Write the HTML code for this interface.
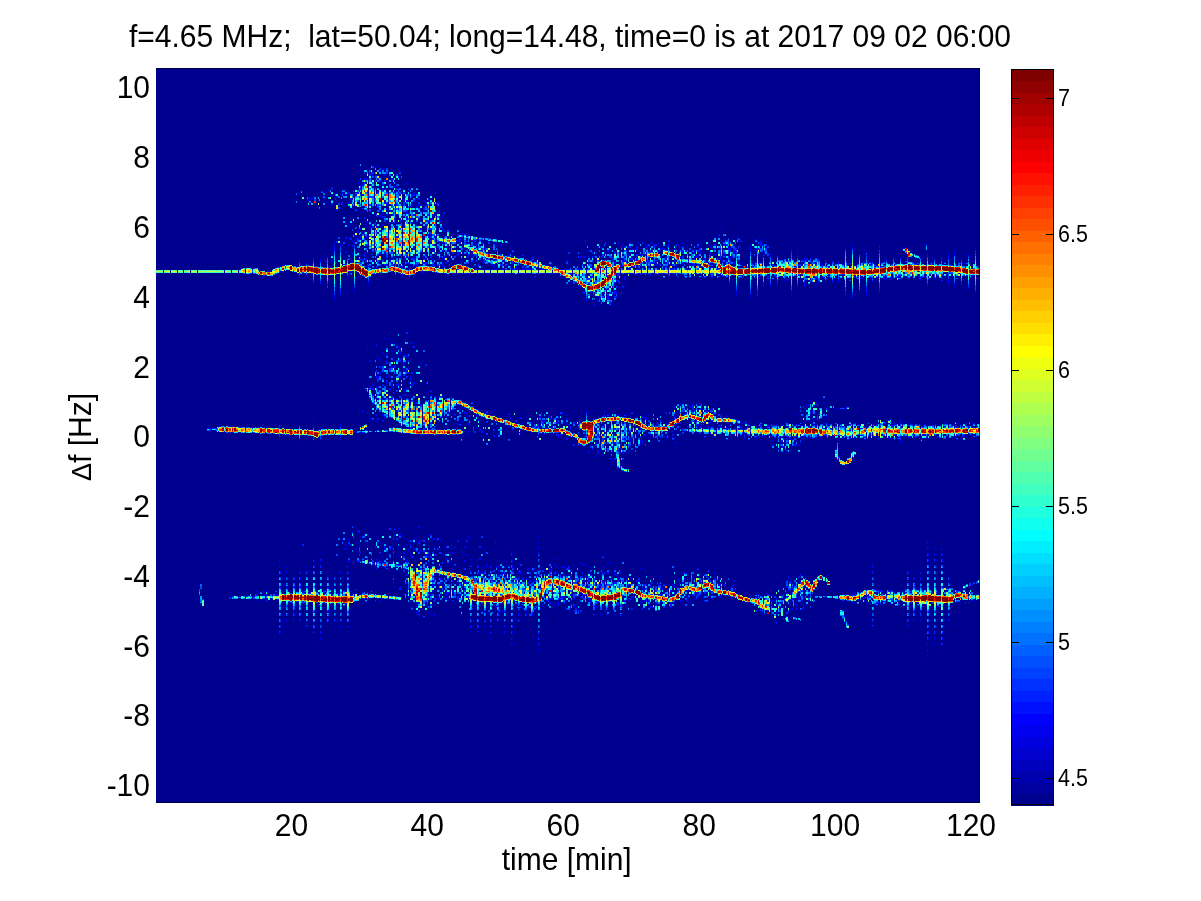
<!DOCTYPE html>
<html><head><meta charset="utf-8"><title>Doppler spectrogram</title>
<style>
html,body{margin:0;padding:0;background:#fff;}
body{width:1201px;height:901px;overflow:hidden;}
svg{display:block;position:absolute;left:0;top:0;}
text{font-family:"Liberation Sans",sans-serif;fill:#000;white-space:pre;}
</style></head><body>
<svg width="1201" height="901" viewBox="0 0 1201 901">
<rect x="0" y="0" width="1201" height="901" fill="#fff"/>
<rect x="156" y="68" width="824" height="735" fill="#00008f"/>
<g fill="none" shape-rendering="crispEdges">
<path stroke="#0000bf" stroke-width="1" transform="translate(.5)" d="M183 271v1m41 160v1m14-162v1m21 2v1m0 322v1m3-5v1m0 5v1m3-168v1m1-158v1m0 323v1m1-5v1m12 42v2m1-374v1m0 294v1m0 3v1m0 20v1m1-321v1m3-2v1m1 335v1m1-36v1m0 58v1m1-5v1m7-3v1m1-18v1m1-331v1m3-16v1m0 308v2m0 63v1m7-73v1m1 67v1m1-36v1m5-169v1m0 16v1m0 197v1m1-444v1m0 434v1m1-436v1m0 405v1m3-64v1m0 52v1m0 11v1m2-321v1m0 156v1m1 119v1m0 71v1m1-31v1m5-348v1m1-68v1m0 17v1m0 10v1m0 354v1m1-385v1m0 17v1m0 10v1m4-26v1m0 6v1m1 42v1m0 1v1m0 53v1m0 272v1m1-36v1m0 10v1m5-304v1m1-45v1m0 370v2m1-33v1m5-284v1m0 308v1m1-343v1m0 19v1m0 293v3m0 29v1m1-347v1m0 19v1m0 293v3m3-307v1m0 24v1m1-68v1m0 239v1m0 127v1m1-318v1m0 47v1m5-51v1m0 166v1m0 189v1m1-432v1m0 19v1m1 86v1m3-41v1m3 23v1m0 2v1m0 129v1m1-109v1m3-81v1m0 63v1m0 91v2m0 8v2m3 27v1m1-229v1m0 15v1m0 65v1m0 285v1m0 42v2m1-418v1m0 13v2m0 22v1m0 2v1m0 135v1m0 14v1m0 177v2m0 8v1m12-298v1m5-80v1m0 158v1m0 89v1m0 116v1m0 7v1m1-204v1m1-80v2m0 300v1m3-373v1m0 43v2m0 126v2m0 23v1m0 144v1m0 13v1m3-329v1m0 47v1m0 328v1m1-322v1m0 1v1m0 127v1m3-147v1m0 95v1m0 35v2m0 205v1m3-243v1m0 36v2m0 37v1m0 106v1m1-116v1m1-159v1m0 109v1m0 2v2m0 20v1m0 151v2m5-137v1m7-9v1m5-178v1m0 28v1m0 160v1m1 176v1m0 11v1m6-412v1m0 12v1m0 28v1m0 5v1m0 145v1m0 22v1m0 126v1m1-334v3m4 0v2m0 8v2m0 45v1m0 152v1m0 157v2m3-369v1m0 177v1m0 204v1m1-196v1m1 156v1m5-290v1m0 146v1m0 124v1m0 32v1m0 16v1m2-358v1m0 361v1m0 3v1m5-342v1m0 7v1m5 134v1m1-175v1m0 173v1m0 145v2m1-290v1m5 339v1m1-15v2m1 18v1m0 22v1m1-393v1m0 9v1m0 307v1m0 15v1m1-335v1m0 9v1m0 323v1m0 26v1m1-363v1m0 1v1m0 188v1m3-185v1m0 315v1m1-294v1m0 339v1m0 22v1m1-76v1m0 21v1m0 45v1m6-1v1m1-53v1m0 50v1m5-368v1m1 306v1m4-302v1m0 306v1m1-327v1m1 18v1m0 1v1m0 319v1m1-345v1m0 30v1m0 141v1m0 150v1m0 7v1m0 46v1m1-380v1m0 30v1m0 141v1m0 150v1m0 7v1m4-148v1m1-167v1m0 299v1m1-143v1m0 141v1m0 65v1m0 3v2m1-214v1m0 141v1m0 40v1m1-347v1m0 5v2m0 5v1m4 277v1m1-293v1m0 301v1m0 23v1m0 57v1m0 3v1m1-389v1m0 301v1m0 23v1m4 23v1m1-350v2m0 7v1m0 6v1m1 299v1m0 40v1m0 1v1m0 3v1m6-34v1m0 25v1m1-2v1m0 1v1m5-36v1m1-323v1m0 164v1m1-166v1m0 164v1m0 183v1m3-345v1m0 7v1m0 304v1m0 1v1m1-319v1m0 163v2m0 141v1m0 42v1m1-186v1m0 112v1m0 4v2m0 107v2m1-226v2m0 119v1m0 89v1m1-212v2m0 156v1m0 16v1m1 8v1m3-342v1m0 3v1m0 154v1m0 9v1m0 180v1m1-188v1m6-13v1m0 3v2m1-1v1m0 2v1m0 6v2m1-18v1m0 173v1m0 4v1m6-330v1m1 327v1m10-162v1m0 139v1m1-308v1m0 13v1m0 287v1m1-300v1m5 301v1m0 36v1m2-196v1m0 13v1m0 3v1m3-142v1m0 287v1m0 13v1m3-351v1m2 320v1m0 13v1m0 3v2m5-322v1m1 10v1m1-20v2m0 170v1m0 15v1m0 12v1m5-199v1m0 188v1m0 129v1m0 7v1m1-316v1m0 306v1m0 36v1m1-370v1m0 53v1m0 140v1m0 142v1m3-330v1m0 157v1m0 168v1m1-294v1m0 123v1m0 1v1m0 25v1m0 10v1m0 125v1m0 27v1m1-317v1m0 280v1m0 5v1m0 32v1m1-354v1m1-1v1m4 44v1m0 158v1m1 121v1m0 27v1m1-178v2m0 138v1m0 39v1m1-181v2m0 138v1m1-150v1m3-11v1m0 35v1m0 129v1m1-119v3m0 105v1m1-331v1m0 22v1m0 181v1m0 167v1m5-200v1m0 37v1m0 122v1m2-323v1m0 162v1m0 10v1m0 21v1m5-203v1m0 4v1m0 13v1m0 314v1m1 6v1m1-321v1m0 178v1m0 137v1m0 8v1m7 5v1m3-356v1m0 187v1m1-190v1m1-1v1m0 1v1m0 22v1m3-24v1m0 18v1m0 8v1m0 166v1m0 159v1m7-361v1m0 17v2m3 350v1m2-181v1m5-1v1m1-193v1m0 2v1m0 23v1m0 4v1m0 150v1m1-159v1m0 166v1m0 175v1m5-351v2m0 7v1m0 138v1m0 32v1m1-192v1m0 166v1m0 7v1m1-13v1m0 6v1m0 13v1m3-185v1m0 165v2m0 16v1m1-186v1m4 349v1m3-324v1m0 148v1m0 166v1m0 6v1m1-168v1m0 171v2m1-341v1m0 142v1m0 11v1m0 4v1m1-161v1m0 142v1m0 11v1m0 4v1m1-160v1m0 328v1m3-351v1m0 327v1m7-170v1m0 191v1m1-326v1m1-22v1m0 340v1m5-162v1m2-175v2m0 8v1m0 10v1m0 144v1m10-147v1m0 1v1m0 302v1m0 3v1m0 13v1m1-368v1m4 350v1m3-335v1m0 15v1m0 12v1m1 6v1m0 1v1m1-27v1m0 173v1m6-139v1m6-61v1m0 27v1m2 174v1m6-195v1m0 5v1m0 43v3m0 135v1m1-167v1m6-26v1m0 1v1m0 53v2m1-50v1m0 360v1m1-374v1m0 16v1m0 1v1m0 5v1m0 333v1m3-169v1m1-176v1m0 30v1m1 310v1m7-334v1m0 163v1m0 8v2m0 162v1m0 1v1m5-178v1m0 185v1m7-187v1m0 26v2m0 156v1m1-352v1m0 20v1m1-3v1m0 161v1m3 164v2m4-167v1m0 148v1m1-154v1m0 6v2m0 8v1m0 131v1m3-171v2m0 25v1m0 159v1m1-352v1m0 36v1m3-27v1m0 5v1m3 330v1m1-342v1m6 137v1m1 40v1m1-25v1m0 9v2m6 10v1m4-36v1m3-115v1m0 293v1m1-154v1m1-149v1m6 135v1m6-152v1m0 13v1m6-33v1m6 180v1m1-184v1m0 358v1m1-337v1m6-15v1m1 22v1m3 322v1m5-177v1m3-159v1m1-4v1m0 297v1m0 1v1m0 65v1m1-61v1m0 4v1m0 47v1m6-329v2m8 128v1m0 179v1m3 0v1m3-346v1m0 165v1m14 140v1m0 1v1m0 63v1m6-352v1m0 331v1m0 12v1m1-15v1m5-337v1m1 4v1m0 340v1m1-45v1m0 8v1m0 23v1m6-358v1m0 281v1m0 13v1m1-3v1m0 95v1m0 5v1m3-46v1m3-348v1m0 21v1m0 146v2m0 216v1m1-7v1m6-96v1m0 3v1m0 102v1m0 6v1m1-218v1m0 204v1m1-370v1m0 160v1m0 1v1m5-188v1m0 30v2m0 286v1m0 16v1m0 21v1m0 10v1m5-197v1m0 164v1m0 12v1m1-355v1m0 36v2m0 1v1m6 312v1m5-14v1m3-337v1m0 34v2m1-12v1m0 155v1m0 159v1m7-332v1m0 161v1"/>
<path stroke="#0000bf" stroke-width="2" d="M201 589v1m2 16v1m37-180v1m0 4v1m2-160v1m22 320v1m7-324v1m3 321v1m2-4v1m22-325v1m5 336v1m2-14v1m5 1v1m7-2v1m15-387v1m0 61v1m5-72v2m0 2v1m2 392v1m5-57v1m0 11v1m0 40v1m0 12v1m2-383v1m0 330v1m5-353v1m0 50v1m5 179v1m0 129v1m2-333v1m0 312v2m0 2v2m5-364v1m0 24v1m0 11v2m0 32v1m3-6v1m0 7v1m4-87v1m0 42v1m0 131v1m0 68v1m0 2v1m0 182v1m3-417v1m0 27v1m0 39v1m0 132v1m0 43v1m0 97v1m5-365v1m0 89v1m0 143v1m0 159v1m2-371v1m0 168v4m0 32v2m3-227v1m0 18v1m0 40v1m2-61v1m0 168v1m0 59v1m2-184v1m0 42v1m0 270v1m0 39v1m3-312v1m0 307v1m2-386v1m0 9v1m0 58v1m0 311v1m0 5v1m5-389v1m0 402v1m3-226v1m0 57v1m0 169v2m4-404v1m0 169v2m0 215v1m3-28v1m0 24v1m5-374v2m0 178v1m0 163v1m2-294v1m0 1v1m0 93v1m0 58v1m0 135v1m0 3v1m0 59v1m3-65v1m0 65v1m2-195v1m0 138v1m2-346v1m0 3v1m0 1v2m3-6v1m0 3v2m0 214v1m0 125v2m2-349v1m0 29v1m7-22v1m0 43v1m0 2v1m0 322v1m0 19v1m5-392v1m3 34v2m0 23v1m0 320v1m7-345v1m0 301v2m0 40v1m0 2v1m0 10v1m5-352v1m0 290v2m0 32v1m0 8v1m0 1v1m2 10v1m3-344v1m2-28v1m0 5v1m0 12v1m0 181v1m7-196v1m0 12v1m0 160v1m0 158v1m8-305v1m0 336v1m7-365v1m0 26v1m5 3v1m0 140v1m7-172v1m0 21v1m7-24v1m0 368v1m8-37v1m7-308v1m0 159v1m5-160v1m0 164v1m2-181v1m0 13v1m0 153v2m0 185v1m5-29v1m2 5v1m5-169v1m0 148v1m0 9v1m8 26v1m0 1v1m7-40v1m5-11v1m2 7v1m0 5v1m7-139v1m3-21v1m0 165v1m0 20v1m2-324v1m5 320v1m2-177v1m0 180v1m5-352v1m3 182v2m0 16v1m0 141v1m5-347v1m0 22v1m0 10v1m0 288v1m0 9v1m2-304v1m0 320v1m5-350v1m0 171v1m0 22v1m2-151v1m5 6v1m0 120v1m0 29v1m7-203v1m0 32v1m0 16v1m8-62v1m0 193v2m5 15v1m2-171v1m5-16v1m0 308v2m0 21v1m2-354v2m0 7v2m7 330v1m5-323v1m0 149v1m5-150v1m0 170v1m3-197v1m0 2v1m0 11v3m0 6v1m0 146v1m0 176v1m4 13v1m3-32v1m5-312v1m2-5v2m0 163v1m5-148v1m0 144v1m0 6v1m2-18v1m0 19v1m0 152v1m5-341v1m0 336v1m8 14v1m7-187v1m0 187v1m5-198v1m2-160v1m0 161v1m5-157v1m0 174v1m2 155v1m0 13v1m5-346v2m0 27v1m0 134v1m0 181v1m3-23v1m9-334v1m0 22v1m0 318v1m3-168v3m5 19v1m2-184v1m0 180v1m0 149v1m7-321v1m0 161v1m5-160v1m0 160v1m3-2v1m4-185v1m3 12v1m5 167v1m12 15v1m0 165v1m2-331v1m0 324v1m5-326v1m2 160v1m5-178v1m0 176v1m3 142v1m5-8v1m0 8v1m0 20v1m7-166v1m0 161v1m0 1v1m5-182v1m0 183v1m2-206v1m0 189v1m5-305v1m0 133v1m0 3v1m2-162v1m0 135v1m0 1v1m0 24v1m0 11v1m0 148v1m5-325v1m0 173v1m3-36v1m0 173v1m12-155v1m0 23v1m5-38v1m2-1v1m5 15v1m2-165v1m0 168v1m0 5v1m5 155v1m3-316v1m0 149v1m12 6v1m7-11v1m5-163v1m0 172v1m0 154v1m7-1v1m3-313v1m0 145v1m4 11v1m0 156v1m3-169v1m0 179v1m5-13v1m7-4v1m0 12v1m7-346v1m0 166v1m5-165v1m0 173v1m0 154v1m15-327v1m0 341v1m7-331v1m0 318v1m7-320v1m0 148v1m5-161v1m0 336v1m2-341v1m8-1v1m0 160v1m5 1v1m0 1v1m0 8v1m0 164v1m2-175v1m0 171v1"/>
<path stroke="#0000df" stroke-width="1" transform="translate(.5)" d="M163 271v1m53 156v1m8-158v1m8 154v1m0 5v1m6-1v1m7-163v1m0 1v1m6 0v1m4 325v1m4-4v1m7-3v1m0 6v1m1-331v1m0 328v1m12-179v1m0 1v1m0 16v1m0 117v2m0 76v1m1-11v1m0 4v1m5-205v1m0 164v1m1-160v1m0 132v1m0 4v2m0 13v1m0 31v2m1-50v1m0 5v1m0 10v1m0 17v1m1-16v1m4 1v1m1-328v1m0 304v3m0 46v1m0 5v1m1-49v1m0 7v1m0 27v1m1-23v1m4-333v2m0 163v1m0 139v1m0 54v2m1-50v2m0 12v1m1 16v1m5-341v1m0 302v2m0 58v1m1-56v2m0 13v1m0 34v1m6-365v1m0 26v1m0 136v3m0 2v1m0 126v1m0 5v1m0 73v1m0 3v1m1-78v2m0 3v2m0 45v1m0 19v1m4-203v1m1 158v1m0 13v1m0 1v1m1-347v2m0 166v1m0 11v1m0 113v1m0 33v1m0 49v1m0 1v1m1-81v2m0 4v1m0 1v1m0 20v1m0 42v2m4-43v1m0 12v1m2-349v1m0 1v1m0 171v1m0 142v1m0 13v1m0 25v1m0 12v3m1-50v1m0 8v1m0 23v1m1-20v1m4-399v1m0 2v2m1 43v1m0 1v1m0 51v1m0 132v1m0 191v1m0 3v1m1-49v1m0 41v1m5-379v1m0 182v3m0 12v1m0 131v1m0 53v2m1-428v1m0 377v1m0 1v1m0 41v1m1-377v1m0 292v1m0 52v1m5-158v1m0 130v1m0 59v1m0 5v1m1-440v1m0 10v1m0 22v1m0 17v1m0 316v1m0 4v1m0 59v2m1-436v1m0 10v1m0 22v1m0 17v1m0 316v1m3-357v1m0 40v1m0 7v1m0 6v2m0 330v1m1-364v1m0 26v1m0 302v1m1-273v1m5-99v1m0 10v2m0 33v1m0 18v2m0 156v1m0 18v1m0 99v1m1-364v1m0 15v1m0 3v1m0 20v1m0 17v1m0 9v2m0 313v1m1-127v1m3 131v1m3-376v1m0 24v1m0 2v1m0 8v2m0 13v2m0 8v1m0 6v1m0 11v1m0 147v1m0 186v1m1-411v1m0 3v4m0 84v1m0 3v1m3-123v1m0 56v1m0 368v1m0 9v1m3-200v1m1-235v1m0 6v2m0 49v1m0 10v2m0 14v1m0 345v1m0 2v1m1-435v1m0 56v1m0 5v1m0 3v2m0 123v1m0 14v2m0 44v1m0 140v2m0 1v1m5-296v1m0 326v1m7-1v1m5-426v1m0 82v1m0 2v1m0 7v1m0 5v1m0 108v2m0 15v1m0 132v1m0 6v1m0 36v1m1-388v1m0 35v1m0 1v1m0 177v1m0 23v1m0 158v2m1-313v1m0 143v1m3-232v1m0 4v1m0 7v1m0 6v1m0 137v2m0 8v2m0 30v1m0 35v1m0 103v1m0 6v1m0 4v2m0 7v1m0 4v2m0 14v1m3-367v1m0 53v1m0 103v2m0 205v1m1-307v2m0 1v1m0 140v1m0 24v1m3-241v1m0 68v1m0 7v1m0 68v2m0 17v1m0 196v2m0 30v2m0 10v1m3-399v1m0 74v1m0 106v2m0 14v1m0 17v2m0 9v1m0 113v1m0 6v4m1-285v1m0 9v1m0 291v1m1-377v1m0 70v1m0 111v1m0 167v2m0 6v2m0 39v1m0 8v1m0 4v1m5-190v1m7-146v1m5-82v1m0 42v1m0 26v1m1-65v1m0 23v2m0 201v2m0 2v1m0 124v4m0 42v1m6-377v2m0 39v1m0 6v1m0 145v1m0 128v1m0 26v1m0 24v1m0 4v1m1-365v2m0 18v2m0 4v1m0 146v1m0 164v1m0 3v2m0 10v2m1-192v2m3-194v2m0 220v1m3-193v2m0 7v1m0 7v1m0 13v1m0 142v1m0 167v2m2-362v2m0 18v2m0 11v1m0 9v1m0 5v1m0 336v1m5-361v2m0 15v1m0 145v1m0 165v1m0 13v2m1-353v1m0 158v1m1-168v1m0 199v1m0 113v2m0 32v1m10-333v2m0 155v1m0 140v1m0 1v2m0 20v1m1-336v1m0 22v2m0 159v2m0 7v1m0 168v1m1-328v1m0 302v1m5-334v1m0 30v1m0 162v1m0 99v1m0 39v1m1-304v1m0 145v2m0 155v1m0 23v1m1-365v1m0 323v1m0 70v1m1-378v3m0 308v1m0 5v1m0 53v2m1-373v3m1-16v1m0 1v1m0 11v1m3-17v1m0 19v1m0 154v1m0 13v1m1-157v1m0 282v1m0 3v3m0 3v1m0 66v1m1-360v1m0 293v1m0 4v1m0 8v1m5-313v1m0 3v1m0 302v1m0 26v1m1-357v2m0 22v1m0 295v1m0 44v1m0 14v1m0 4v1m1-387v1m0 1v2m0 19v1m0 3v1m0 337v1m0 7v2m5-350v1m0 289v1m0 65v1m0 3v1m0 1v1m0 3v1m0 1v1m1-375v1m0 3v1m0 3v1m0 137v1m0 154v2m0 5v1m0 51v1m1-361v1m0 3v1m0 3v1m0 137v1m0 196v1m3-357v1m0 6v1m0 9v1m0 308v1m1-310v1m0 3v1m0 304v1m0 27v2m1-36v2m0 51v3m1-212v1m0 17v1m0 132v1m0 2v1m0 49v1m1-205v1m0 17v1m0 132v1m0 2v1m3-311v2m0 7v1m0 3v1m0 337v1m1-352v2m0 306v1m1-309v1m0 304v2m0 45v1m0 13v1m0 6v1m1-67v1m0 4v2m0 37v1m0 9v1m0 3v1m2-362v2m0 312v1m0 36v1m3-44v2m1-317v1m0 3v1m0 9v1m0 277v1m0 5v1m0 3v1m0 22v1m0 27v1m1-342v1m0 283v2m0 5v1m0 70v2m0 11v1m1-376v1m0 309v1m0 12v1m0 8v1m0 7v1m1-337v1m3-9v1m0 312v1m0 25v1m1-32v1m0 14v1m0 17v1m1-334v1m0 145v1m0 2v2m0 138v1m0 15v1m0 26v1m0 8v1m5-347v2m1-12v1m0 7v1m0 1v1m0 314v2m1-168v1m0 8v1m0 185v1m0 1v1m5-358v2m0 12v1m0 347v1m1-194v2m0 142v2m0 43v1m1-190v2m0 142v2m0 23v1m0 7v2m3-332v1m0 152v2m0 149v1m1-305v1m0 298v2m0 29v1m1-180v1m0 10v1m0 101v1m0 5v1m0 5v1m0 95v1m1-230v1m0 137v1m0 83v2m0 3v1m1-228v1m0 168v1m0 23v1m1-341v1m0 3v1m0 154v1m0 137v1m0 5v1m3-153v2m0 146v1m0 49v1m4-346v1m0 319v1m3-321v1m0 147v3m0 3v1m0 140v1m1-302v1m0 158v1m0 5v2m0 144v1m1-2v1m0 11v1m0 2v1m0 9v1m5-181v2m0 13v1m0 172v1m1-184v1m0 5v1m1 1v1m0 138v1m0 17v1m0 3v1m5-326v1m5-5v1m0 5v1m0 303v1m0 17v1m1-177v1m1-149v1m0 164v1m5 173v1m1-343v1m0 17v2m0 289v1m0 2v1m1-310v1m0 12v1m0 133v1m3-127v1m0 283v1m0 16v2m3-321v4m0 22v1m0 133v2m0 174v1m1-340v1m0 3v2m0 23v2m0 136v2m1 127v1m0 6v1m0 6v1m0 18v1m0 5v1m5-342v1m0 338v1m1-336v1m0 3v1m0 3v1m0 20v2m0 118v1m0 19v1m0 140v1m0 6v1m0 26v1m0 1v1m1-348v2m0 35v1m0 121v1m0 1v1m0 150v1m0 33v1m5-313v1m0 121v2m0 27v1m0 125v1m0 4v1m0 2v5m1-322v1m0 29v1m0 282v1m0 3v1m0 26v1m1-368v2m0 5v2m0 11v1m0 168v2m0 2v1m0 144v1m0 27v1m3-322v2m0 2v2m0 112v1m0 3v1m0 1v1m0 149v1m0 16v1m0 4v2m1-334v2m0 30v1m0 151v1m0 4v1m1-176v1m0 18v1m1-40v1m0 37v2m0 124v1m0 147v1m0 16v1m0 34v1m1-365v1m0 37v2m0 124v1m0 147v1m0 16v1m3-313v1m0 147v1m0 40v1m0 112v1m1-314v2m0 28v2m0 6v2m0 150v2m0 2v1m0 1v1m0 149v1m1-347v2m0 33v1m0 2v1m0 284v1m0 33v1m1-324v1m0 152v2m0 127v1m0 2v1m1-286v1m0 152v2m0 127v1m0 2v1m1-2v2m0 28v1m3-341v1m0 4v1m0 4v2m0 2v2m0 142v1m0 27v1m0 133v2m0 15v1m1-337v1m0 4v2m0 194v2m0 104v2m0 45v1m1-353v1m0 148v1m0 28v1m0 7v1m0 123v1m0 37v1m5-343v1m0 303v2m1-310v1m0 199v1m1-224v1m0 8v1m0 153v1m0 19v1m0 22v1m0 147v1m5-356v1m0 3v1m0 9v1m0 6v1m0 159v2m0 144v2m0 9v1m0 20v1m1-339v1m0 4v1m1 315v1m0 6v1m5-341v2m0 185v1m0 2v2m0 122v1m0 34v1m1-192v1m0 2v2m0 1v1m0 9v1m0 1v2m1-181v1m0 15v1m0 332v1m3-356v1m0 1v1m0 2v1m0 17v1m0 171v2m0 9v1m0 118v1m0 18v1m0 17v1m1-352v2m0 157v1m0 1v1m0 181v1m0 6v1m1-361v1m0 179v1m3-170v1m0 11v1m0 165v1m0 148v1m3-333v1m0 8v1m0 7v1m1-26v1m0 19v2m3-1v1m0 338v1m0 2v1m0 1v1m3-362v1m0 327v2m2-331v3m0 338v1m5-175v2m0 19v1m0 150v1m1-345v1m0 1v1m0 19v1m1-25v1m0 23v1m0 315v1m5-333v1m0 167v2m0 14v1m0 151v4m1-341v1m0 177v1m1-162v2m0 1v1m0 175v1m0 149v1m3-347v1m0 1v1m0 17v1m0 138v1m0 21v1m1-173v2m0 145v1m0 19v1m1-153v1m3 306v1m0 17v1m3-357v1m0 5v1m0 159v1m0 19v1m0 169v1m0 4v1m1-333v1m0 331v1m1-338v2m0 139v1m0 16v1m0 174v1m0 4v1m1-339v2m0 139v1m0 16v1m0 179v1m1-338v1m0 142v1m0 183v1m0 2v1m0 4v2m3-346v3m0 8v1m0 146v1m0 7v1m0 163v1m1-167v1m0 10v1m1-26v1m0 14v1m0 6v1m0 164v1m5-320v1m0 141v1m0 162v1m0 11v1m0 1v1m2-345v1m0 23v1m0 130v1m0 20v1m0 168v1m5-5v2m1-324v3m0 147v1m0 11v1m1-185v2m0 4v2m0 13v1m0 155v1m0 3v1m0 5v1m0 162v1m3-20v1m3-305v1m0 157v1m1-166v1m0 313v1m3-354v1m0 20v2m0 2v2m0 5v1m1-1v1m0 173v1m0 141v1m1-316v1m0 157v1m3-165v2m0 339v1m3-334v1m0 160v1m0 1v1m0 2v1m1-173v1m0 25v1m0 1v1m1-27v1m5 6v1m0 159v1m1-177v1m0 41v4m0 126v1m1-155v1m0 169v1m5-10v1m1-164v1m0 12v1m1 156v1m0 1v1m3-162v1m0 148v2m0 8v1m3-191v1m4 19v1m3-21v1m0 46v1m0 135v1m1-181v1m0 28v1m0 327v1m1-364v1m0 1v1m0 7v1m0 184v1m3-194v1m0 367v1m0 1v1m2-363v1m0 2v1m0 171v1m0 171v1m5-322v1m0 155v1m0 159v1m1-341v1m0 1v1m0 27v1m0 1v1m0 146v1m0 173v1m1-13v1m0 8v2m0 9v1m5-339v1m0 335v1m1-359v1m0 27v2m1-22v1m0 184v1m0 137v1m5-5v1m0 21v2m0 2v1m0 4v1m0 5v1m2-362v1m0 166v1m0 10v1m0 15v1m3-190v1m0 326v2m0 4v1m3-350v1m0 1v1m1 9v1m0 13v1m0 305v1m0 9v1m0 18v2m1-32v1m0 6v2m0 12v1m0 13v1m3-14v1m0 5v1m1-354v3m0 30v1m0 1v1m0 299v1m3-167v1m0 14v1m0 4v2m0 145v1m0 6v2m3 10v1m1-354v1m0 3v1m0 1v1m0 24v1m0 138v1m0 10v1m1 10v1m5-170v1m1-19v1m0 19v2m0 143v1m1-16v2m0 26v1m5-181v1m0 18v1m0 1v1m0 128v2m0 5v1m1-158v1m0 22v1m0 1v1m1 127v1m0 1v1m0 5v1m0 5v1m3-162v1m0 1v1m0 10v1m3 4v1m0 295v1m1-317v1m0 173v1m1-162v1m5 6v1m1-5v1m1-1v1m0 129v2m4-149v1m0 19v2m0 173v1m0 139v1m1-323v1m0 165v2m5-177v1m0 8v1m0 341v1m0 6v1m1-377v1m0 46v2m0 1v1m0 322v1m1-157v1m5-202v1m0 1v1m0 11v2m0 173v1m1-209v1m0 50v1m0 2v1m0 290v1m1-326v1m0 3v1m6-19v1m0 2v1m0 40v1m0 302v1m1-334v1m0 160v1m0 166v1m3-156v1m0 152v1m3-344v1m0 1v1m0 1v1m0 40v3m1-33v1m0 12v1m0 151v1m0 11v1m1-4v1m4-178v1m0 167v1m0 138v1m0 59v1m1-62v1m0 5v1m0 1v1m5-135v1m0 163v1m1-355v1m1 16v1m0 323v1m5-315v1m1-17v1m0 15v2m0 1v1m0 153v1m1-172v1m0 175v1m0 165v1m3-327v1m0 159v1m3-182v1m0 21v1m0 143v1m0 1v1m0 169v1m1-172v1m3-162v1m0 172v1m0 163v1m3-344v1m0 162v1m0 1v1m0 17v3m1-168v1m0 147v1m0 3v1m0 162v1m1-164v1m5-150v2m0 148v1m0 137v1m0 20v1m0 44v2m1-197v1m0 133v2m0 15v1m0 31v1m0 4v1m0 1v1m1-191v1m3-14v1m0 181v1m1-34v1m0 3v1m0 41v1m0 1v1m1-359v1m0 314v2m0 40v1m5-358v1m0 171v1m1-180v1m0 170v1m0 144v1m0 5v1m0 32v1m0 7v2m1-357v1m0 308v1m0 5v1m0 35v1m5-27v1m0 15v1m1-321v1m0 148v1m0 106v2m0 95v1m0 5v1m0 5v2m0 4v2m1-382v1m0 2v1m0 143v1m0 119v1m0 9v2m3-293v1m0 329v1m3-316v2m0 269v1m0 4v1m0 1v1m0 83v1m0 3v1m0 1v1m1-383v1m0 283v1m0 6v1m0 5v2m0 50v1m0 18v2m0 4v1m1-204v1m0 154v1m0 14v1m5-346v1m0 19v1m0 148v1m0 112v1m1-278v1m0 284v1m0 3v3m0 4v1m0 25v1m0 23v1m0 33v1m6-391v1m0 3v1m0 20v1m0 2v1m0 290v1m1-310v1m0 312v1m0 41v2m1-357v1m4-15v1m0 2v2m1 23v1m0 145v1m0 177v1m5-179v1m0 13v1m0 152v1m1-334v1m0 27v1m0 141v1m1 160v1m0 10v1m3 2v1m3-350v1m0 171v2m1 175v1m1-169v1m0 164v1m5-353v2m0 2v1m0 39v1"/>
<path stroke="#0000df" stroke-width="2" d="M215 430v1m5-5v1m34 169v1m3-170v1m7-1v1m0 163v1m7 6v1m5-5v1m2-2v1m20-321v1m5 317v1m0 9v1m2-167v1m0 156v1m5-396v1m0 404v1m2-406v1m0 406v1m12-12v2m8-6v1m0 4v1m5-385v1m0 382v1m7-46v1m2-355v1m0 27v1m0 29v1m0 291v2m0 3v1m5-327v2m0 366v1m5-357v2m0 2v2m0 307v2m0 10v1m2-379v2m0 47v2m0 22v1m0 339v1m5-413v1m0 10v2m0 45v1m0 12v1m0 3v1m0 159v1m0 173v1m3-372v2m0 1v1m0 2v1m0 8v1m0 16v1m0 5v1m0 6v1m0 122v1m4-217v1m0 37v1m0 4v1m0 143v2m0 25v1m0 32v1m3-247v2m0 30v1m0 16v1m0 12v1m0 11v1m0 11v2m0 122v1m0 9v2m0 166v1m5-207v2m0 28v1m0 11v1m0 20v1m0 174v1m2-419v2m0 32v2m0 4v1m0 13v1m0 311v2m0 16v1m3-349v2m0 10v1m0 19v1m0 11v1m0 95v2m0 45v1m0 15v1m0 5v1m0 134v2m0 8v1m2-367v1m0 2v1m0 49v1m0 85v1m0 28v2m0 47v1m0 130v2m2-342v1m0 5v1m0 44v1m0 5v1m0 88v1m0 5v1m0 15v2m0 4v2m0 1v1m3-176v2m0 11v1m0 4v1m0 30v1m0 78v2m0 26v2m0 202v1m2-391v1m0 1v2m0 30v2m0 46v2m0 78v1m0 7v2m0 14v2m0 19v1m0 8v1m0 149v2m5-381v1m0 20v1m0 2v1m0 13v1m0 22v1m0 169v1m0 15v1m0 1v1m0 147v1m3-299v1m0 92v1m0 204v1m4-364v1m0 22v2m0 30v1m0 2v1m0 8v1m0 99v4m0 18v2m0 3v1m0 32v1m0 133v1m0 6v1m3-388v2m0 17v1m0 10v1m0 6v1m0 33v1m0 2v1m0 97v4m0 12v2m0 173v1m0 28v2m0 6v2m0 6v2m0 2v2m5-405v1m0 2v2m0 8v2m0 19v1m0 23v1m0 92v2m0 197v1m2-350v1m0 55v1m0 8v1m0 145v1m0 23v1m0 111v1m0 3v1m0 4v1m0 21v1m0 28v1m3-375v1m0 208v1m0 104v1m0 24v1m0 42v1m0 5v1m2-410v1m0 13v2m0 191v1m0 13v1m0 2v2m0 96v1m0 76v1m0 11v1m2-411v1m0 3v1m0 18v1m0 133v2m3-164v2m0 5v1m0 49v1m0 5v1m0 273v1m0 33v1m2-370v1m0 48v1m0 2v1m0 9v1m0 118v1m0 182v1m5-374v1m0 1v1m0 8v1m0 13v2m0 28v1m0 22v1m0 123v1m0 169v1m0 48v1m2-400v1m0 2v2m0 31v1m0 14v1m0 272v1m0 45v3m0 3v1m5-390v1m0 196v1m0 1v1m0 182v2m0 8v2m0 3v1m3-380v1m0 43v1m0 3v1m0 132v1m0 138v2m5-126v1m0 141v2m0 32v4m2-183v1m0 182v1m5-341v1m0 312v1m0 10v1m0 2v1m0 6v1m0 1v1m2-187v1m0 139v2m3-314v1m0 5v1m0 358v1m2-359v1m0 6v2m0 2v1m0 155v2m0 185v1m5-22v1m0 13v2m2-355v2m0 4v1m0 10v1m0 4v1m0 15v1m0 139v1m0 140v2m0 26v1m0 13v1m8-357v1m0 19v1m5 8v1m0 3v1m0 298v1m2-330v1m0 13v1m0 309v1m0 4v1m5-128v1m0 118v1m2-312v1m0 15v1m0 3v1m0 328v1m5-339v1m0 2v1m0 1v1m0 311v1m7-338v1m0 24v1m0 340v1m8-358v1m0 1v1m0 17v1m0 305v1m0 24v1m7-182v1m0 149v1m5-301v1m0 159v1m0 136v1m0 11v1m2-310v1m0 303v1m0 30v1m5-340v1m0 3v1m0 152v1m0 180v1m2-28v1m5-304v1m0 291v1m0 9v2m0 26v1m8-188v1m0 11v1m0 171v1m0 1v1m4-342v1m0 7v1m0 150v2m0 147v1m0 1v1m0 25v1m3-33v2m5-298v1m0 285v1m0 4v1m0 39v2m2-333v1m0 144v2m0 15v1m0 131v1m0 34v1m5-328v1m0 290v1m0 9v1m2-3v1m0 22v1m3-183v1m0 2v1m0 3v2m0 157v1m0 18v1m2-332v1m0 154v2m0 186v1m5-344v1m0 3v1m0 291v1m0 41v1m7-186v1m0 139v1m3-297v1m0 15v1m0 281v1m0 15v1m5-334v1m0 3v1m0 4v2m0 41v1m0 151v2m0 125v1m0 20v1m2-33v1m0 6v1m0 28v1m5-351v1m0 171v1m0 6v2m0 12v1m0 154v1m0 5v1m2-362v1m0 49v1m0 4v1m0 116v1m0 15v2m0 17v1m0 148v1m5-347v2m0 157v2m0 189v1m7-359v1m0 210v1m0 119v1m8-166v1m0 35v1m0 126v1m0 1v1m0 23v1m5-360v1m0 13v2m0 192v1m0 153v1m2-334v1m0 8v1m0 303v1m5-345v1m0 26v1m0 145v1m0 22v4m2-193v1m0 23v1m0 319v1m0 15v1m5-364v1m0 9v2m0 7v1m0 314v1m2-339v1m0 8v1m0 182v2m0 144v1m0 8v1m5-322v1m0 151v1m0 167v1m0 11v2m5-363v1m0 17v1m0 8v1m0 148v1m0 20v1m0 167v1m3-332v1m0 317v1m0 2v1m0 12v1m4-344v2m0 158v2m3-183v1m0 6v1m0 13v1m0 9v1m0 309v1m5-337v1m0 18v1m0 168v1m2-181v2m0 166v2m0 11v1m5-11v1m0 175v1m0 3v1m2-178v1m0 154v1m5-172v2m0 162v1m5-337v1m0 339v1m0 17v1m0 3v1m3-360v1m0 345v1m7-328v2m0 145v1m0 165v1m5-332v1m0 11v2m0 154v2m0 9v1m0 8v1m0 133v1m0 24v1m0 3v1m2-348v1m0 1v2m0 170v1m0 1v1m0 1v1m0 151v1m0 14v1m5-347v1m0 12v1m0 159v1m0 14v1m2-32v1m0 21v1m0 163v1m5-329v1m0 2v1m0 140v1m0 4v1m0 12v1m0 155v2m3-330v2m0 173v1m4-2v1m0 148v1m0 6v2m5-342v1m0 9v2m3 5v1m0 165v2m0 161v1m0 4v1m5-339v1m2-23v1m0 16v1m0 13v1m0 8v1m0 304v1m0 4v1m0 11v1m5-358v2m0 186v1m2-154v1m0 145v1m8 175v1m4-335v1m3-13v1m0 2v1m0 7v1m0 164v1m0 9v1m0 158v1m0 14v1m5-190v1m0 188v1m12-348v1m0 14v1m0 156v1m0 4v1m0 2v2m0 143v1m0 10v1m0 15v1m2-352v1m5 0v1m0 169v1m0 171v2m2-187v1m0 1v1m0 169v1m0 6v2m5-182v1m0 15v1m0 12v1m0 140v2m3-156v1m0 142v1m0 26v2m5-27v2m0 17v1m4-27v1m3-303v1m0 319v2m0 8v1m0 4v1m5-352v1m0 146v1m0 14v1m0 17v1m0 165v1m2-329v1m0 124v1m0 2v1m0 186v1m7-314v1m0 146v1m0 11v1m5 0v1m3-161v1m0 124v1m0 19v1m0 1v1m0 9v1m5-170v1m2-2v1m12 335v1m0 8v1m5 13v1m2-358v1m0 326v1m5-320v2m0 149v1m0 10v1m3-163v1m0 3v1m7 316v2m0 3v1m5-338v1m0 12v1m0 147v1m0 7v1m5-170v1m2 338v1m5-338v1m2 326v2m8-321v1m4 0v1m0 1v1m0 156v1m3-159v1m0 2v1m0 159v1m5-168v1m2 163v1m0 166v1m5-168v1m5 0v1m0 164v1m2-167v1m0 165v1m5-326v1m2 146v1m5-151v1m3-12v1m7 330v1m5-323v1m2 1v1m0 316v1m10-169v1m0 2v1m0 12v1m7-175v1m0 169v1m0 156v1m10-156v1m5 156v1"/>
<path stroke="#0000ff" stroke-width="1" transform="translate(.5)" d="M177 271v1m22 323v1m10-168v1m1-1v1m0 1v1m8 0v1m10-6v1m4 169v1m19-329v1m0 329v1m1-330v1m0 2v1m6 327v1m1-330v1m3 155v1m3 0v1m1 162v1m0 6v1m13-162v3m0 121v1m0 3v3m0 18v1m0 45v1m1-62v1m0 15v1m0 37v1m0 5v1m0 1v1m6-63v1m0 49v1m1-43v1m0 35v1m2-15v1m3 1v1m1 15v1m0 1v1m1-45v1m0 9v1m0 25v1m0 1v1m1-15v1m4-340v1m0 14v1m0 162v1m0 130v1m0 1v1m0 12v1m1-10v3m0 7v1m0 27v1m0 3v1m1-419v2m5 59v1m0 11v1m0 311v1m0 34v1m0 5v1m1-55v1m0 13v1m1-389v2m0 228v1m5-170v1m0 21v1m0 144v1m0 12v1m0 190v1m0 12v1m2-55v1m4 3v1m1-338v1m0 3v1m0 19v1m0 1v1m0 145v1m0 130v2m0 71v1m0 4v1m1-73v1m0 58v1m0 1v1m4-401v2m0 307v2m1-337v2m1 81v1m0 288v1m0 13v1m0 23v1m1-422v1m0 76v1m0 320v1m0 21v1m0 8v1m0 1v1m1-432v1m0 76v1m1-72v1m0 52v2m0 342v1m3-385v1m0 55v1m1-19v1m0 1v1m0 45v1m0 2v1m0 289v1m0 21v1m1-409v1m0 376v1m0 40v1m5-377v1m0 48v1m0 142v1m0 135v2m0 47v1m0 5v1m1-369v2m1-69v1m0 10v1m0 40v1m0 294v1m5-265v1m0 295v1m0 54v2m1-426v1m0 34v2m0 32v1m0 157v1m0 130v1m0 1v1m0 9v2m0 3v1m0 8v1m0 25v1m1-411v1m0 34v2m0 32v1m0 157v1m0 130v1m0 1v1m0 28v1m3-384v1m0 31v2m0 3v1m0 7v1m1-23v1m0 30v1m0 300v1m1-322v2m0 43v1m0 1v2m5-100v1m0 8v1m0 4v1m0 31v1m0 11v2m0 23v1m0 137v1m0 117v1m0 2v1m0 13v1m1-336v1m0 16v1m0 202v1m0 119v1m1-124v1m0 167v1m3-420v2m0 2v1m0 351v2m0 28v1m0 29v1m0 4v1m3-362v2m0 12v1m0 95v2m0 37v1m0 24v1m0 143v1m0 1v1m1-368v1m0 72v1m0 16v1m0 1v1m0 104v1m3-224v1m0 98v1m0 99v2m0 26v1m3-195v2m0 73v1m1-96v2m0 48v1m0 33v2m1-58v1m0 18v2m0 4v1m0 35v1m0 5v1m0 70v1m0 31v2m0 37v1m0 15v1m0 134v1m12-366v1m0 46v1m5-37v1m0 40v1m0 4v1m0 5v1m0 266v1m0 24v2m0 2v1m0 14v1m0 6v2m1-398v1m0 17v1m0 61v1m0 132v1m0 128v1m0 5v1m1-259v1m0 139v1m3-219v3m0 8v1m0 43v1m0 6v2m0 267v1m0 35v1m3-376v1m0 14v1m0 10v2m0 4v1m0 34v1m0 1v1m0 98v2m0 10v2m1-105v1m0 6v2m3-83v1m0 18v4m3-28v1m0 183v2m0 48v1m0 174v1m1-356v2m0 24v1m1-3v1m0 136v1m0 24v1m0 151v1m0 11v1m0 4v1m0 8v1m17-414v1m0 26v2m0 326v2m0 20v1m0 34v1m1-371v3m0 164v1m0 31v1m0 157v2m0 18v1m1-41v1m5-370v1m0 32v2m0 11v1m0 14v1m0 273v1m0 15v2m0 19v1m0 2v1m0 5v2m0 12v1m0 16v1m1-424v1m0 16v1m0 45v1m0 156v1m0 166v1m1-169v1m3-202v1m0 47v1m0 137v1m0 4v1m0 27v1m0 138v2m3-320v1m0 11v2m0 1v1m0 325v1m2-336v1m0 1v1m0 136v1m5-143v1m0 141v1m0 16v1m0 164v1m0 14v1m2-358v1m0 176v2m0 130v1m0 38v1m10-35v1m0 23v2m0 29v2m1-373v1m0 364v1m1-167v1m5-190v1m0 11v1m0 167v2m0 10v1m0 101v1m1-284v2m0 321v1m1-341v1m0 321v1m0 5v1m0 59v1m1-353v1m0 292v1m0 5v1m0 46v2m0 6v1m1-355v1m0 330v2m0 3v1m1-356v1m3-11v1m0 13v1m0 10v1m0 3v1m0 141v2m0 10v1m1-157v1m0 299v1m0 54v1m1-388v1m0 26v1m0 2v1m0 139v1m0 9v2m0 145v1m0 6v1m0 53v1m0 3v1m5-373v1m0 1v1m0 169v2m0 172v1m1-357v1m0 11v1m0 151v1m0 158v1m0 38v1m0 7v2m0 4v1m1-379v1m0 12v1m0 152v1m0 161v1m0 34v1m5-196v1m0 149v2m0 6v1m0 51v1m1-362v1m0 147v1m0 207v1m0 5v1m0 5v1m1-369v1m0 147v1m3-163v1m0 2v1m0 19v1m0 268v2m1-285v1m0 306v1m0 12v1m1-309v1m0 306v1m0 42v1m1-189v1m0 137v1m0 3v1m0 30v1m1-174v1m0 137v1m0 3v1m3-4v2m0 36v1m1-42v1m1-315v1m0 371v1m0 3v2m1-360v1m0 302v1m1-304v1m0 302v1m1 2v1m0 33v2m3-342v1m0 143v1m1 142v1m0 70v1m0 5v3m0 3v2m1-382v1m0 4v1m0 160v1m0 136v2m0 65v1m1-371v1m0 4v1m0 160v1m0 178v1m4-345v1m0 8v1m0 305v1m0 21v1m1-331v1m0 300v1m0 40v3m0 3v1m1-351v1m0 293v1m0 12v1m0 2v1m0 28v1m0 11v2m5-349v1m1-17v1m0 13v1m0 315v1m0 23v1m0 1v1m1-345v1m0 3v1m0 304v1m0 31v1m0 4v1m5-357v1m0 6v2m0 1v1m1-12v1m0 326v1m0 27v2m1-357v1m0 335v1m3-20v1m1-317v1m0 7v1m0 1v1m0 156v2m0 174v1m1-178v1m0 8v1m0 112v2m0 5v1m0 82v1m0 6v1m0 4v1m1-381v1m0 283v1m0 6v2m0 70v2m1-365v1m0 338v1m1-197v1m0 154v1m0 5v1m3-5v1m0 27v1m4-182v1m0 175v1m0 4v1m3-172v1m0 142v2m1-300v1m0 155v1m1-155v1m0 314v1m5-316v1m0 142v1m0 18v2m0 166v1m0 1v1m1-333v1m0 158v1m1-164v1m0 164v1m0 164v1m5-167v1m0 153v1m5-314v1m0 152v1m0 1v1m0 164v1m0 12v1m1-335v1m0 8v1m0 291v1m0 25v2m1-326v1m0 156v1m5-165v1m0 305v1m1-307v1m0 154v1m0 156v1m0 2v2m0 25v1m1-192v1m0 1v1m0 8v1m3-159v1m0 303v1m3-338v1m0 28v1m0 304v1m0 11v2m1-177v3m0 30v1m1-176v1m0 3v1m0 17v1m0 152v1m0 130v1m5-308v1m0 7v2m0 171v1m1-172v1m0 16v3m0 119v1m0 169v1m1-306v2m0 172v1m0 124v1m0 24v1m5-171v2m0 14v1m0 132v1m1-289v1m0 286v1m0 28v1m1-365v1m0 166v1m0 9v2m3-176v2m0 15v1m0 168v2m0 127v1m0 4v1m0 13v1m1-143v1m0 134v2m0 30v1m1-341v1m0 2v3m0 306v1m1-333v1m0 43v3m0 1v1m0 263v1m0 8v2m0 34v1m1-358v1m0 43v3m0 1v1m0 263v1m0 8v2m0 14v1m3-326v1m0 312v1m0 1v1m1-301v2m0 180v1m1-206v1m0 33v2m0 1v2m0 290v1m0 25v1m0 3v1m1-353v2m0 18v2m0 7v3m0 3v1m0 130v1m0 13v1m0 16v1m0 113v1m0 8v1m1-321v2m0 18v2m0 7v3m0 3v1m0 130v1m0 13v1m0 16v1m0 113v1m0 8v1m0 3v2m1-315v1m0 6v2m0 10v2m0 3v1m0 123v1m0 160v1m3-167v1m0 6v1m0 16v2m0 11v1m0 124v1m0 20v2m1-335v1m0 347v1m1-369v1m0 19v1m0 6v1m0 170v1m5 7v1m0 126v1m2-333v1m0 21v1m0 3v1m5-16v1m0 178v1m1-173v1m1 189v1m0 145v1m5-174v2m0 10v1m0 128v1m0 27v1m0 4v1m1-332v1m0 157v1m0 2v1m1-191v1m0 23v1m0 149v1m0 23v2m0 1v1m0 165v1m3-359v1m0 21v1m0 1v1m0 142v1m0 11v2m0 18v1m0 120v1m0 8v2m0 24v1m0 1v1m1-363v1m0 5v2m0 6v2m0 11v1m0 144v1m1-171v1m0 13v1m0 8v1m3-20v1m0 181v1m0 151v1m0 20v1m3-364v1m0 15v1m0 12v1m0 148v1m0 180v1m1-341v1m0 7v1m3-29v1m0 20v1m0 317v1m0 20v1m3-355v1m0 170v1m0 163v1m1-312v1m0 149v1m1 165v1m5-344v1m0 184v1m0 2v1m0 152v1m0 15v1m1-334v2m1-22v1m0 15v1m0 314v1m5-333v1m0 10v2m0 145v1m0 11v1m0 18v1m1-178v1m0 7v1m0 3v1m0 143v1m4-149v1m0 4v1m0 132v1m0 4v2m0 15v1m0 150v1m0 1v2m1-162v1m0 177v2m4-188v1m0 16v1m0 140v1m0 6v1m3-339v1m0 5v1m0 21v1m0 152v1m0 4v1m0 3v1m0 146v1m0 21v1m1-341v1m0 12v1m0 323v1m1-191v1m0 187v1m1-189v1m1-158v2m0 157v1m0 23v1m0 160v1m3-345v4m0 10v1m0 313v1m1-308v1m0 142v1m1-159v2m0 149v1m0 12v1m0 4v1m0 166v1m0 6v1m5-333v1m0 135v1m0 21v1m0 166v1m2-325v2m0 135v1m5 20v1m0 9v1m1-184v1m0 12v2m0 4v1m0 158v1m1-169v1m0 4v1m0 153v1m0 9v1m0 165v1m3-189v2m0 23v1m0 161v1m3-339v1m0 9v1m0 160v1m1 150v2m0 5v1m3-331v1m0 167v1m0 157v2m0 10v1m1-366v1m0 12v2m0 12v1m1 3v1m0 13v1m3-33v2m0 30v1m0 145v1m5-175v2m0 11v1m0 156v1m0 13v1m0 155v2m5-162v1m1-176v1m0 36v1m0 140v1m0 161v1m1-358v3m0 37v1m0 307v2m5-311v1m0 147v1m0 5v1m0 3v1m1-167v1m0 9v1m7-30v1m0 2v1m0 46v1m1-32v1m3 157v1m0 11v1m5-195v1m0 1v1m0 32v1m0 318v1m3-353v1m0 350v1m0 12v1m1-354v1m0 172v1m1-191v1m5 188v1m1-144v1m1-25v1m0 1v1m0 160v1m0 2v1m0 6v1m0 176v1m0 1v2m5-340v1m0 159v1m0 162v1m0 7v2m0 4v1m0 10v1m1-370v1m0 26v1m1 153v1m0 151v1m5-160v1m0 9v1m0 3v1m0 7v1m0 132v1m0 11v1m0 10v2m0 4v1m1-333v1m1 140v1m3 14v1m0 139v1m3-325v1m0 39v1m0 303v1m1 1v2m1-175v2m0 7v1m0 2v1m0 141v1m0 7v1m0 10v1m0 8v1m0 4v1m3-178v2m0 168v1m1-355v1m0 4v1m3 168v1m0 8v1m0 139v1m3-165v2m0 2v2m0 191v1m1-350v1m0 1v1m0 22v3m1 122v2m0 36v1m5-35v2m1-153v1m0 165v1m0 7v1m1-17v1m5-142v1m0 135v1m0 21v1m1-178v1m0 22v1m1-2v1m0 130v1m0 2v1m0 5v1m3 5v1m3-166v1m0 17v1m0 299v1m1-165v2m0 9v1m0 169v1m1-321v1m5 319v1m1-334v1m0 11v1m4 146v1m0 18v1m1-181v2m0 16v1m1 176v1m5-195v1m0 351v1m0 6v1m1-377v1m0 1v2m0 42v1m0 138v1m0 187v1m1-358v1m0 144v2m0 27v1m0 157v1m5-168v1m1-181v2m0 341v1m0 12v1m1-337v1m3-3v1m0 328v1m3-341v1m0 35v3m0 137v1m1-155v1m0 1v1m3-14v1m3-11v1m0 32v1m0 2v1m0 3v1m0 298v1m6-333v1m0 18v1m0 150v1m0 134v1m0 4v1m0 47v1m1-358v1m0 162v1m0 150v1m0 43v1m0 3v1m5-203v1m0 166v1m1-344v1m0 42v1m6-16v1m0 149v1m5 176v1m3-325v1m0 147v2m0 9v2m1-174v1m0 157v1m0 11v1m0 166v1m6-328v1m0 1v1m0 165v1m0 151v1m7-162v2m0 135v1m0 55v1m1-205v1m0 149v1m0 4v1m0 42v1m1-199v1m4 148v1m0 38v1m1-178v1m0 151v1m0 23v1m5-7v1m1-328v1m0 1v1m0 297v1m0 8v1m0 23v1m1-338v1m0 151v1m0 10v1m0 1v1m0 2v1m0 141v1m0 3v1m0 25v2m5-178v1m0 153v1m1-338v3m0 286v1m0 3v2m0 5v1m0 88v1m0 1v1m0 3v1m0 5v1m1-222v1m0 120v1m0 3v1m0 1v1m0 50v1m0 18v1m0 7v1m3-50v1m0 3v1m3-337v1m0 288v1m0 13v1m0 75v2m1-215v1m0 134v1m0 73v1m6-377v1m0 2v1m0 17v1m0 332v1m0 33v1m0 3v1m1-375v1m0 283v1m0 77v1m0 1v1m0 3v1m1-380v1m0 159v1m5-170v2m0 23v2m0 338v1m0 4v1m1-48v2m0 3v1m0 31v1m5-364v1m0 2v1m0 27v2m1 319v1m6-346v2m0 22v1m7-29v1m0 2v1m0 28v1m0 145v1m1-168v1m0 1v1m1 323v1m5-347v1m0 44v1m0 2v1m0 303v1m1-18v1"/>
<path stroke="#0000ff" stroke-width="2" d="M201 603v1m7-176v1m5-1v1m41-161v1m3 322v1m0 2v1m7 0v1m5-325v1m7 323v1m7-331v1m0 168v1m8 167v1m12-11v1m2-328v1m5-68v1m2-1v1m20-12v1m0 16v1m0 55v2m0 333v1m5-322v1m2 319v1m5-331v1m2-70v1m0 42v1m0 12v1m0 296v1m5-351v2m0 62v1m0 8v1m0 323v1m5-404v1m0 1v2m0 75v1m0 160v1m0 160v1m2-402v1m0 337v1m5-346v1m0 73v1m0 150v2m3-234v2m0 30v1m0 14v1m0 11v1m0 14v1m4-26v2m0 169v1m0 19v1m3-232v1m0 38v1m0 10v1m0 147v1m0 2v1m5-198v2m0 22v2m0 37v1m0 13v1m0 107v2m0 9v1m0 14v1m2-233v2m0 42v2m0 15v1m0 6v1m0 14v1m0 112v1m0 5v2m0 179v1m0 8v1m0 37v1m3-416v1m0 3v2m0 26v1m0 166v1m0 29v1m0 183v1m2-425v2m0 5v1m0 7v1m0 12v1m0 14v1m0 34v1m0 12v1m0 133v1m0 16v1m0 129v2m0 14v1m0 4v1m2-365v1m0 1v1m0 3v1m0 54v1m0 90v1m0 5v1m0 19v1m0 184v1m0 28v1m3-374v1m0 6v1m0 30v2m0 114v2m0 10v2m0 8v1m0 3v1m0 145v2m2-372v2m0 85v1m0 77v1m0 42v1m0 11v1m0 164v1m5-335v1m0 6v1m0 147v2m0 24v2m3-191v1m0 22v2m0 102v2m0 2v2m0 22v2m0 32v2m0 122v2m0 60v1m4-397v1m0 161v2m0 30v1m0 9v1m0 147v2m0 3v1m3-358v1m0 12v1m0 3v2m0 33v1m0 10v1m0 124v2m0 43v1m0 126v2m5-344v2m0 3v1m0 24v1m0 135v2m0 41v1m2-235v2m0 6v1m0 12v2m0 30v1m0 9v1m0 1v1m0 123v2m0 165v1m0 44v2m0 2v1m3-393v2m0 57v2m0 135v1m0 162v1m0 36v1m0 3v1m0 5v1m2-414v1m0 5v1m0 321v1m0 14v1m2-314v1m0 174v1m0 135v2m0 8v2m3-344v1m0 37v2m0 8v1m0 1v1m0 3v1m0 166v1m0 187v1m2-415v1m0 20v2m0 24v1m0 131v1m0 45v1m0 5v1m0 119v2m0 11v1m5-363v1m0 50v1m0 133v1m0 143v1m0 60v1m2-346v1m0 8v1m0 5v1m0 149v1m0 18v1m0 145v2m0 8v1m5-162v1m0 143v1m0 24v1m3-378v1m0 35v1m0 138v1m0 181v2m0 2v2m5-341v1m0 2v2m0 14v2m0 9v1m0 124v1m0 147v2m0 51v1m2-345v1m0 156v1m0 150v1m0 28v2m5-341v1m0 11v1m0 286v2m0 27v1m0 19v1m2-329v1m0 135v1m0 5v1m3-181v1m0 5v1m0 10v2m0 1v1m0 17v1m0 131v1m0 17v2m0 115v1m0 56v1m2-360v1m0 3v1m0 182v1m0 156v1m0 11v1m5-183v2m0 132v2m0 12v2m0 13v1m0 6v2m2-328v1m0 155v1m0 127v1m0 42v1m8-343v1m0 6v1m5 181v1m0 128v1m0 13v1m2-324v1m0 181v1m0 140v1m0 6v1m0 13v1m5-355v1m0 28v1m0 141v1m0 153v1m0 29v1m7-337v1m0 6v1m0 169v1m7-192v1m0 19v1m0 7v1m0 329v1m8-191v1m0 11v2m0 149v1m7-311v2m0 1v1m0 310v1m5-164v1m0 153v3m0 9v1m0 23v1m2-339v1m0 308v1m5-311v1m0 299v1m0 13v1m0 23v1m2-338v1m0 3v1m0 157v1m0 140v1m0 8v1m0 10v2m5-327v1m0 313v1m0 24v1m8-338v1m0 3v1m0 147v1m4 178v1m3-328v1m0 144v1m0 152v1m0 2v1m0 24v1m0 2v2m5-176v1m0 136v1m0 6v1m2-151v2m0 149v1m5-305v1m0 142v1m0 154v1m0 9v1m0 19v1m0 1v1m2-331v1m0 296v2m0 7v1m0 20v1m0 6v1m3-344v2m0 7v1m0 149v1m0 19v1m2-167v1m0 292v1m0 1v1m5 29v1m0 7v1m0 4v1m2-338v2m0 333v1m5-354v2m0 11v1m0 174v2m0 117v1m0 33v1m3-342v2m0 9v1m0 25v1m0 271v1m0 15v1m0 13v1m5-146v1m0 128v2m0 5v2m0 10v1m2-333v1m0 6v1m0 2v2m0 322v1m0 1v1m5-167v2m0 150v2m0 16v1m2-360v1m0 175v1m0 27v2m5 1v1m0 101v1m0 15v2m7-325v1m0 52v1m0 2v1m8-63v1m0 29v1m0 141v1m0 164v1m0 24v1m5-361v1m0 14v2m0 25v1m0 171v1m2-214v1m0 13v2m0 14v4m0 134v1m0 23v2m0 161v1m5-356v1m0 20v1m0 5v1m0 305v1m0 6v1m0 12v1m2-334v1m0 145v1m0 184v1m5-351v2m0 10v2m0 13v1m0 306v1m2-339v1m0 25v1m0 3v1m0 307v1m5-313v1m0 147v1m0 3v1m0 13v1m0 148v1m0 4v1m5-330v2m0 328v2m0 9v1m3-359v1m0 18v2m0 318v1m0 23v1m4-363v1m0 16v1m0 341v1m3-353v1m0 21v1m5-25v1m0 11v1m0 7v1m0 3v1m0 310v1m0 7v2m2-332v2m0 148v1m0 23v1m0 157v3m5-324v1m0 316v2m0 10v1m0 2v1m2-338v1m0 166v1m5-191v1m0 177v1m0 155v1m5-337v1m0 2v1m0 5v1m0 10v1m0 319v1m0 3v1m3-338v2m0 23v1m0 136v2m0 159v1m0 10v1m0 5v1m7-187v1m0 1v1m0 1v1m0 186v1m5-349v1m0 2v1m0 3v2m0 8v1m0 159v1m0 167v1m0 3v1m2-354v1m0 7v1m0 25v1m0 127v1m0 2v1m0 172v1m5-323v1m0 17v1m0 315v1m0 7v1m2-326v1m0 133v1m0 165v1m5-304v1m0 135v1m0 11v1m3-178v1m0 3v2m0 183v1m0 2v1m0 136v1m0 4v1m4-345v1m0 33v1m5-24v1m0 338v2m3-326v1m0 16v1m0 151v1m5-174v1m0 329v2m2-338v2m0 10v2m0 317v1m5-319v1m0 3v1m0 157v1m0 3v1m2-190v1m0 181v1m0 4v1m0 7v1m8-12v1m0 177v1m4-337v1m3-28v1m0 8v3m0 187v1m0 155v1m5-354v2m0 1v1m0 17v1m0 173v1m0 172v1m5-17v1m2-169v2m0 167v1m5 6v1m9-156v2m5-12v1m0 2v1m0 140v1m0 5v2m3-328v1m0 178v1m0 154v1m5-151v2m0 139v1m4-322v1m0 10v1m0 148v1m0 173v2m3-340v1m7 144v1m0 10v1m0 9v1m0 173v1m7-317v1m0 117v1m0 24v1m8-151v1m5-4v1m7 160v1m0 13v1m7-186v1m0 161v1m0 11v1m7-15v1m0 13v1m5 154v1m0 1v1m3-172v1m0 174v1m4-338v1m0 15v1m0 149v1m0 6v1m3-174v1m0 164v1m0 9v1m0 1v1m0 160v1m5-339v1m5 3v1m0 169v1m0 152v1m2-313v1m0 158v1m0 153v1m0 14v1m5-331v1m0 158v1m0 169v1m2-182v1m0 177v1m5-166v1m0 1v1m0 155v1m3-169v1m0 163v1m0 10v1m4-178v1m3 12v1m0 164v1m5-355v1m0 187v1m0 154v1m2-345v1m0 173v1m5 170v1m7-317v1m5 149v1m0 7v1m0 171v1m7-344v2m15-3v1m0 160v1m0 2v1m2 161v1m10-154v1m0 154v1m2-1v1m5-328v1m0 163v1m0 8v1m8-172v1m0 10v1m0 307v1m0 15v1m2-340v1m0 13v1m0 147v1"/>
<path stroke="#0020ff" stroke-width="1" transform="translate(.5)" d="M209 430v1m15 0v1m21-2v1m5-158v1m5 320v1m3-168v1m8 167v1m0 4v1m1-3v1m12-174v3m0 8v1m0 188v1m0 1v1m0 3v1m0 1v1m1-62v2m0 14v1m0 17v1m0 8v1m0 3v2m6-44v1m0 10v1m0 17v1m1-173v1m0 143v1m0 5v1m0 20v1m0 8v1m1-181v1m5 143v1m0 7v1m0 27v1m1-36v1m1 13v1m4-319v2m0 149v1m0 12v1m0 132v1m1 10v1m1-319v1m5 305v2m1-308v1m0 169v1m0 189v1m1-33v1m5-333v1m0 19v1m0 143v1m0 11v2m0 121v2m0 3v2m0 45v1m0 19v1m1-367v1m0 300v1m0 3v1m0 39v1m0 13v2m1-361v1m3 7v1m0 318v1m2-332v1m0 19v1m0 276v1m0 5v3m0 20v1m0 42v2m1-442v1m0 427v2m0 5v1m1-436v1m3 68v2m1 329v1m1-307v1m0 292v1m1-2v1m0 36v1m5-351v1m1-17v1m0 1v2m0 39v1m0 5v1m0 279v1m0 41v1m1-421v1m0 378v1m0 4v1m0 31v1m5-370v1m0 3v1m0 38v1m0 1v2m0 1v1m0 140v1m0 141v1m0 1v1m1-378v2m0 374v1m0 6v1m0 29v1m0 3v2m1-428v1m0 8v1m0 391v1m5-29v1m0 5v1m1-380v1m0 64v1m0 283v2m0 77v1m1-429v1m0 64v1m0 283v2m3-340v1m0 321v1m1-337v1m0 12v1m0 227v1m0 112v2m1-299v1m0 37v1m5-79v1m0 323v1m0 14v1m0 4v1m0 3v1m0 4v2m1-326v2m0 22v1m0 2v1m0 297v1m1-300v1m3-91v1m0 44v2m0 19v3m0 15v1m0 175v1m0 130v1m0 34v1m3-414v2m0 5v2m0 50v2m0 18v1m0 327v1m0 6v1m1-334v1m3-95v1m0 7v2m0 2v1m0 12v1m0 5v1m0 40v2m0 7v2m0 8v1m0 284v2m0 8v1m3-157v1m1-219v2m0 43v1m0 168v1m0 147v2m1-321v1m0 117v1m0 24v2m0 24v2m0 16v1m0 144v1m0 8v1m12-369v1m0 66v1m5-75v1m0 19v3m0 14v1m0 21v1m0 3v1m0 131v2m0 2v2m0 155v1m0 49v1m1-408v1m0 26v1m0 2v1m0 143v2m0 161v1m0 5v1m1-272v1m0 9v1m3-99v2m0 11v1m0 24v2m0 36v1m0 9v2m0 96v1m0 23v2m0 22v2m3-207v1m0 19v1m0 2v1m0 145v2m4 20v2m0 23v1m0 146v1m3-304v1m0 96v2m0 37v1m0 196v1m2-377v1m0 157v2m0 24v1m0 191v1m5-19v2m7-317v1m0 1v1m0 5v2m0 311v2m5-382v1m0 4v1m0 14v2m0 345v1m0 27v1m0 3v2m1-406v1m0 14v2m0 4v2m0 12v1m0 189v1m0 127v2m1-288v1m5-19v1m0 148v1m0 141v1m0 39v3m0 19v1m0 12v1m1-422v1m0 5v1m0 8v1m0 45v1m0 141v1m0 157v2m0 43v1m1-190v1m3-200v1m0 6v3m0 21v2m0 15v1m0 8v1m0 152v1m0 130v2m0 37v1m3-364v2m0 27v1m0 6v1m0 169v1m0 128v1m0 26v1m2-379v1m0 17v2m0 4v1m0 5v1m0 16v1m0 6v1m0 319v2m5-352v1m0 12v1m0 2v1m0 12v1m2-24v2m0 18v2m0 281v1m10-284v2m0 166v1m0 147v1m1-344v1m0 37v1m0 159v1m1-164v1m5-17v1m0 6v1m0 1v1m0 167v2m0 164v1m1-352v1m0 168v1m0 152v2m1-298v1m0 298v1m0 54v2m1-367v1m0 140v1m0 173v1m0 44v1m1-361v1m0 140v1m0 173v1m0 23v1m0 7v1m1-373v1m0 20v1m0 148v1m0 23v1m0 149v1m3-336v1m0 15v1m1-25v1m0 175v1m0 153v1m0 4v1m0 58v1m1-394v1m0 26v1m0 144v1m0 208v1m0 5v1m5-374v1m0 7v1m0 316v1m0 24v1m0 1v1m1-345v1m0 310v1m1-2v2m0 6v2m0 41v1m5-359v1m0 303v1m0 64v1m1-394v1m0 331v1m0 4v1m0 3v1m0 38v1m0 1v1m1-383v1m0 336v1m0 1v1m0 1v1m0 14v1m3-345v1m0 327v1m0 15v1m1-29v1m1-319v1m0 15v1m0 151v1m0 188v1m0 13v1m1-16v1m0 5v1m0 1v3m0 3v1m1-9v1m3-347v1m0 308v1m1-156v1m0 183v1m1-345v1m0 162v1m0 144v1m0 4v2m0 3v1m0 33v1m0 9v1m0 3v1m1-361v1m0 3v1m0 307v1m0 1v1m0 30v1m0 8v1m1-355v1m0 3v1m0 307v1m0 10v2m1-349v1m0 370v1m3-346v1m0 150v1m0 173v1m1-40v2m0 77v1m1-383v1m0 10v2m0 298v1m0 3v1m0 2v1m0 2v1m0 6v1m0 3v1m0 42v3m1-378v1m0 10v2m0 305v1m0 13v1m0 17v1m0 4v1m1-28v1m0 22v1m3-333v1m1 307v2m0 26v1m0 15v1m1-354v1m0 301v1m0 6v1m0 26v1m0 4v1m5-26v2m1 28v1m1-350v1m0 313v1m5-320v2m0 321v1m0 31v1m1-359v1m0 15v1m0 308v1m0 1v1m1-328v1m0 15v1m0 308v1m3-155v1m0 178v1m1-38v2m0 8v1m1-310v1m0 154v1m0 126v1m0 79v1m0 4v2m0 3v1m1-371v1m0 143v1m0 141v1m0 7v1m0 2v1m0 3v1m0 56v1m1-359v1m0 143v1m0 152v2m0 2v1m1-155v1m3 12v1m0 162v1m1-7v1m3-174v1m0 178v1m0 3v2m3-340v1m0 308v1m7-155v1m0 2v1m0 11v1m0 1v1m0 153v2m0 9v1m0 2v1m0 1v1m1-177v1m1-17v1m0 162v2m0 21v1m10-173v1m0 1v1m0 141v1m0 7v1m0 27v1m7-29v1m0 1v1m1-325v2m0 168v1m0 18v1m0 149v1m0 14v1m1-192v1m0 9v1m0 7v1m3-169v1m0 302v2m0 12v1m3-150v1m0 137v2m1-300v2m0 17v1m0 1v1m0 136v1m0 1v1m1-160v2m0 12v2m0 136v2m0 165v1m5-346v2m0 2v2m0 11v1m0 178v1m0 137v2m1-309v1m0 14v1m0 289v1m0 29v1m1-311v1m0 125v2m0 146v1m0 29v1m5-331v2m0 19v1m0 293v1m1-328v1m0 6v1m0 24v1m0 286v1m0 2v1m0 19v1m1-353v2m0 159v1m0 14v2m0 15v1m3-206v1m0 15v1m0 150v1m0 3v1m0 157v1m0 13v1m1-346v1m0 41v2m0 295v1m0 2v2m0 24v1m1-27v2m0 28v1m1-321v1m0 3v1m0 116v1m0 14v2m0 17v1m0 159v1m1-316v1m0 3v1m0 116v1m0 14v2m0 17v1m0 139v1m3-334v2m0 319v1m0 1v1m0 4v1m1-327v2m0 6v1m0 315v1m1-325v3m0 27v1m1-37v1m0 12v1m0 30v1m0 132v1m0 28v1m0 124v1m0 25v1m1-358v1m0 12v1m0 30v1m0 132v1m0 28v1m0 124v1m1-297v1m0 8v1m0 161v1m0 124v1m0 19v1m3-354v1m0 32v1m0 168v1m0 126v1m0 6v2m0 10v1m1-22v1m0 28v1m0 8v1m1-369v1m0 44v2m0 148v2m0 5v1m0 2v1m0 152v1m0 2v1m5-359v1m0 10v2m0 6v1m0 166v2m2-6v1m0 151v1m5-312v1m0 162v1m2-177v1m0 167v2m0 24v1m0 143v3m5-164v1m1-176v1m0 154v1m1-164v1m0 18v1m0 143v1m0 24v1m0 143v1m3-333v2m0 13v1m0 149v1m0 179v1m1-353v1m0 171v1m0 180v2m1-342v1m3-11v1m0 12v1m0 9v2m0 310v1m0 1v1m0 18v1m3-362v1m0 177v1m0 164v1m0 13v1m1-358v2m0 15v1m0 167v1m3-181v1m0 18v1m0 152v1m0 3v1m0 8v1m0 1v1m0 1v1m0 154v1m0 7v1m0 3v1m0 1v1m3-353v2m0 7v1m0 7v1m0 147v1m0 15v1m0 147v1m0 2v2m0 4v2m0 5v1m1-333v1m0 163v3m1-163v1m0 163v1m5-191v1m0 342v2m0 10v1m1-362v1m0 4v1m0 14v3m1-23v1m0 180v1m5-150v1m0 144v1m0 5v1m0 167v1m0 8v1m1-353v1m0 1v1m0 7v1m0 339v1m1-356v1m0 24v1m0 3v1m0 168v1m3-180v1m0 9v1m0 307v1m8-309v1m0 133v1m0 171v1m1-319v1m1 7v1m0 7v1m1-9v1m0 7v1m1-5v1m0 147v1m0 10v1m3-174v1m0 5v1m0 7v1m0 305v1m0 13v1m0 1v1m1-177v1m1 162v1m0 14v2m5-323v1m0 127v1m0 177v1m0 7v1m2-179v2m0 10v1m5 145v1m1-317v1m0 8v1m1-2v1m0 10v2m0 135v1m0 1v1m0 167v2m0 9v1m3-164v1m3-11v1m0 2v1m1-153v1m0 3v1m0 309v1m3-330v2m0 1v1m0 15v1m0 143v1m0 171v1m1-326v1m0 149v2m0 8v1m1-164v1m0 13v1m6-28v2m0 3v1m0 3v1m2-8v2m0 8v1m0 2v1m0 160v1m5-6v1m0 9v1m0 159v1m1-342v1m0 2v1m0 345v1m1-359v1m0 19v1m6 6v1m1 167v1m3-8v1m0 6v1m3-188v1m0 1v1m0 3v1m0 35v1m0 2v1m1-30v1m3-9v1m3-10v4m0 1v1m0 38v2m0 1v3m1-54v1m0 351v1m0 1v1m4-346v1m0 359v1m1-357v1m0 1v1m0 24v2m1-30v1m0 180v1m5-171v1m0 160v1m1-174v1m1 356v1m0 1v1m5-188v1m0 173v1m1-344v1m1 20v1m5 165v1m0 150v1m0 23v1m1-360v1m0 18v1m0 154v1m0 165v1m1-2v1m3-175v1m0 1v1m0 13v1m0 136v1m0 10v2m0 29v1m3-370v2m0 38v1m0 3v1m0 134v1m1-154v1m0 309v1m0 14v1m1-340v1m0 327v2m0 14v1m0 12v1m3-196v1m0 19v2m0 158v1m0 3v2m1-353v2m0 26v1m0 147v1m3-170v1m0 310v1m0 6v1m3-317v1m0 139v2m0 30v1m0 147v2m0 18v1m1-345v1m0 18v2m0 143v1m0 8v1m0 149v1m1-309v1m0 157v1m5-178v1m0 1v1m0 20v1m0 155v1m0 169v1m1-346v1m0 142v1m0 28v1m0 165v1m1-322v1m0 138v1m5-159v1m0 15v1m0 139v2m0 6v1m0 163v2m1-330v1m1-1v1m0 159v1m3-154v1m3-8v2m1 4v1m0 141v2m0 25v1m0 160v1m1-333v1m5-4v1m0 1v1m0 16v2m1-20v1m0 172v1m5-157v1m0 151v1m1 11v1m0 151v1m5-330v1m0 141v1m1-121v2m0 1v1m0 1v1m0 138v1m1 188v1m6-330v1m0 3v1m1-22v1m0 319v1m0 5v1m6-171v1m0 1v1m0 162v1m1-162v1m3-159v1m3-22v1m0 33v1m0 141v1m2 161v1m0 1v2m3-321v1m1 2v1m0 284v1m0 5v1m0 1v1m1-150v1m0 11v1m0 142v1m0 34v1m0 4v1m5-354v1m0 8v1m0 326v1m1-357v1m0 4v2m0 35v2m0 1v1m1-25v1m0 156v1m0 166v1m0 11v1m5-181v1m0 2v1m1-168v1m0 18v1m0 318v1m1-177v1m3-145v1m0 141v1m0 172v1m3-158v2m1-175v1m0 329v1m3-317v1m3-19v1m0 162v1m0 1v1m0 12v2m0 1v1m1-169v1m0 319v1m6-338v1m0 3v1m0 1v1m0 15v2m0 294v1m0 5v1m0 9v1m0 31v1m0 4v1m1-201v1m0 153v1m0 3v1m0 30v1m0 4v1m1-195v1m0 164v1m0 12v1m3-342v1m1 15v1m0 299v2m0 40v1m1-37v1m0 29v1m5-344v1m0 2v1m0 149v1m0 9v1m1-177v1m0 314v1m0 5v1m0 35v1m1-344v1m0 153v1m5-183v2m0 28v1m0 2v1m1 5v2m0 268v1m0 58v1m0 18v1m0 7v1m1-202v1m0 121v1m0 50v1m0 13v1m0 1v1m0 4v1m0 4v1m3-45v1m3-319v1m0 278v1m0 5v1m0 51v1m0 18v2m1-198v1m0 129v2m0 44v1m0 13v1m0 1v1m1-36v1m5-317v2m0 2v1m0 268v1m0 3v3m0 4v1m0 25v1m0 23v1m0 33v1m1-367v1m0 1v1m0 280v1m0 25v1m0 45v1m0 4v1m1-203v1m5-180v1m0 16v1m0 2v1m0 299v1m0 41v1m1-347v1m0 310v1m0 28v1m1-341v1m3 162v1m0 154v1m0 10v1m2-177v1m5-164v1m1 17v2m0 1v1m1 150v2m3-14v1m0 1v1m3-170v1m0 28v1m1 147v1m0 150v1m1-308v1m0 156v1m0 150v1m5-296v1m1 136v1m0 8v1m1-11v1m0 172v1"/>
<path stroke="#0020ff" stroke-width="2" d="M230 432v1m0 164v1m12-330v1m5 158v1m0 168v1m10-2v1m7-321v1m0 322v1m14 0v1m5-329v1m15 329v1m5-58v2m2 47v1m0 8v1m5-10v1m14-3v1m0 10v1m8-400v1m5 5v1m0 31v2m2-40v1m0 4v1m0 386v1m0 7v1m7-367v1m0 26v1m0 338v1m5-366v2m0 304v2m5-337v1m0 379v1m2-397v1m0 44v2m0 291v1m0 28v2m5-354v1m0 51v1m0 171v1m0 125v1m3-315v2m0 14v2m4-88v2m0 29v1m0 18v1m0 164v1m3-224v1m0 5v2m0 53v1m0 23v1m0 137v1m0 13v1m0 15v1m0 140v1m0 3v1m5-387v2m0 25v1m0 1v1m0 54v2m0 114v4m0 8v2m0 11v1m0 14v1m2-251v1m0 11v2m0 57v1m0 12v1m0 12v1m0 101v1m0 36v1m0 147v1m0 8v1m0 1v1m3-380v1m0 31v1m0 8v1m0 152v2m0 5v1m0 10v2m0 22v1m2-241v1m0 13v1m0 21v1m0 4v1m0 42v1m0 143v1m0 21v1m0 132v1m2-396v1m0 3v1m0 19v1m0 11v1m0 50v1m0 1v1m0 104v2m0 16v1m3-13v2m0 33v1m0 124v1m2-324v1m0 51v1m0 148v2m0 23v1m5-247v1m0 51v1m0 108v1m0 44v1m0 146v2m3-368v1m0 47v1m0 7v1m0 131v2m0 35v1m0 190v2m4-398v1m0 10v2m0 46v1m0 122v2m0 29v1m0 150v1m0 11v1m3-359v2m0 4v1m0 32v1m0 5v1m0 6v1m0 69v2m0 38v2m0 2v2m0 20v1m0 163v1m0 3v1m5-309v1m0 10v1m0 102v2m0 26v1m0 9v1m0 145v2m0 32v2m0 17v1m2-415v1m0 4v1m0 58v1m0 86v2m0 78v1m3-210v1m0 46v1m0 138v1m0 18v2m0 126v2m2-354v1m0 3v1m0 221v1m0 118v1m0 58v1m0 8v1m0 2v1m2-210v1m0 162v1m3-360v1m0 49v1m0 174v1m0 105v1m0 9v2m0 16v1m2-307v2m0 100v2m0 34v1m0 161v1m0 34v1m5-370v2m0 2v2m0 2v2m0 2v2m0 15v1m0 133v1m0 6v1m0 24v1m0 111v1m0 20v2m0 10v1m0 12v1m0 12v1m0 10v1m2-368v2m0 24v1m0 149v1m0 137v2m0 22v1m5-374v1m0 42v2m0 17v1m0 168v1m0 103v1m0 9v2m3-294v1m0 160v1m0 134v2m0 13v1m5 30v1m2-369v1m0 23v1m0 154v1m0 1v1m0 150v1m5-311v1m0 156v1m0 190v1m2-344v1m0 156v1m0 150v1m0 29v1m3-342v1m0 149v1m0 136v1m0 54v1m0 1v1m2-360v1m0 3v1m0 339v1m5-350v1m0 7v1m0 30v1m0 133v1m0 160v2m0 20v2m0 3v1m2-333v1m0 277v1m8-287v1m0 175v2m0 145v1m0 1v1m5-341v1m0 18v1m0 169v1m0 116v2m0 10v1m2-311v1m0 2v1m0 179v1m0 104v1m0 39v1m0 4v1m0 21v1m5-183v2m0 11v1m0 159v1m2-353v1m0 335v1m5-150v2m0 4v1m0 134v1m7-317v1m0 9v1m0 309v1m0 19v1m8-181v1m0 162v1m7-158v2m0 159v2m5-165v1m0 145v1m0 41v1m2-352v1m0 11v1m0 161v1m0 149v1m0 25v1m5-341v1m0 303v1m0 13v1m2-324v1m0 312v1m0 14v2m5-324v1m0 9v1m0 311v2m0 19v1m8-188v2m0 146v1m0 26v1m4-329v1m3 149v1m0 152v1m7-139v1m5-22v1m0 182v1m2 5v1m3-165v1m0 129v1m0 40v1m2-358v1m0 314v1m0 1v1m5-289v1m0 1v1m0 138v2m0 20v2m0 149v1m0 1v1m0 6v2m0 4v1m2-29v1m0 25v1m0 2v1m5-335v1m0 298v1m0 15v1m0 3v1m0 13v2m3-320v1m0 285v1m0 5v2m0 8v1m0 4v1m5-340v1m0 17v2m0 3v1m0 14v1m0 282v1m2-315v1m0 179v1m0 127v1m5-296v2m0 160v4m0 157v1m2-304v1m0 149v1m0 135v2m5-334v1m0 183v2m0 142v1m7-291v2m0 164v1m8-185v2m0 4v2m0 146v1m0 38v1m0 113v1m0 20v1m5-334v1m0 16v1m0 152v1m0 140v1m0 14v1m2-349v1m0 8v2m0 157v1m0 1v1m0 4v1m0 177v1m5-358v1m0 3v1m0 10v2m0 170v2m0 13v1m0 141v1m0 10v1m2-341v2m0 336v1m0 11v1m5-360v1m0 4v2m0 2v1m0 10v1m2 308v2m0 4v1m5-324v1m0 11v1m0 160v1m0 150v1m5-342v1m0 175v1m0 3v1m0 175v1m3-170v1m0 151v1m4-339v1m0 14v1m0 325v1m0 3v2m0 10v1m0 2v1m3-337v1m0 315v1m5-326v1m0 346v1m2-342v1m0 146v1m0 12v1m5-158v1m0 334v1m0 1v1m2-343v2m0 3v1m0 3v1m0 160v1m0 4v1m5-167v1m0 316v2m5-342v2m0 1v1m0 2v3m0 3v1m0 145v1m0 1v2m0 17v2m0 2v1m3-165v1m7-7v1m0 141v1m0 1v1m0 1v1m0 184v1m5-344v1m0 317v1m0 25v1m2-348v1m0 24v1m0 135v1m0 6v1m0 10v1m0 5v1m0 160v1m5-337v1m0 162v1m0 152v1m0 7v1m0 9v1m2-331v1m0 144v1m0 3v2m0 164v1m0 23v1m5-327v1m0 134v1m0 9v1m0 6v1m3-183v1m0 186v1m0 146v1m0 17v1m4-363v1m0 178v2m0 9v1m0 3v1m5-177v1m0 3v1m3-18v1m0 3v2m0 193v1m5-18v1m0 168v1m2-344v2m5-12v1m0 7v2m0 172v1m2-180v1m0 35v1m5 143v1m0 1v1m3 11v1m0 3v1m4-176v1m3 332v1m0 12v1m5-368v1m0 1v1m0 179v2m0 181v1m0 1v1m5-367v1m0 3v2m2-4v1m0 8v1m0 20v1m0 333v1m7-336v1m0 149v1m0 11v1m0 158v1m5-153v2m0 156v2m0 2v2m2-172v1m0 3v2m5-181v1m0 14v1m0 173v1m0 145v2m0 15v1m0 2v1m3-180v1m5-2v1m0 1v1m4-174v1m0 311v1m3 12v2m0 16v1m5-350v1m0 177v1m7-176v1m0 142v1m0 19v1m2-162v1m0 12v1m0 125v1m5 14v1m0 17v1m3-9v1m5-162v1m0 8v1m0 158v1m7 21v1m5-34v1m0 1v1m2-153v1m0 1v1m0 323v1m5-162v1m2-177v1m0 193v1m0 137v1m5-173v1m0 3v1m15 168v2m0 6v1m7-180v1m0 176v1m5-12v1m2-330v1m0 2v1m0 10v1m0 1v1m5 141v1m0 170v1m3-328v1m0 160v1m4 173v1m3-325v1m5 159v1m2 153v1m0 2v1m0 9v1m5-327v1m0 147v1m0 166v1m0 10v1m5-14v1m2-335v1m0 336v1m0 12v1m5-15v1m2-158v1m8-10v1m0 177v1m5-168v1m2 169v1m12-342v1m5 161v1m2 7v1m5-161v1m0 158v1m3-160v1m7 306v1"/>
<path stroke="#0040ff" stroke-width="1" transform="translate(.5)" d="M221 426v1m12 5v1m0 163v1m0 1v1m5-2v1m7-169v1m5 166v1m2-327v1m0 157v1m3-156v1m0 321v1m10-322v1m1 321v1m6 1v1m7-332v1m0 1v1m0 158v1m0 5v2m0 135v1m0 15v1m1-11v2m0 35v1m0 6v1m0 4v1m1-35v1m0 9v1m5-24v1m0 4v1m0 29v2m1-9v2m0 4v1m6-37v1m0 9v1m0 25v1m0 1v1m1-33v2m0 3v1m0 17v4m2-417v1m0 73v1m0 333v1m3-329v1m0 164v1m0 138v3m0 7v1m0 27v1m0 3v1m1-32v1m0 17v1m0 6v1m6-350v1m0 308v1m0 13v1m0 37v1m1-429v1m0 379v1m0 10v1m0 17v1m0 12v2m1-30v1m5-333v1m0 20v1m0 155v1m0 174v1m1-413v2m0 371v2m0 12v1m0 23v1m0 10v1m0 5v1m1-429v2m5 235v1m0 1v1m0 186v1m0 1v1m1-193v1m0 136v1m0 48v1m1-187v1m3-169v1m1 326v1m1-314v1m0 1v1m0 2v2m0 300v1m0 21v1m0 8v1m0 1v1m1-2v1m1-28v1m5-348v1m0 40v1m0 4v3m0 283v2m0 35v1m0 4v1m1-423v1m0 63v2m0 349v1m5-367v1m0 40v1m0 1v1m0 136v1m0 9v1m0 182v1m1-417v1m0 378v1m0 30v1m1-421v1m0 400v1m5-336v1m0 312v1m0 3v1m0 8v1m0 25v1m1-354v1m0 298v2m0 19v1m0 3v1m0 3v1m0 23v1m0 3v1m0 3v2m1-362v1m0 298v2m3-331v2m0 198v1m0 102v1m0 62v1m1-405v1m0 10v1m0 229v1m0 103v2m0 24v1m1-318v1m0 355v1m5-414v1m0 15v1m0 57v2m0 285v2m0 3v1m0 43v1m1-421v2m0 6v1m0 7v2m0 46v1m0 16v1m0 2v1m1 11v1m3-102v1m0 9v1m0 48v1m0 22v1m0 2v1m0 8v1m0 8v1m0 259v2m3-351v1m0 23v1m0 65v1m0 154v1m0 126v1m0 38v1m1-334v1m0 13v2m0 316v1m3-425v1m0 22v1m0 5v1m0 350v1m0 1v1m4-380v2m0 2v2m0 6v1m0 34v2m0 26v1m0 313v1m0 34v1m1-425v2m0 54v1m0 17v1m0 15v1m0 296v1m5-293v1m12-41v1m0 27v1m0 84v2m0 192v2m0 8v1m0 3v2m0 24v1m1-361v1m0 2v1m0 150v2m1-173v1m3-12v1m0 5v1m0 164v1m0 15v1m0 24v1m3-212v1m0 10v1m0 21v2m0 6v1m0 23v1m0 171v1m0 139v1m1-304v1m0 2v1m0 4v1m0 149v1m3-204v1m0 34v1m0 12v1m0 149v1m0 6v1m0 138v1m0 17v2m3-390v2m0 10v2m0 49v1m0 4v1m0 299v1m0 7v1m0 18v1m1-355v1m0 33v1m0 6v1m1-55v1m0 182v1m0 21v1m0 112v1m0 5v2m5 47v1m7-326v1m5-66v1m0 2v1m0 1v2m0 215v1m0 169v2m0 2v2m1-357v2m0 155v1m0 166v1m0 24v1m0 11v1m1-196v2m0 163v1m0 3v1m5-347v1m0 191v1m0 172v1m1-381v1m0 1v2m0 48v1m0 146v1m0 178v1m4-378v2m0 21v2m0 328v1m0 3v1m0 11v1m0 6v1m3-185v1m0 148v1m0 17v1m1-342v1m0 29v1m1-57v1m0 23v1m5-1v1m0 10v1m0 15v1m0 321v2m2-191v1m0 182v1m0 3v2m5-346v1m5 354v1m2-331v1m0 5v1m5 320v2m0 2v1m1-181v1m0 169v2m0 11v1m1-194v1m0 159v1m0 5v1m0 13v1m0 32v2m1-377v1m0 15v1m0 145v1m0 166v1m0 41v1m1-372v1m0 15v1m0 145v1m1-151v1m0 16v1m0 133v1m0 20v2m3-170v1m0 148v1m0 170v1m1-15v1m0 6v1m0 53v1m1-386v1m0 3v1m0 17v1m0 149v1m0 164v1m0 2v1m0 37v2m5-48v1m1-325v1m0 8v1m0 2v1m0 310v1m0 36v1m1-39v1m0 41v2m5 4v2m0 4v1m1-55v1m0 4v2m0 2v1m0 24v1m0 8v1m1-39v1m0 1v1m0 1v1m0 2v1m0 9v1m0 18v1m3-354v1m0 2v1m0 316v1m0 13v1m1-335v1m0 344v1m1-356v1m0 11v1m0 316v1m0 3v2m1-149v1m0 139v1m0 5v1m0 27v1m1-175v1m0 139v1m0 5v1m0 27v1m3-347v1m0 310v1m2-5v1m0 14v1m0 23v1m1-347v1m0 313v1m0 41v1m1-357v1m4-11v1m0 11v1m1-7v1m0 305v2m0 10v1m0 48v1m0 5v1m1-206v1m0 140v1m0 2v1m0 42v1m0 3v1m1-192v1m0 140v1m0 2v1m0 10v3m0 18v1m1-336v1m0 309v1m0 20v1m3 5v2m1-29v1m0 28v2m0 10v1m1-50v1m5 16v2m1-325v1m0 1v1m0 317v1m0 2v1m0 21v1m0 4v1m1-349v1m0 341v1m5-26v2m0 27v2m1-356v1m0 9v1m0 298v1m0 14v1m0 28v1m1-354v1m0 9v1m0 298v1m0 14v1m0 23v1m3-2v1m1-183v2m0 11v1m0 143v1m0 10v1m1-329v1m0 167v1m0 127v2m0 70v1m1-215v1m0 136v1m0 16v2m0 1v1m0 12v1m0 17v1m0 18v3m1-210v1m0 156v1m0 12v2m1-177v1m0 7v1m7 168v2m3-329v1m0 310v1m0 1v1m0 20v1m7-177v1m0 154v1m0 21v1m2-186v1m0 175v1m10-19v1m0 7v1m0 11v1m1-17v1m0 15v1m6-316v2m0 301v1m0 1v1m1-330v1m0 21v2m0 156v2m0 9v2m0 149v1m0 18v1m1-191v2m0 3v1m3-165v1m0 9v2m0 308v2m0 11v1m3-357v1m0 188v1m0 5v1m0 140v1m1-299v1m0 135v1m0 20v1m1-171v2m0 27v1m0 300v1m0 8v1m5-346v1m0 13v2m1 6v2m0 136v1m0 167v1m0 17v1m1-181v1m0 152v1m0 25v1m0 1v1m0 1v1m5-360v1m0 47v1m0 2v1m0 128v2m0 160v1m1-299v1m0 1v1m1 6v1m0 144v1m0 121v1m0 36v1m0 1v1m3-186v2m0 4v2m1-16v1m0 25v2m0 150v1m0 10v1m1-189v1m0 168v1m0 21v1m1-336v1m0 169v1m0 4v1m0 2v1m0 118v1m0 13v1m0 22v1m1-335v1m0 169v1m0 4v1m0 2v1m0 118v1m0 13v1m3-301v2m0 169v1m0 129v1m0 4v2m1-9v1m1-323v1m0 323v1m1-333v1m0 184v2m0 130v1m0 15v1m0 21v1m1-356v1m0 184v2m0 130v1m1-285v1m0 8v1m0 136v1m0 11v1m0 147v1m3-342v1m0 15v1m0 5v1m0 8v1m0 175v1m0 111v1m1 8v1m0 25v1m1-343v1m0 184v1m0 137v1m0 17v1m0 1v1m0 6v1m5-363v3m0 6v1m1 209v1m1-38v1m0 11v1m0 1v1m0 137v1m5-317v1m2 175v1m5-183v1m0 1v1m0 3v1m0 166v1m1-18v2m1-178v1m0 11v1m0 331v1m0 4v1m0 15v1m3-165v2m0 138v1m1 3v1m0 9v1m1-350v1m0 11v1m3-11v1m0 10v1m3-6v1m0 166v2m0 11v1m0 151v1m0 17v1m1-361v1m0 12v2m3-11v1m0 171v1m0 9v2m0 1v1m0 1v1m0 144v1m0 17v1m3-338v1m0 171v1m0 145v1m0 3v1m0 13v1m1-179v1m1-155v1m0 167v1m0 157v2m5-333v1m0 5v1m0 167v1m1-193v1m0 182v1m1-162v1m0 5v1m0 1v1m0 147v1m0 5v1m0 167v1m5-330v1m0 324v1m1-344v1m0 167v1m0 175v1m1-350v1m0 29v1m0 152v2m3-168v1m5 1v2m0 9v2m0 129v1m0 3v2m0 18v1m0 142v1m3-324v1m1 163v1m0 180v1m1-348v2m0 346v1m1-349v2m1 4v2m0 164v1m0 151v1m0 1v1m0 5v1m3-171v2m0 172v2m0 6v1m0 1v1m1-166v1m0 161v1m1-329v1m0 9v1m0 150v1m0 1v1m0 156v1m5-167v1m0 6v1m0 158v1m1-318v1m0 163v1m1-3v1m5-6v1m0 3v1m0 5v1m0 137v1m1-316v1m0 7v1m0 6v1m0 317v1m1-325v1m0 3v1m0 141v1m0 16v1m0 161v1m3-322v1m0 3v1m0 160v1m0 157v1m0 3v1m4-339v2m3-14v2m0 2v2m0 4v1m0 159v1m0 10v1m2-154v1m3-35v2m3-4v1m0 1v1m0 1v1m0 9v1m0 3v1m0 2v1m0 318v1m1-319v2m1 0v1m5-15v2m0 338v1m1-339v1m0 1v1m0 34v3m0 130v1m1-163v1m0 161v1m6-146v2m1 155v1m0 3v1m6-182v1m0 34v2m0 1v1m0 136v1m1-167v1m0 10v1m0 3v1m0 157v1m6-188v1m0 35v1m0 2v1m1-47v1m0 32v1m1-28v1m0 174v1m0 11v1m3-187v1m0 184v1m0 161v1m1-313v1m1-35v1m0 361v1m5-19v1m0 8v2m1-349v1m0 2v1m0 18v1m0 1v3m1 144v1m0 178v1m5-334v1m0 159v1m0 187v1m1-366v1m0 22v1m0 1v1m0 150v1m1-174v1m0 173v1m0 2v2m5-164v1m0 149v1m0 9v1m0 3v1m1-179v1m1 14v1m0 172v1m3-9v1m0 144v1m0 13v1m0 9v2m0 8v1m3-367v1m0 2v1m0 28v2m0 1v1m0 305v1m1-321v1m0 311v1m0 12v1m1-341v1m0 166v1m0 16v2m0 142v2m3-324v2m0 166v1m0 151v1m0 7v4m1-317v1m0 1v2m3-20v1m0 144v2m0 24v1m0 3v2m0 141v1m0 8v2m0 7v1m0 7v1m4-330v1m1-21v1m0 15v1m0 2v1m0 305v1m5 8v2m0 10v1m1-344v1m1-2v1m0 329v2m0 7v1m5-343v1m0 15v1m0 128v2m0 13v1m0 14v1m0 162v1m2-319v2m0 299v1m3-316v1m0 10v1m0 147v1m0 3v1m3-148v1m0 148v1m1-153v1m0 144v2m1 12v1m5-176v1m0 167v1m5 28v1m0 135v1m1-332v1m0 13v1m1-13v1m0 9v1m5 2v1m0 146v1m0 1v1m1-179v1m0 36v1m7-39v1m0 43v2m0 139v1m0 160v1m0 5v1m1-339v1m0 1v1m6-11v2m1 8v1m0 162v1m3-3v1m0 8v2m3-184v1m0 4v1m0 3v1m0 23v2m0 1v1m1 306v2m4-333v1m1 11v2m0 298v1m0 36v1m0 6v1m0 3v1m1-48v1m0 4v2m0 28v1m0 1v1m5-24v1m1-343v1m0 2v1m0 30v1m0 1v2m7-27v1m0 167v1m1-4v1m0 174v1m3-9v1m3-335v1m0 17v1m0 150v1m0 167v1m1-172v1m0 8v1m0 4v1m6-181v1m0 1v1m0 162v2m0 12v1m1-165v1m0 319v1m0 11v1m6-350v1m0 1v1m0 313v1m0 40v1m0 4v1m0 1v1m1-347v1m0 160v1m0 140v1m0 6v1m0 21v1m1-332v1m0 160v1m0 155v1m3-168v1m0 9v1m1-174v2m0 12v1m0 152v1m0 156v1m0 23v1m1-24v1m0 25v1m0 1v1m5-338v1m0 147v1m0 11v1m1-161v1m0 304v1m0 3v1m0 25v2m1-27v1m5-163v1m0 177v1m1-348v1m0 22v1m0 274v1m0 3v3m0 70v1m1-67v1m0 52v1m0 1v1m0 4v1m0 6v1m6-374v1m0 15v1m0 157v1m0 124v1m0 5v2m0 66v1m1-370v1m0 306v2m0 4v1m0 8v1m0 23v1m0 10v1m0 4v1m1-37v1m5-333v1m0 2v1m0 1v1m0 295v1m0 77v1m0 1v1m0 3v1m1-370v1m0 290v2m0 65v1m1-195v1m5-180v1m0 1v1m0 14v1m0 1v1m0 299v2m0 3v1m0 29v1m0 1v1m1-351v1m0 6v1m0 153v1m0 158v1m0 28v1m1-350v1m0 6v1m0 153v1m0 165v1m4-312v2m1 142v1m5-1v1m5 159v1m0 16v1m3-342v1m0 22v1m0 1v1m1-20v1m0 7v1m0 146v1m0 179v1m1-19v1m0 8v1m5-341v3m0 30v3m1 294v1m1-318v1m0 166v1"/>
<path stroke="#0040ff" stroke-width="2" d="M201 586v2m2 11v1m5-170v1m7-3v1m15 169v1m14-326v1m10 158v1m0 164v2m7-7v1m3-160v1m7 160v1m3-1v1m2-4v1m2-325v1m25 334v1m2-12v1m5-390v1m2 70v1m5-8v1m7-71v1m0 70v1m8-80v1m5 366v1m2-352v1m0 2v1m0 29v2m5-49v1m0 51v2m0 347v1m0 13v1m7-332v1m5-82v1m0 16v1m0 16v2m2 11v2m5 0v1m0 18v1m0 274v2m0 55v1m3-167v1m0 2v1m0 109v2m0 59v1m4-432v1m0 25v2m0 6v1m0 4v2m0 25v1m0 28v1m0 129v1m3-229v1m0 8v2m0 18v2m0 69v1m0 293v1m0 1v1m5-371v1m0 66v2m0 132v2m0 12v1m2-240v1m0 35v1m0 41v1m0 128v2m0 14v2m0 37v1m3-172v2m0 104v3m0 1v2m0 40v1m0 150v1m2-369v1m0 24v1m0 30v1m0 134v2m0 178v1m2-398v1m0 3v1m0 28v1m0 51v1m0 1v1m0 141v1m0 152v1m0 6v1m0 6v1m0 2v1m3-395v1m0 10v1m0 1v1m0 4v1m0 60v1m0 108v2m0 6v2m0 11v3m0 13v1m0 129v1m0 16v2m0 6v4m2-305v1m0 10v1m0 93v2m0 37v1m0 1v1m5-226v2m0 8v1m0 4v1m0 4v1m0 8v2m0 19v1m0 122v1m0 12v1m0 29v1m0 8v1m0 196v1m0 2v1m3-427v1m0 14v1m0 3v1m0 62v1m0 140v1m0 35v1m0 103v2m0 27v1m4-364v1m0 2v1m0 4v2m0 32v2m0 4v1m0 173v1m0 138v1m0 6v1m3-323v1m0 5v1m0 113v2m0 197v1m5-309v1m0 166v1m2-184v1m0 21v1m0 8v1m3-81v1m0 21v1m0 4v1m0 29v1m0 10v2m2-61v1m0 59v1m0 288v2m0 18v2m2-168v1m0 27v1m0 134v1m0 10v2m3-159v1m0 1v1m0 2v1m0 112v1m0 27v1m0 33v1m0 12v1m2-411v1m0 13v2m0 34v2m0 298v2m0 38v1m0 4v1m5-400v1m0 52v1m0 140v1m0 25v1m0 2v1m0 3v1m0 106v1m0 61v2m0 4v1m2-370v1m0 8v2m0 183v1m0 147v1m0 17v1m5-392v2m0 29v1m0 28v1m0 274v1m3-299v1m0 324v1m0 7v1m5 5v1m2-350v1m0 28v2m0 146v1m0 1v1m0 10v1m0 156v2m0 4v2m5-14v1m2-317v1m0 162v1m0 144v1m0 28v2m0 2v1m3-329v1m0 148v2m0 160v1m0 12v1m2-170v1m5-185v1m0 2v1m0 342v1m0 7v1m2-333v1m0 3v1m8-13v1m0 10v1m0 315v1m5-345v1m0 8v1m0 11v1m2-20v1m0 9v1m0 287v1m0 39v1m0 35v1m5-361v1m0 5v1m0 152v1m0 20v1m0 118v2m2-316v1m0 4v1m0 15v1m0 314v1m0 35v2m5-368v1m0 326v1m7-317v1m0 322v1m8-323v1m0 183v1m0 125v1m0 15v1m7 0v1m5-19v1m2-300v1m0 321v2m0 14v1m7-29v1m0 7v1m0 5v2m0 14v2m0 7v1m5-192v5m0 167v1m0 11v1m8-191v1m0 5v2m0 145v1m4-144v1m0 149v1m3-313v1m0 297v1m0 8v1m0 1v1m0 8v2m0 12v1m5-26v1m2 23v1m5 0v1m2-9v2m0 9v1m3-340v2m0 305v1m0 6v1m0 31v1m2-356v1m0 355v1m5-328v1m0 299v2m0 10v1m0 1v1m2-19v1m0 4v1m0 26v1m5-335v1m0 300v1m3-146v2m0 145v1m0 18v1m5-338v1m0 2v1m0 3v1m0 13v1m2-33v1m0 13v1m0 26v1m0 154v1m0 123v2m7-312v1m0 175v2m0 163v1m5-347v1m0 40v2m0 128v2m0 12v2m0 115v1m0 25v1m7-330v1m0 1v2m0 43v1m0 2v1m0 123v1m0 155v1m0 5v2m0 9v1m8-173v1m0 8v2m0 3v1m0 4v2m0 1v3m0 150v1m5-340v1m0 7v1m0 150v1m0 13v1m0 12v1m0 6v1m0 122v1m2-332v1m0 7v2m0 163v1m0 4v2m0 2v2m0 7v1m0 29v1m5-30v3m2-32v1m0 22v2m0 10v2m5-177v1m2-7v1m0 164v2m0 11v1m0 139v1m5-334v1m5-8v1m0 6v1m0 10v1m0 4v1m0 4v1m0 147v1m0 3v1m0 7v1m0 175v1m3-184v1m4-154v1m0 163v1m0 149v2m0 10v1m3-176v2m0 15v1m5-165v1m0 148v1m0 158v1m0 20v1m2-357v1m0 14v1m0 1v1m7 159v1m5-152v1m0 149v2m5-181v1m0 161v1m0 22v1m3-171v1m0 14v1m0 152v1m0 168v1m0 5v1m7-356v1m0 161v1m0 6v1m0 152v1m5-329v1m0 20v1m0 2v2m0 324v1m2-346v1m0 182v1m5 3v1m0 160v1m0 2v1m2-4v1m5-333v1m0 10v1m0 134v1m0 180v2m7-318v1m5-35v1m0 9v1m0 3v1m0 4v1m3-21v1m5 4v2m0 6v2m0 7v1m0 325v2m2-345v2m0 9v1m5-19v1m0 37v1m0 145v1m0 9v1m2-169v1m5 163v1m7-163v1m0 335v1m3-364v1m0 23v1m0 1v1m0 8v1m0 160v1m5-189v2m0 25v1m5-31v1m0 5v1m0 23v1m0 322v1m2-352v1m0 30v1m0 148v1m0 167v1m0 4v1m5-336v1m2 331v1m5 12v2m2-352v1m0 1v1m5 179v2m0 137v4m0 27v1m3-31v2m0 4v2m0 9v1m5-20v1m0 5v1m4 4v1m3-177v1m0 183v1m5-321v1m0 134v1m0 172v1m0 7v1m2-169v1m0 171v1m5-337v1m0 337v1m2-344v1m0 6v1m0 10v1m0 159v1m5-13v1m3-29v1m7-120v1m0 146v1m5-161v1m0 158v1m0 2v1m0 1v1m5-155v1m0 133v1m0 26v1m2-28v1m0 18v1m0 190v1m5-189v1m2-151v1m8-17v1m0 11v1m12-12v1m5-1v1m2 325v1m5-318v1m0 319v1m0 5v1m2-335v1m0 168v1m5 163v1m3-327v1m0 153v1m0 163v1m0 7v2m4-327v1m3 325v1m0 3v1m7-344v1m5 331v1m5-330v1m0 159v1m0 11v1m2-174v1m5 163v1m2-3v1m13-151v1m7 148v1m0 2v1m0 10v1m2-4v1m5-163v1m0 314v1m5-155v1m0 156v2m0 8v1m2-338v1m0 336v1m5-14v1m3-163v1m5 6v1m0 158v1m2-10v1"/>
<path stroke="#0060ff" stroke-width="1" transform="translate(.5)" d="M199 589v3m10-163v1m1-1v1m6-1v2m17 166v1m18-2v1m8-165v1m6-161v1m2 160v1m5 162v1m7-327v2m0 300v2m0 14v1m0 17v1m0 8v1m0 3v2m1-16v1m6-28v1m0 26v1m1-23v1m0 5v1m0 14v1m1-4v1m1-10v1m4-14v1m0 3v1m0 25v1m3-416v1m3 68v4m0 5v1m0 1v1m0 308v1m1 0v2m0 28v1m1-13v1m5-338v1m0 6v1m2-8v1m5-4v1m0 16v1m0 149v1m0 9v1m0 127v1m0 3v1m0 53v2m1-430v1m0 422v1m1-424v1m4 10v1m0 65v1m1 4v2m0 156v1m0 181v2m0 5v1m1-435v1m0 378v1m0 1v1m0 4v1m0 27v1m1-415v1m3 398v1m1 0v1m1-335v3m0 2v1m0 18v1m0 294v1m0 36v1m1-36v1m0 35v1m1-26v1m1-401v1m3 76v1m1-15v2m0 33v1m0 1v1m0 292v1m1-390v1m0 389v2m0 28v1m5-367v2m0 1v2m0 175v1m0 5v1m0 143v1m0 6v1m0 29v1m0 3v1m1-354v1m0 325v1m0 13v1m0 2v1m0 3v1m1-424v1m0 4v1m0 346v2m5 39v1m0 37v1m1-367v2m0 177v1m0 143v1m1-324v2m0 177v1m3-234v1m0 325v1m0 5v1m0 17v1m2-306v1m0 1v1m0 347v1m5-408v1m0 16v1m0 20v2m0 35v1m0 283v1m1-362v1m0 16v1m1 58v1m0 331v1m3-412v1m0 24v1m0 23v1m0 25v1m0 332v1m3-202v1m0 148v2m0 15v1m0 5v1m0 29v1m1-327v1m0 9v1m3-93v1m0 366v1m0 1v1m0 4v1m0 5v1m0 25v1m4-403v1m0 60v1m1-37v2m0 17v1m0 10v2m0 158v1m17 156v1m0 17v1m1-360v1m0 123v2m0 58v1m1-205v1m0 64v1m0 7v1m0 156v1m3-247v2m0 8v1m0 2v1m0 44v2m0 21v2m0 103v2m0 4v1m3-201v2m0 49v1m0 5v1m0 364v1m1-170v1m3-234v2m0 12v2m0 9v1m0 31v2m0 7v2m0 301v1m0 2v1m0 28v1m3-409v1m0 24v2m0 3v1m0 50v1m0 83v2m0 54v2m0 11v1m0 160v5m1-355v1m0 5v2m0 33v1m0 153v1m1-240v1m0 13v1m0 16v1m0 31v1m0 287v1m0 24v1m0 15v4m17-374v1m0 33v2m0 134v2m0 212v1m0 3v1m1-393v2m0 18v2m0 170v1m0 3v1m0 143v1m0 12v1m0 32v1m0 11v1m6-373v1m0 18v1m0 12v1m0 281v2m1-329v1m0 2v4m0 2v2m0 176v2m0 19v1m0 4v1m4-212v1m0 25v1m0 15v1m0 131v1m0 15v1m0 1v1m0 4v1m0 154v1m0 3v1m0 16v1m3-341v1m0 154v2m0 168v1m0 6v2m1-19v1m1-334v1m0 174v1m0 1v1m0 13v1m0 4v1m0 143v2m5-4v1m0 7v1m2-180v1m0 175v1m0 6v2m5-326v1m5-17v2m0 340v2m0 2v1m1-359v1m0 11v2m0 334v2m1-8v1m5-341v1m0 21v1m0 1v1m1 321v2m0 7v1m1-16v1m0 42v1m1-380v2m0 1v1m0 157v1m0 173v1m0 28v1m0 2v1m0 4v1m1-373v2m0 1v1m0 157v1m0 173v1m0 14v2m1-167v1m3-174v2m0 1v1m0 323v1m1-344v1m0 14v1m0 323v1m0 41v1m0 5v1m1-383v1m0 3v1m0 322v2m0 6v1m0 27v1m0 8v1m5-368v2m1 1v1m0 164v1m0 160v3m0 6v1m0 34v1m1-359v1m0 309v1m0 39v1m5-43v1m0 5v2m0 40v1m1-41v1m0 2v1m0 29v1m0 1v1m1-33v2m0 1v1m0 26v1m3-32v1m1-343v1m0 8v1m0 174v2m0 151v1m1-326v1m0 11v1m0 313v1m0 14v2m0 11v1m0 7v3m0 3v1m1-185v1m0 147v1m0 20v1m1-170v1m0 147v1m3-322v2m0 3v1m1-26v1m0 333v1m0 25v1m1-347v1m0 321v2m0 3v1m0 35v1m1-352v1m1-1v1m1 334v1m3-335v1m1 154v1m0 136v1m0 3v1m0 5v1m0 53v2m1-376v1m0 175v1m0 145v1m0 5v1m0 3v1m0 36v2m1-371v1m0 175v1m0 145v1m0 14v2m1-322v1m0 313v1m4-325v1m0 3v1m0 320v3m0 3v1m0 14v1m1-347v1m0 344v1m0 3v1m5-26v1m1-324v1m0 349v1m1-344v1m0 341v1m5-23v1m0 25v1m1-351v1m0 5v1m0 300v1m0 41v1m1-350v1m0 5v1m0 300v1m0 36v1m0 4v1m3-350v1m1 313v1m0 16v1m1-329v1m0 161v1m0 127v1m0 3v1m0 7v1m0 63v1m1-218v1m0 4v1m0 146v1m0 4v1m0 41v1m0 1v1m1-202v1m0 4v1m1 2v2m0 150v1m3-161v1m0 3v1m0 155v1m0 18v1m0 9v1m4-182v2m3-8v1m0 15v1m0 133v1m0 10v1m0 12v2m0 1v1m0 2v1m1-14v1m6 9v1m2-320v1m0 302v1m0 10v1m5-313v1m5-9v1m0 321v1m1-169v2m0 166v1m0 13v2m6-340v1m0 11v1m1-26v1m0 324v1m0 33v1m1-192v1m0 4v1m3-162v1m0 330v1m3-3v1m0 4v1m1-306v2m0 1v1m0 116v1m1-121v1m0 141v2m0 140v1m0 25v1m5-344v1m1 18v1m0 11v2m0 125v1m0 163v1m0 1v1m0 22v1m1-310v1m0 284v1m5-334v1m0 4v2m0 22v2m0 9v1m0 3v1m0 4v1m0 293v1m1-321v1m0 20v1m0 311v1m0 1v1m1-188v2m0 19v1m0 127v1m0 14v4m0 16v1m0 1v1m3-364v1m0 40v2m0 3v1m0 151v1m1-201v1m0 192v2m0 150v2m1 19v1m1-326v2m0 156v1m0 7v1m0 120v1m0 8v1m0 4v1m0 2v1m0 17v1m0 6v1m1-330v2m0 156v1m0 7v1m0 120v1m0 8v1m0 4v1m0 27v1m3-345v1m0 31v1m0 149v1m0 2v1m1-174v1m0 157v1m0 2v2m0 140v1m0 20v1m1-321v2m0 299v1m0 21v2m1-368v1m0 35v2m0 19v1m0 271v1m0 15v1m0 19v1m0 3v1m1-370v1m0 35v2m0 19v1m0 271v1m0 39v1m1-318v1m0 127v1m0 17v1m0 161v1m3-32v1m0 16v1m1-11v1m0 29v1m1-361v1m0 13v1m0 167v2m0 148v1m0 3v1m0 22v1m5-341v1m0 162v1m0 149v1m0 5v1m0 12v1m1-179v1m1 16v2m0 4v1m0 1v1m6-186v1m1 163v1m0 18v1m0 2v1m0 3v1m5-188v1m0 8v1m0 144v1m0 8v1m1-167v1m0 1v1m1-1v1m3 10v1m0 310v1m1 3v1m1-331v1m3 172v2m0 160v1m3-177v1m0 167v1m0 5v1m1-343v1m0 8v1m3 172v1m0 167v1m3-175v1m0 160v1m1-164v1m1-159v1m0 2v1m0 165v1m5-174v1m0 1v2m0 7v1m0 162v1m0 157v2m1-349v1m0 8v1m0 3v1m1 151v2m5-149v1m0 3v1m0 330v1m2-351v2m3 336v2m1-178v1m0 182v1m4-323v1m0 133v2m0 20v1m3-179v1m0 156v1m1 180v1m1-315v1m0 150v1m1-152v1m0 150v1m1-175v2m0 4v2m0 154v1m0 14v1m0 145v1m0 2v1m0 2v2m0 8v1m3-346v1m0 16v1m1 151v1m1-12v1m0 3v1m0 14v1m0 7v1m0 164v1m5-192v1m0 174v2m2-4v1m5-157v1m0 9v1m0 145v1m1-324v1m0 9v1m1 163v1m3-172v1m0 155v2m0 166v2m4-307v1m0 315v1m4-8v2m1-167v1m3-170v2m0 179v1m0 148v1m3-344v1m0 1v1m0 1v1m0 6v2m0 6v1m0 176v1m0 143v1m1-318v2m0 16v2m6-40v1m1 11v1m0 2v1m0 27v1m1 142v1m0 7v1m5-5v1m1-159v1m4 153v1m3 0v1m0 1v1m1-155v1m0 150v1m3-175v1m0 20v1m0 1v1m0 158v1m4 160v1m1-350v1m0 14v1m0 164v1m0 178v1m3 2v1m1-351v1m1-15v2m0 2v1m0 360v1m5-350v1m0 164v1m1-170v1m1 166v1m0 176v2m0 2v1m5-341v1m0 9v1m0 151v1m0 173v2m1-325v1m1 159v2m0 10v1m5-175v1m1-2v1m1-2v1m0 172v1m0 141v2m3-332v1m0 166v1m0 159v1m3-335v1m0 1v1m0 28v1m0 3v1m0 142v2m1-9v1m0 19v2m0 138v2m0 6v2m1-331v1m0 172v1m0 164v1m0 1v1m3-162v1m0 141v2m0 1v1m1-328v1m0 331v1m3-187v2m0 15v1m0 166v2m0 8v1m0 19v1m3-354v1m1-5v2m0 12v2m0 148v1m1-164v1m0 169v1m0 149v1m0 7v2m0 2v2m5-339v1m0 1v1m0 18v1m0 154v1m0 161v1m1-319v1m1-17v1m0 14v1m0 2v1m0 144v1m0 10v1m5-177v1m0 12v1m0 143v1m0 164v1m1-323v2m0 15v3m1-20v1m0 146v2m0 187v1m6-335v1m0 168v2m1-171v1m0 3v1m0 146v2m0 18v1m1-9v1m5-148v1m1-15v1m1 9v1m3 169v1m1-180v3m0 6v3m0 179v1m1-32v1m0 8v1m0 162v1m5-332v1m0 161v1m0 5v1m0 1v1m1-187v1m0 38v1m0 142v1m1-170v1m0 362v1m5-352v1m0 147v1m1-175v1m0 1v1m0 178v1m0 24v1m0 139v1m1-140v1m3-181v1m3 9v1m0 1v1m1 139v1m6-176v1m0 2v1m0 1v1m0 25v1m0 307v1m1-331v1m0 174v1m1-16v1m0 174v2m3-3v1m1-335v2m0 14v1m0 298v2m0 4v1m0 28v1m0 1v1m0 3v1m1-35v1m0 4v1m0 18v1m5-343v1m0 170v1m0 152v1m1-337v1m0 27v1m0 1v1m1 137v1m0 3v1m5-162v1m0 7v1m0 326v1m1-174v1m0 167v1m1-334v1m0 326v1m0 9v1m3-179v1m0 176v1m3-340v3m0 12v2m0 157v1m1 158v1m3-321v1m0 331v1m3-346v1m0 13v1m0 151v3m0 170v1m1-323v2m6-17v1m0 11v2m0 303v1m0 3v1m1-307v1m0 335v1m0 1v1m1-339v1m0 313v1m4-8v1m0 2v1m0 26v2m1-352v1m0 318v1m0 4v1m0 19v2m6-350v1m1 166v1m0 156v2m0 22v2m5-345v1m0 169v2m1-178v1m0 22v1m0 328v1m0 13v3m0 5v1m0 3v1m1-73v1m0 5v3m0 3v1m0 8v1m0 23v1m3-348v2m0 8v1m0 317v1m3-331v1m0 12v1m0 153v1m0 182v1m0 13v3m1-203v1m0 8v1m0 132v1m0 5v1m0 5v1m0 35v1m0 3v1m1-27v1m5-320v2m0 285v1m0 3v1m0 21v1m0 45v1m0 4v1m1-68v1m0 16v1m0 36v1m0 1v1m0 3v1m1-207v1m5-166v1m0 1v2m0 9v1m0 1v1m0 308v1m1-161v1m0 163v1m0 3v1m0 13v1m0 2v1m1-186v1m0 163v1m0 4v1m4-338v1m0 2v1m1 4v1m0 162v1m5-2v1m0 170v1m1-337v2m0 1v1m0 332v1m1-172v1m0 7v1m3 152v1m3-331v1m0 2v1m0 21v1m0 145v1m0 167v2m2-323v1m5-25v1m0 33v1m0 3v1m0 306v2m1-163v1m0 146v1m1-156v1m0 7v1m0 146v1"/>
<path stroke="#0060ff" stroke-width="2" d="M201 584v1m0 3v1m0 11v2m26-170v1m13 164v1m2-171v1m7-1v1m5-155v1m17 159v1m0 161v1m3-1v1m2-323v1m15 319v1m12-322v1m0 320v1m14-2v1m0 1v1m0 7v1m7-410v1m0 3v1m8 2v1m5 353v1m2-359v2m0 340v2m12-267v1m7-84v1m0 9v2m0 356v1m5-373v1m0 47v1m0 324v1m3-380v1m0 11v1m0 8v1m0 5v1m0 26v1m0 13v2m0 174v1m0 131v1m4-386v1m0 6v2m0 66v1m0 22v1m0 118v1m0 8v1m0 196v1m3-413v2m0 66v1m0 5v2m0 138v2m0 4v1m0 15v1m5-215v1m0 1v1m0 3v2m0 160v2m0 56v1m0 109v2m0 25v1m2-334v1m0 29v1m0 114v1m0 6v1m0 3v1m0 14v1m0 4v2m0 153v1m3-383v1m0 7v1m0 5v1m0 171v1m2-151v1m0 168v1m0 1v2m0 23v1m0 144v1m2-391v2m0 21v1m0 42v1m0 12v1m0 3v1m0 94v1m0 7v2m0 52v1m0 4v1m0 14v1m0 119v1m0 47v1m3-424v1m0 8v1m0 1v1m0 65v1m0 13v1m0 115v1m0 48v1m2-245v1m0 18v2m0 18v1m0 22v1m0 2v1m0 3v1m0 111v2m0 6v2m0 2v2m0 26v2m0 7v1m0 10v1m0 167v1m5-401v1m0 11v2m0 45v1m0 2v1m0 102v1m0 14v2m0 2v2m3-189v1m0 30v1m0 4v1m0 24v1m0 117v4m0 24v1m4-208v1m0 162v2m0 20v2m3-186v1m0 8v1m0 206v2m0 4v2m0 145v1m5-350v2m0 1v1m0 33v1m0 149v1m0 9v1m0 177v1m0 18v1m2-410v1m0 42v1m0 17v2m0 2v1m0 131v1m3-209v1m0 6v1m0 24v1m0 185v1m0 141v1m2-341v2m0 7v1m0 12v1m0 31v1m0 347v1m2-360v1m0 324v2m3-228v2m0 70v1m0 141v1m0 1v1m0 28v1m0 5v2m2-396v3m0 191v1m0 161v1m0 36v1m5-381v2m0 32v1m0 144v1m0 2v1m0 13v2m0 9v1m0 109v1m2-304v1m0 27v2m0 299v1m0 18v2m0 10v1m5-379v1m0 17v1m0 5v2m0 162v1m0 164v1m0 12v2m3-358v2m0 169v1m0 18v1m0 153v1m0 9v1m0 18v1m5-364v1m0 13v2m0 147v1m0 13v1m0 141v1m0 19v1m0 5v1m0 4v2m2-181v1m0 138v2m5-150v1m0 1v1m0 33v1m2-193v2m0 164v1m0 25v1m0 157v1m0 3v1m3-367v1m0 5v1m0 183v1m0 8v1m0 4v1m0 146v1m0 10v1m2-189v1m0 10v1m0 168v2m5-345v1m0 2v1m0 2v1m0 5v1m0 8v2m0 323v1m2-338v2m0 167v1m8-156v1m0 307v1m0 6v1m0 2v1m5-344v1m0 1v1m0 5v1m2-10v1m0 177v1m0 165v2m0 18v1m0 9v1m5-365v2m0 11v1m0 1v1m0 180v1m2-206v1m0 18v1m0 3v1m0 316v1m5-335v2m0 1v1m7 321v1m0 4v1m0 3v1m0 15v1m8-157v1m0 127v1m0 15v1m7-6v1m0 24v1m12-337v1m2 154v2m0 161v1m0 28v1m5-22v1m0 1v1m8-328v1m0 150v1m0 158v1m7-317v1m0 302v1m5-148v2m0 7v1m0 4v1m0 159v2m2-162v1m0 143v1m5-155v2m0 167v1m2 8v1m3-318v1m0 136v1m2 187v1m5-343v1m0 157v2m2-158v1m0 303v1m0 1v1m0 4v3m0 13v1m0 17v1m5-329v1m0 292v1m0 21v2m8-337v1m0 3v1m0 25v1m0 280v1m0 7v2m0 17v1m2-353v1m0 13v1m0 155v1m5-166v2m0 35v1m0 144v2m0 162v1m2-19v1m5-325v1m0 12v1m0 171v1m0 1v1m0 126v1m0 11v2m7-333v1m0 44v1m0 120v1m0 7v1m0 155v1m8-334v1m0 189v1m0 4v1m0 138v1m5-335v1m0 9v3m0 160v1m0 24v1m0 19v1m0 91v1m0 15v1m2-328v1m0 2v2m0 180v2m0 2v1m12 6v1m2-182v1m0 171v2m0 4v1m5-195v1m0 2v1m0 177v1m5-170v1m0 2v1m0 3v1m0 162v1m0 166v1m0 3v1m0 4v1m7-183v1m0 6v1m0 2v1m0 152v1m3-150v1m0 145v1m0 16v1m5-346v2m2 4v1m0 8v1m0 159v1m7 4v1m0 127v2m5-306v2m0 140v1m0 183v2m5-342v1m0 17v1m3 7v1m0 139v1m0 183v1m0 5v1m7-354v1m0 161v1m0 7v1m0 9v1m0 1v1m0 139v1m5-329v1m0 175v1m0 7v1m2 148v1m0 13v2m5-334v2m0 313v1m0 20v1m2-23v1m0 21v1m0 3v1m5-339v1m0 334v1m3-186v2m0 166v1m0 15v1m4-328v1m5-36v1m0 8v1m0 6v2m0 8v1m3 2v1m0 11v1m5-14v1m0 325v1m2-333v1m5 0v1m0 6v1m2 164v1m0 4v1m8-10v1m0 8v1m4-160v1m3-13v1m0 331v1m5-345v1m0 171v1m0 3v2m0 167v1m5-347v1m0 2v1m0 13v1m0 337v1m2-352v1m0 179v1m0 166v1m5-176v1m0 8v1m0 177v1m2-188v1m5-167v1m2 183v2m0 5v1m0 148v2m5-179v2m0 10v1m0 4v2m0 143v1m3-325v1m0 173v1m5-174v1m0 176v1m0 141v1m0 5v1m0 29v1m4-344v1m0 150v1m0 175v1m3-341v1m0 152v1m0 181v3m5-5v1m2-335v1m0 174v1m0 162v1m5-189v4m0 8v2m0 13v1m0 162v1m2-341v1m0 174v1m13-10v1m2 2v1m5-1v1m5-3v1m2-163v1m0 333v1m0 17v1m5-211v1m0 29v1m0 162v1m2-179v1m0 2v1m0 2v1m5 25v1m3-30v1m0 177v1m7-329v1m0 160v1m5-161v1m5-10v1m0 335v1m2-338v1m5-4v1m0 160v1m0 170v1m2-174v1m0 180v1m8-6v1m4-335v1m0 11v1m0 148v1m0 172v1m0 6v1m3-332v1m0 161v1m0 1v1m5-164v1m0 148v1m0 9v1m2-183v1m0 20v1m0 316v1m0 2v1m5-321v1m7 319v1m5-318v1m2-4v1m8 152v1m0 175v1m5 2v1m2-169v1m5-1v1m0 154v1m2-169v1m5-153v1m0 153v1m5-149v1m0 159v1m2-176v1m0 170v1m0 156v1m8-329v1m7 4v1m0 155v1m0 11v1"/>
<path stroke="#0080ff" stroke-width="1" transform="translate(.5)" d="M199 593v2m19-168v1m14 169v1m6-171v1m7 3v1m7-161v1m3 155v1m0 168v1m0 1v1m11-2v1m13-165v1m0 143v2m0 35v1m0 6v1m0 4v1m1-14v1m6-349v1m0 317v1m0 20v1m0 2v2m0 4v1m1-29v1m0 23v1m5-8v1m1-333v1m0 313v1m0 3v1m0 17v3m1-343v1m0 318v1m0 19v1m1-340v1m1-66v2m3 224v1m0 160v1m0 17v1m0 6v1m1-341v1m0 331v1m0 1v1m0 1v1m1-419v1m0 409v1m5-25v1m0 10v1m0 17v1m0 12v2m1-423v1m0 379v1m0 26v1m6-343v1m0 13v1m0 150v1m0 143v2m0 12v1m0 23v1m0 10v1m0 5v1m1-430v1m0 378v1m0 9v1m0 26v1m0 4v1m1-422v1m0 392v1m4-325v1m0 334v1m0 1v1m1-342v3m0 164v1m0 140v2m0 48v1m1-43v1m0 3v1m0 21v1m0 7v2m6-354v2m0 357v1m1-38v2m0 28v1m5-20v1m1-343v1m0 360v1m1-419v1m0 393v1m0 19v1m5-355v1m0 29v1m0 143v1m0 153v1m0 8v1m0 13v1m0 6v2m1-31v1m0 8v1m0 11v1m6-347v1m0 13v2m0 303v2m0 7v1m0 23v1m0 3v1m0 3v2m1-36v1m0 2v1m0 21v1m0 2v2m4-415v1m0 349v1m1-346v1m0 29v2m1 46v2m0 1v1m5-14v1m1-110v1m0 40v1m0 59v1m0 165v1m1 164v1m3-412v1m0 80v1m0 295v1m3-391v1m0 69v2m1 24v1m0 9v1m3-113v1m0 61v1m0 7v2m0 8v2m0 26v1m0 101v2m0 22v1m0 30v1m3-32v1m1-207v1m0 6v1m0 40v2m0 12v2m0 102v2m1-184v2m0 186v2m0 20v1m0 3v2m0 11v1m0 1v1m5-138v1m12-65v1m0 3v2m0 158v2m1-179v1m0 14v2m0 2v2m0 49v1m0 106v2m0 33v1m1 22v1m3-238v1m0 3v1m0 8v2m0 28v2m0 138v2m0 27v1m0 7v1m0 132v2m0 16v1m0 4v1m3-328v2m0 108v2m0 46v1m0 21v1m1 1v1m0 8v1m3-224v2m0 6v2m0 34v1m0 107v2m0 10v2m0 188v1m0 17v2m0 14v1m3-379v1m0 37v1m0 143v1m0 11v2m0 149v1m0 7v1m0 29v1m2-406v2m0 7v1m0 17v1m0 28v1m0 168v1m0 11v1m12 154v1m5-376v1m0 2v2m0 30v2m0 169v1m0 6v1m0 167v2m1-392v1m0 200v1m0 143v1m0 10v1m1-291v1m0 304v1m5-348v2m0 22v1m0 7v1m0 165v1m0 139v1m1-356v1m0 30v2m0 153v2m0 19v1m0 161v1m1-11v1m3-325v3m0 15v1m0 147v1m0 1v1m0 131v2m0 17v1m0 16v2m0 10v2m3-188v3m0 11v1m1-183v1m0 31v1m1-18v1m0 156v1m0 169v1m5 2v1m2-182v1m0 12v1m10 22v1m2-36v1m5-167v2m0 167v1m1-156v1m0 167v2m0 169v1m1-20v1m0 3v1m0 9v1m0 26v2m1-28v1m0 19v1m0 4v1m1-26v2m4-334v1m0 346v1m1-25v1m0 35v1m0 4v2m1-39v1m0 25v1m0 3v2m5-358v1m0 317v1m0 2v1m1-323v1m0 1v1m0 355v2m1-377v1m0 22v1m0 317v1m0 27v2m5-370v1m0 331v1m0 33v1m0 8v1m1-193v2m0 160v1m0 19v1m0 3v1m0 3v1m1-191v2m0 180v1m4-357v1m0 171v1m0 146v1m0 35v1m1-353v3m0 330v1m1-324v1m0 167v1m0 146v2m0 29v2m1-348v1m0 167v1m0 146v2m3-313v1m1 315v1m0 1v2m1 1v1m0 32v1m1-37v1m0 3v1m0 24v3m1-16v1m4-346v1m0 12v1m0 156v1m1-4v1m0 149v1m0 4v1m0 1v1m0 35v1m0 3v1m0 1v1m1-36v1m0 19v2m0 1v1m0 3v2m1-29v2m1-5v1m3 6v2m1-329v2m0 338v1m0 3v1m1-22v2m0 4v1m0 9v1m5-338v1m0 317v1m0 7v1m0 16v2m1-350v1m0 328v1m1-160v1m7 162v1m0 16v1m3-344v1m0 304v2m0 6v2m0 20v1m1-341v1m0 173v1m0 140v1m1-150v1m0 4v1m0 138v2m0 18v1m0 13v1m0 18v3m1-213v1m0 16v1m0 132v1m0 39v1m0 15v1m1-207v1m0 16v1m1 142v1m0 4v1m3-162v1m0 158v1m0 13v1m0 6v1m0 2v1m4-18v1m3-169v1m0 149v1m0 4v1m0 2v1m0 16v1m2-7v2m5-14v1m0 2v1m0 14v1m1-13v1m0 4v1m1-311v1m10-7v1m1 323v1m0 5v1m6-24v1m1-298v1m0 145v1m0 153v1m1-155v1m0 1v1m0 154v2m0 7v1m6-301v1m0 306v1m1-319v1m0 1v1m0 133v1m0 1v1m1 1v1m0 11v2m0 145v1m5-281v1m0 139v1m0 7v1m1-27v1m0 15v1m0 167v1m0 1v1m0 1v1m1-312v1m0 286v1m0 18v1m5-315v1m0 3v1m0 139v2m1-161v2m0 329v1m1-314v3m0 6v1m0 139v1m0 4v1m0 157v1m3-316v1m0 4v1m0 132v1m0 5v2m0 6v1m0 6v1m1-29v1m0 182v1m1-318v1m0 299v1m0 19v1m1-360v1m0 18v1m0 33v1m0 310v1m1-365v1m0 18v1m0 33v1m0 290v2m0 18v1m3-313v1m0 127v3m0 19v1m0 129v1m1-319v2m0 1v1m0 14v1m0 11v2m0 130v1m0 13v1m0 146v1m1-324v1m0 21v1m0 2v1m1-13v1m0 22v1m0 117v1m0 193v1m1-336v1m0 22v1m0 117v1m0 171v2m0 15v1m0 4v1m1-188v1m0 4v2m0 12v1m0 2v1m0 5v2m0 131v2m0 13v1m3-180v1m0 3v2m0 163v1m1-6v1m0 1v1m0 17v1m0 8v1m1-365v1m0 19v1m0 152v1m0 43v1m0 111v1m0 2v1m0 3v1m0 17v1m5-350v2m0 175v1m0 6v2m0 141v1m0 16v1m2-163v2m0 154v2m0 15v1m5-186v2m2-168v2m0 164v1m0 9v2m0 10v1m0 3v1m5-195v2m0 161v1m0 10v2m0 152v2m1 7v1m1-332v1m0 168v1m0 152v1m0 5v1m3-324v1m0 324v2m1-344v1m0 11v4m1-16v2m0 177v1m0 167v1m6-184v1m0 4v1m0 16v1m0 150v1m0 5v1m1 1v1m6-174v2m0 159v1m1-153v1m1-165v1m0 166v1m5-179v2m1-9v1m0 8v2m1 332v1m0 12v1m5-342v1m0 147v2m1-162v1m1 6v1m0 163v1m3-172v1m0 1v3m0 333v1m1-341v1m0 22v1m0 139v1m0 15v1m4-21v1m0 181v1m3-338v2m0 10v1m0 142v1m1 186v1m1-339v1m0 168v1m0 154v2m1-326v1m0 168v1m0 154v2m1-340v1m0 328v1m0 2v1m0 2v1m0 3v1m3-337v1m2 161v1m0 12v1m0 4v1m5 156v1m1 3v1m1-10v1m0 2v1m5-316v1m0 311v1m1-323v1m0 159v1m7-155v2m0 2v2m1 154v1m0 154v1m4-314v1m0 159v1m0 6v1m1-170v1m0 166v1m3-197v1m0 7v1m0 189v1m0 150v1m3 11v1m1-317v1m1 145v1m5-183v1m0 178v1m1-168v2m1-17v1m0 180v2m0 6v1m6-162v1m7-17v1m0 32v1m0 1v2m4-23v1m0 166v1m0 169v1m3-351v1m0 1v1m0 32v1m0 144v1m1-181v1m0 341v1m1-350v1m0 351v1m3-351v2m1 9v1m0 21v1m1-38v1m0 367v1m6-354v1m0 1v1m0 14v1m0 3v1m0 148v1m1-155v1m0 320v1m0 11v2m5-184v1m1 2v1m1 11v1m0 162v2m5-344v1m0 11v1m0 159v1m1-175v1m0 1v1m0 14v1m1-19v2m0 167v1m0 190v1m3-362v1m0 166v1m0 25v1m3-196v1m0 1v1m0 171v1m1-165v1m0 173v1m0 1v1m1 157v1m0 1v1m0 2v1m3-181v1m0 17v1m1-185v1m0 22v1m0 146v1m0 160v1m3 17v1m3-31v1m1-314v2m0 8v1m0 3v1m0 154v1m1-174v1m0 3v1m0 12v1m5-13v1m0 139v1m0 29v1m0 155v2m0 2v1m1-333v1m0 13v1m0 312v1m6-167v1m1-163v1m0 315v1m1-302v1m0 135v1m0 160v1m6-311v1m0 12v2m1 149v1m1-165v1m0 10v1m0 320v1m5-164v1m1-29v1m0 19v1m4 8v1m0 1v1m0 6v1m1-180v1m0 167v2m1-168v1m5 159v1m1-176v1m0 1v1m0 4v1m0 24v1m1 340v1m6-375v1m0 38v1m1-14v1m6-21v1m0 30v1m0 143v1m0 161v2m1 3v1m3-173v1m0 6v1m3-153v2m0 308v1m1 6v1m1-173v1m0 7v1m3-170v1m0 1v1m0 6v1m0 159v1m0 165v1m1-337v1m0 317v1m1-159v1m0 9v1m0 153v1m0 9v1m0 2v1m0 4v1m5-334v1m0 318v1m1-338v1m1 20v1m0 147v1m0 176v1m5-3v1m1-339v1m0 12v1m0 322v1m1-326v1m3 324v1m3-325v1m7 159v2m1-8v1m0 6v1m0 164v1m6-340v1m0 315v1m0 6v1m0 21v1m1-333v1m0 316v1m0 13v1m0 2v2m1-336v1m0 318v1m0 8v1m3-169v1m1-160v1m0 1v1m0 154v1m0 180v1m1-29v1m5-329v1m0 6v1m0 160v1m0 1v1m1-169v1m0 16v1m0 307v1m0 3v1m0 20v1m1-21v1m0 17v1m5-181v1m1-168v1m0 18v1m0 1v1m0 284v1m0 4v1m0 47v1m0 1v1m1-358v1m0 13v1m0 288v1m0 11v1m0 34v2m0 4v1m6-50v2m0 4v1m0 8v1m0 23v1m0 10v1m1-349v1m0 304v1m0 8v1m0 32v1m6-348v1m0 292v1m0 60v1m0 4v1m1-198v1m0 131v1m6-296v1m0 312v1m0 3v2m0 18v1m0 4v1m1-188v1m0 9v1m0 169v1m1-181v1m0 9v1m4-181v1m0 3v1m0 16v3m0 147v1m0 4v1m0 164v1m1-177v1m0 176v1m6-321v2m1-15v1m3 319v1m3-307v1m0 151v1m1-159v1m0 310v1m0 9v1m1-13v1m5-326v1m1 7v1m1 0v2m0 155v1m0 156v1"/>
<path stroke="#0080ff" stroke-width="2" d="M201 585v1m0 11v1m0 1v1m43-173v1m0 168v1m0 1v1m25-166v1m5-160v1m0 158v1m24 158v1m12-392v1m0 233v1m2-232v1m12-11v1m0 9v1m0 224v1m13 114v2m2-117v1m5-239v1m0 4v2m0 334v1m0 5v2m0 54v1m12-399v1m0 45v2m2-53v1m0 25v2m0 27v2m0 183v2m0 126v1m5-380v1m0 6v1m0 47v1m0 39v1m3-83v1m0 6v1m0 8v1m0 25v1m0 152v1m0 211v1m4-421v1m0 7v1m0 71v1m0 3v1m0 11v1m0 286v1m3-366v2m0 45v1m0 3v1m0 16v1m5-87v2m0 6v1m0 76v1m0 296v2m0 1v1m2-362v1m0 2v1m0 1v1m0 25v1m0 10v1m0 25v1m0 105v1m0 8v1m0 3v1m0 172v1m3-395v3m0 9v1m0 13v1m0 8v1m0 45v1m0 136v2m2-218v2m0 44v1m0 9v1m0 160v1m0 24v1m2-178v1m0 14v1m0 14v1m0 81v1m0 22v2m0 25v1m0 4v2m0 8v1m0 2v1m0 13v1m0 130v1m0 1v1m3-201v2m2-180v1m0 17v1m0 22v1m5-36v1m0 2v1m0 1v1m0 4v1m0 22v1m0 28v1m0 4v3m0 155v1m0 147v2m3-378v1m0 68v1m0 160v1m4-206v2m0 342v2m3-365v1m0 6v1m0 19v1m0 44v1m0 131v1m0 25v1m0 152v2m5-392v1m0 12v1m0 10v2m0 2v1m0 33v1m0 147v1m0 26v1m0 162v1m2-391v1m0 198v1m0 10v1m0 162v1m3-322v1m0 6v1m0 149v1m0 141v1m0 22v1m2-357v1m0 11v1m0 2v1m0 21v1m0 351v1m2-394v2m0 36v1m0 156v1m0 150v2m3-348v1m0 42v1m0 9v1m0 130v1m0 27v1m0 119v1m0 12v1m0 9v1m0 26v1m0 5v1m2-365v1m5-34v1m0 199v1m0 20v1m0 171v2m2-187v1m0 16v1m0 133v1m0 12v1m5-359v1m0 26v2m0 159v1m3-144v2m0 317v1m0 10v2m0 4v1m5-362v1m0 181v1m0 134v1m0 33v2m0 11v1m2-204v1m0 21v1m0 139v2m5-320v2m0 14v1m0 149v1m0 187v2m2-193v1m0 12v1m0 165v2m3-355v1m0 5v1m0 179v1m2-6v2m0 2v1m0 12v1m0 162v2m0 5v1m0 6v2m5-370v1m0 13v1m0 164v1m0 1v1m2-176v1m0 175v1m8-182v1m0 333v1m5-323v1m7-14v1m0 23v1m0 315v1m2-4v1m5-329v1m0 1v1m0 324v1m7-145v1m0 133v1m0 6v1m8 31v1m7-342v1m0 316v1m0 22v1m7-21v1m0 7v4m0 8v1m5-337v1m0 305v1m2 4v1m0 18v1m5-324v1m0 298v1m0 3v1m0 15v1m0 1v1m8-168v1m0 151v1m0 20v2m4-184v2m0 169v1m3-327v1m0 343v1m5-342v2m0 154v2m0 2v1m2-11v1m0 160v1m0 18v1m5-25v1m0 5v1m0 11v1m5-309v1m0 138v1m0 155v1m2-297v1m0 315v1m0 3v1m5-169v1m2-165v1m0 305v1m0 18v1m0 17v1m5-190v1m0 155v1m3-306v2m0 145v1m5-164v2m0 34v1m0 282v1m0 24v1m2-343v1m0 24v1m0 298v2m5-304v2m0 8v1m2-32v1m0 11v1m0 6v2m0 148v1m0 1v2m0 4v2m0 132v1m0 12v1m5-338v1m0 195v1m0 1v1m0 128v1m0 8v2m7-326v2m8-9v1m0 7v1m0 160v2m0 22v1m0 19v1m0 120v1m5-335v1m0 2v2m0 159v1m0 18v2m0 125v1m0 15v1m0 4v1m0 1v1m2-161v2m0 2v2m0 13v1m0 5v1m0 140v2m0 9v1m5-180v2m2-182v1m0 339v2m5-140v1m0 141v2m2-160v2m5-181v1m0 178v1m0 176v1m5-344v1m0 319v1m0 17v1m3-357v1m0 5v1m0 171v1m4-157v1m0 163v1m0 177v1m3-353v2m0 166v1m0 8v1m0 151v1m0 7v1m0 6v1m5-359v1m0 20v1m0 330v1m0 6v1m2-336v1m0 163v1m0 159v2m7-182v1m0 1v2m0 189v1m5-171v1m5-187v1m0 23v1m0 130v1m0 175v1m3-322v1m0 169v1m0 152v1m7-329v2m0 164v1m0 11v1m0 153v1m7-333v2m0 20v1m0 302v1m5-326v2m0 20v1m0 156v1m0 155v1m0 1v1m2-159v1m0 141v1m5-302v1m3-25v2m0 11v1m0 317v2m0 1v1m0 2v1m4-338v4m5-19v1m0 39v1m3-14v1m0 13v1m5-24v1m2 0v2m0 173v1m5-174v1m0 1v2m0 8v1m0 157v1m2-159v1m0 7v1m12-12v1m3-25v1m0 25v1m0 6v1m0 323v1m5-349v1m0 12v1m0 10v1m0 158v1m5 165v1m0 4v1m2-7v1m5-321v1m0 168v1m0 164v1m2-347v1m0 7v1m0 160v2m0 178v1m5-16v2m2-339v1m0 332v1m8-11v1m5-320v1m0 7v1m4 324v1m3-25v1m0 10v1m5-310v1m0 136v1m0 1v1m0 18v1m0 153v2m7-332v1m0 18v1m0 155v1m2-177v1m0 336v2m5-332v1m0 329v1m3-321v1m0 120v1m0 16v2m0 18v1m12-8v1m0 170v1m5-174v1m0 189v1m2-1v2m5-159v1m2-182v1m0 151v1m0 170v1m5-177v1m3-147v1m0 155v1m0 157v1m7-330v1m0 174v1m5 160v1m5-10v1m2-315v1m0 324v1m0 2v1m7-330v1m0 158v1m5-158v1m3-13v1m0 6v1m4 328v1m3-324v1m5-15v1m0 329v1m2-323v1m0 162v1m5-172v1m0 7v1m0 152v1m5-171v1m0 179v1m0 154v1m2 13v1m5-330v1m0 318v1m2-323v1m0 153v1m20-164v1m2 170v1m0 154v1m5 2v1m0 1v1m5-320v1m0 324v1m2-168v1m0 166v1m5-335v1m0 7v1m0 318v1m3-10v1m5 8v1m0 5v1"/>
<path stroke="#009fff" stroke-width="1" transform="translate(.5)" d="M250 594v1m15-166v2m14 174v1m1-27v1m0 3v3m0 3v1m0 14v1m0 3v2m1-17v1m5-9v1m0 3v1m1 0v2m0 11v1m2-170v1m5 154v2m0 13v1m2-13v1m3-165v1m0 8v1m0 146v2m0 19v1m0 8v1m1-11v1m1-413v1m5 80v1m0 304v1m0 26v1m1-27v1m0 24v1m0 3v1m0 5v2m6-338v1m0 298v1m0 42v1m1-6v1m4-419v1m1 1v2m0 6v1m1 70v1m0 156v1m0 137v1m0 4v2m0 26v1m0 6v1m1-37v1m0 6v2m0 29v1m6-37v1m0 35v1m1-31v1m0 4v1m2-400v1m0 237v1m0 4v1m0 155v1m0 12v1m4-349v1m0 28v1m0 4v1m0 294v2m0 28v1m1-25v1m0 1v1m0 13v3m5-322v1m0 321v1m1-413v2m0 390v1m1-399v1m5 70v1m0 9v1m0 156v1m0 183v1m1-30v1m1 7v1m3-399v4m1 396v1m1-346v2m0 30v1m5-42v2m0 5v1m1-51v1m0 8v1m0 25v1m0 31v1m0 297v1m1-298v1m3-96v1m0 32v1m0 357v1m0 31v1m3-421v1m0 25v1m0 10v1m1 59v1m3-104v1m0 24v2m0 35v1m0 334v1m3-162v1m1-236v1m0 3v2m0 21v1m0 4v1m0 4v1m0 43v1m0 122v2m0 36v2m1-161v1m0 3v1m0 133v2m0 15v1m0 1v2m0 187v1m5-358v2m7 29v1m5-65v1m0 176v2m0 41v1m1-246v2m0 30v2m0 1v1m0 31v1m0 12v1m0 336v1m1-183v1m0 180v1m3-389v1m0 13v1m0 1v1m0 37v1m0 69v2m0 14v2m0 58v1m0 10v1m3-180v2m0 2v2m0 160v2m0 9v1m0 1v1m0 143v1m4-340v1m0 173v1m0 193v2m3-14v2m0 8v2m0 6v1m1-331v1m1-80v1m0 18v2m0 18v2m0 23v1m0 164v1m0 169v2m5-10v1m7 3v1m0 11v1m5-377v2m0 34v1m0 159v1m1-214v1m0 6v2m0 39v1m0 6v1m0 5v1m0 134v1m0 184v2m1-321v1m0 305v1m0 6v1m5-343v4m0 19v1m0 167v1m1-214v1m0 29v2m0 333v1m1-10v1m3-316v1m0 148v2m0 156v1m0 21v2m3-350v1m0 5v2m1 24v2m1-20v3m0 159v1m0 168v1m5-346v1m0 16v1m0 142v1m0 35v1m0 155v2m0 5v1m2-352v2m0 3v1m0 164v1m5 13v1m5-196v2m0 9v2m0 153v1m0 197v1m1-198v1m0 7v2m1-8v1m5-169v1m0 4v1m0 339v1m1-344v1m0 13v1m1 330v1m0 4v1m0 17v1m0 2v1m1-351v1m0 345v1m0 1v1m1-349v1m1-22v1m3 363v1m1-25v1m0 27v1m1-363v1m0 3v2m0 355v1m0 2v1m5-371v1m0 340v1m1-328v1m0 4v1m0 326v1m0 23v2m0 3v1m1-356v1m0 322v1m5-321v2m0 316v1m0 34v1m1-375v1m0 21v2m0 319v2m1-345v1m0 21v2m3 320v1m1-16v1m0 4v1m0 2v1m0 6v2m1-325v1m0 332v1m0 9v1m0 4v1m1-343v1m0 161v1m0 177v1m1-341v1m0 161v1m3 136v1m0 3v1m0 5v1m1-11v2m0 9v1m0 5v1m0 9v1m1 21v1m1-374v1m0 18v1m0 161v2m0 155v1m0 4v1m0 22v2m1-368v1m0 18v1m0 161v2m0 155v1m1-339v1m0 177v1m0 181v1m3-33v1m0 5v1m0 3v1m1-8v1m0 9v1m0 36v1m1-37v1m5-17v1m1-142v1m1-4v1m0 9v1m0 149v2m0 2v2m5 0v1m1-1v1m0 17v1m1-2v1m5-21v1m0 23v1m1-24v1m0 21v1m1-23v2m0 1v2m3-330v1m1-1v1m0 337v1m1-172v2m0 133v2m0 4v1m0 11v1m0 9v1m0 11v1m0 7v1m0 1v1m1-39v1m0 6v2m0 18v1m0 3v2m0 4v1m0 4v2m2-40v3m3-169v1m0 159v1m0 3v1m1-312v1m3 336v1m3-33v1m0 14v2m1-322v1m1 328v1m5-20v1m0 7v2m2-2v2m11 4v1m0 13v2m1-329v1m5-13v1m0 300v1m0 8v1m0 13v1m1-314v1m0 328v1m4-342v1m3-5v1m0 17v2m0 8v1m1-10v1m0 1v1m0 133v1m0 1v1m0 11v2m0 1v1m1-189v1m0 335v1m0 5v1m5-143v1m1-166v1m0 8v1m0 299v1m0 13v1m1-353v1m0 319v1m0 9v1m0 20v1m5-358v1m0 191v2m0 2v2m1-166v1m0 310v2m1-299v1m0 4v1m0 148v1m0 135v1m3-289v1m0 4v1m0 117v1m0 11v1m0 18v1m1-189v1m0 12v1m0 175v1m0 151v1m1-314v1m0 299v1m0 17v1m1-358v1m0 4v2m0 5v1m0 38v1m0 280v1m0 7v1m0 15v1m1-357v1m0 4v2m0 5v1m0 38v1m0 280v1m3-151v1m0 150v1m1-333v1m0 13v1m0 160v1m0 10v2m0 2v2m0 162v1m1-342v3m0 16v2m0 303v1m0 19v1m1-365v1m0 170v1m0 173v1m0 17v1m1-364v1m0 170v1m1-167v1m0 9v2m0 173v1m0 7v1m0 1v1m0 6v1m0 2v1m3-26v2m0 2v4m1 147v1m0 23v1m1-348v2m0 6v1m0 154v1m0 17v1m0 137v1m0 29v1m5-364v1m0 9v2m0 326v1m0 12v1m1-7v1m1-123v1m0 138v1m5-170v3m1 151v1m1-329v1m0 152v1m5-175v1m0 7v2m0 336v1m1-170v1m0 1v1m1-1v1m0 6v1m0 154v1m0 5v1m3-326v1m1-16v1m0 334v1m1-335v1m0 3v1m0 1v1m6 156v1m0 18v2m0 142v2m1-332v2m0 7v2m3 331v1m0 1v2m3-334v2m0 154v1m0 173v1m1-159v1m1-175v2m0 171v1m0 169v1m6-352v2m0 5v1m0 166v1m0 173v1m1-325v1m0 318v1m0 10v1m5-177v2m0 152v1m1-330v1m1 20v1m3-22v1m1-3v1m0 154v1m0 177v2m0 10v2m1-338v1m0 159v1m3-153v1m0 5v1m3-16v1m0 169v1m0 152v2m2-310v1m0 1v1m0 133v1m1-137v1m0 1v1m0 133v1m1-166v1m0 331v1m3 2v2m1-152v1m1-181v2m0 16v1m0 136v1m0 6v2m5-166v1m0 19v2m2 313v1m5-320v1m1 148v1m4-168v2m0 160v1m0 175v2m4-164v1m0 5v1m0 150v1m3-336v1m1 349v1m1-331v2m0 165v1m3-197v1m0 7v1m0 185v1m3-186v2m0 183v1m0 4v1m1-17v1m0 12v1m1-190v2m0 184v1m5-163v1m1 19v1m1-46v1m0 188v1m6 166v1m0 2v1m4-327v1m0 322v1m3-344v1m0 1v1m0 2v1m0 22v1m0 3v1m1-22v1m0 8v1m0 161v1m0 165v1m3-357v2m0 357v1m3-319v1m0 311v1m1-336v1m0 170v1m1-189v1m0 177v1m0 173v1m3-334v1m0 8v1m1-18v1m0 19v2m1-35v1m0 364v1m5-174v1m1-176v1m0 1v1m0 13v1m6-17v1m0 337v1m1-343v3m0 16v2m1-18v1m0 14v1m0 151v1m0 7v1m0 13v1m0 158v3m0 3v1m5-16v1m1-327v2m0 156v1m1 2v1m0 170v2m3-175v1m0 168v2m3-345v1m1 14v1m0 166v1m0 1v1m1-183v1m3 320v1m0 10v1m1-333v1m0 16v1m0 1v1m6-4v1m1-11v1m0 165v1m6-167v1m0 136v2m0 28v1m1-170v1m1 14v1m0 146v1m7-166v1m0 155v1m3 6v1m0 151v1m3-314v1m0 1v1m0 9v1m0 154v1m1-7v1m1 1v1m0 7v2m0 142v1m5-316v2m0 165v1m1-169v1m0 143v1m4 35v1m0 3v1m1-174v1m0 157v1m1-6v1m0 4v1m5 184v1m1-365v1m0 1v1m1 7v1m0 358v1m5-195v1m1-176v2m0 33v2m0 1v1m1 132v1m0 3v1m0 22v1m3-184v1m3-11v1m0 25v2m1 312v1m3-333v1m0 9v1m3-17v2m0 22v1m0 144v1m0 161v1m1 6v1m1-324v1m0 1v1m3-2v1m0 147v1m1-150v2m0 308v1m0 3v2m0 18v1m1-183v1m0 173v1m0 6v1m6-355v1m0 2v2m0 1v1m0 18v1m0 2v1m0 145v1m7-166v1m0 10v1m1-3v1m0 2v1m0 1v1m0 149v1m0 163v2m3-320v1m0 2v1m3-14v1m0 165v1m0 3v1m1-157v1m0 319v1m3-326v1m0 319v1m3-320v1m1 150v1m1-148v1m5-15v1m0 7v1m0 161v1m0 179v1m0 1v1m1-31v1m0 3v1m0 17v1m4-345v2m0 172v1m1-164v1m0 308v1m0 4v1m0 19v2m1-339v1m0 5v1m5-20v1m1 2v1m0 171v1m0 151v1m0 3v1m0 18v1m1-338v1m0 163v1m0 154v1m0 15v1m5-360v1m0 1v1m0 26v1m0 157v1m0 166v1m1-344v1m0 2v1m0 303v1m0 6v2m0 3v1m0 8v1m0 23v1m0 4v1m1-38v1m0 4v1m0 3v1m0 21v1m0 3v1m3-342v1m3-11v1m0 10v1m0 293v1m0 5v1m0 4v2m0 35v1m0 3v1m1-349v2m0 4v1m0 305v2m0 28v1m1-23v1m0 10v1m5-341v1m0 2v1m0 305v1m0 16v1m0 36v1m0 5v1m1-359v1m0 298v2m0 3v2m0 40v1m0 1v1m0 4v1m1-39v1m5-325v1m0 327v1m0 13v2m1-173v1m0 157v1m0 11v1m0 2v1m1-174v1m4-178v1m0 1v1m0 16v1m1 312v1m5-318v1m0 153v1m1-165v1m0 330v1m1-168v1m0 171v1m6-338v1m0 18v1m0 1v1m1-20v1m1 11v1m5-21v2m0 1v1m0 21v4m0 143v1m1 4v2m1-1v1"/>
<path stroke="#009fff" stroke-width="2" d="M201 596v1m0 5v1m22-177v1m12 171v1m2-3v1m0 1v1m5-167v1m15-165v1m0 327v1m4-4v1m10-319v1m32 318v1m2 6v1m7-8v1m12-392v1m20 13v2m0 2v2m0 310v1m0 61v1m2-404v1m0 3v2m5-4v1m5 2v1m0 65v1m7-76v1m0 237v1m0 167v1m3-414v1m0 24v1m0 33v2m4-61v1m0 7v1m0 32v1m0 38v1m0 114v2m0 174v2m3-366v1m0 11v2m0 1v1m0 1v1m0 26v2m0 10v1m0 28v1m0 139v1m5-244v2m2 36v1m0 190v1m3-227v1m0 36v1m0 19v1m0 22v1m0 310v1m2-373v1m0 36v1m0 20v1m0 145v1m0 3v1m0 143v2m0 15v1m0 36v1m2-351v1m0 121v2m0 44v1m0 142v1m0 3v1m3-383v1m0 11v1m0 7v1m0 6v1m0 40v1m0 12v2m0 1v1m0 5v1m0 138v2m0 4v1m2-193v1m0 23v1m0 180v1m5-237v1m0 7v1m0 367v1m3-366v2m0 19v1m0 33v1m0 141v1m0 2v1m0 161v1m4-361v1m0 48v1m0 104v2m0 40v1m0 14v1m0 2v1m0 146v1m3-348v1m0 2v1m0 118v2m0 46v2m0 31v1m5-224v1m0 73v1m0 148v1m0 168v2m2-368v1m0 179v2m0 1v1m0 6v2m0 5v1m0 177v1m3-406v1m0 29v1m0 29v1m0 159v2m0 155v1m2-380v2m0 33v1m0 27v1m0 8v1m0 145v1m0 161v1m2-345v1m0 177v2m0 17v1m0 138v1m3-354v1m0 2v2m0 6v2m0 6v1m0 21v1m0 9v1m0 147v2m0 131v1m0 10v1m0 8v1m0 12v2m2-368v2m0 8v2m0 13v1m0 332v1m5-311v2m0 4v1m0 130v1m0 28v1m0 153v1m0 26v1m2-198v1m0 155v1m0 11v2m5-317v1m0 8v1m0 317v2m0 10v2m3-353v1m0 316v2m5-328v1m0 169v1m0 5v1m2-166v1m0 151v2m0 8v1m5-157v1m0 147v1m2-162v2m0 156v1m0 24v1m3-14v1m2-17v1m0 177v1m0 19v1m5-364v1m0 182v1m0 1v1m2-184v1m8-1v2m0 337v1m5-162v1m0 160v1m0 13v1m2-335v1m0 297v2m5-113v1m0 135v1m2 13v1m0 1v1m5-355v1m0 333v1m7-335v1m0 17v1m0 169v1m0 135v1m8-299v1m12-5v1m2 319v1m5-11v1m0 31v1m7-33v1m0 3v1m8-152v1m0 169v1m4-18v1m0 8v1m0 2v1m0 1v1m0 5v1m3-178v2m0 8v1m0 173v1m5-23v1m2-168v1m0 181v1m5-180v1m0 158v1m2-4v1m3-147v1m2-151v1m0 315v1m0 3v1m0 6v1m5-341v1m2 305v1m0 2v1m5-149v1m8 168v1m2-337v1m0 16v2m0 4v1m5 134v1m2-131v1m0 134v2m0 5v1m0 15v1m0 125v1m5-325v1m0 51v1m7 274v1m8-323v1m0 5v1m0 8v1m0 302v1m0 9v1m5-151v2m0 7v1m0 143v1m2-162v1m0 19v1m0 2v1m0 2v1m0 143v2m0 6v1m5-174v1m2-185v1m0 188v2m5-18v1m7-171v1m0 343v2m5-338v1m0 328v1m0 6v2m3-347v1m0 177v1m4-169v1m0 11v1m0 331v1m3-168v1m0 155v1m5-346v1m0 18v1m0 337v1m2-334v1m5 318v1m2-176v1m0 187v1m0 2v1m5-345v2m0 143v1m0 186v1m5-326v1m0 137v2m0 174v1m3-178v1m0 169v1m0 8v1m0 9v1m7 11v1m5-343v1m0 142v1m7-151v2m0 150v1m0 23v1m0 155v1m0 1v1m2-159v1m0 158v1m5-164v1m0 167v1m3-359v2m0 190v1m0 152v1m0 1v2m0 1v1m4-351v2m0 6v2m0 347v1m8-178v1m0 14v1m0 1v1m0 2v1m5-187v1m0 343v1m2-178v1m0 13v1m15 4v1m7-174v1m0 162v1m5 168v1m5-346v1m0 21v1m2 329v2m5-179v1m0 6v1m0 11v1m2-20v1m7 22v1m0 146v1m5-164v1m0 9v2m0 175v1m3-358v1m0 169v1m0 1v1m0 150v1m5-325v1m0 162v1m0 191v1m4-359v1m0 190v1m3 125v1m5-314v1m0 154v1m0 15v1m0 167v1m2-343v1m0 21v1m0 150v1m0 157v2m5-168v1m0 162v1m2-329v1m0 172v1m5-27v1m0 5v1m0 2v1m0 7v1m3 170v1m5-333v1m0 162v1m2-153v1m0 149v1m5-161v1m0 9v1m0 176v1m5-176v1m0 150v1m0 170v1m0 11v1m7-174v1m0 186v1m2-195v1m5 4v1m3-172v1m4-3v2m0 169v1m0 2v1m8-175v1m0 168v1m0 165v1m5 2v2m7-339v1m0 2v1m2-5v1m0 338v1m5-179v1m0 1v1m3 167v1m0 8v1m12-330v1m0 330v1m7-350v1m0 337v1m5-338v1m0 167v1m2 9v1m0 154v1m12-318v1m0 152v1m0 163v1m3-164v1m5-163v1m0 8v1m2-11v1m5 160v1m0 167v1m7-167v1m0 161v1m7-325v1m8 161v1m0 158v1m12-152v1"/>
<path stroke="#00bfff" stroke-width="1" transform="translate(.5)" d="M199 592v1m33 5v1m18-331v1m0 163v1m0 165v1m1-167v1m1-2v1m3-164v1m3 1v1m1 157v1m3 169v1m3-168v1m14-164v1m0 315v2m0 22v2m0 3v1m1-344v1m0 336v1m1-338v1m3 323v1m2-326v1m0 339v1m3-17v1m3-323v1m1-3v1m0 315v1m0 19v1m6-171v2m0 170v1m0 1v1m1-21v1m0 18v1m6-30v1m0 34v2m1-32v1m0 4v1m0 19v1m0 3v1m1-410v1m0 230v1m5-160v1m0 310v1m0 26v1m0 4v1m1-42v2m0 8v1m4-391v1m0 68v1m1 167v1m1-161v3m0 305v1m0 21v1m0 8v1m1-186v1m0 161v1m0 12v1m0 3v1m1-180v1m4 163v1m0 1v1m1-332v3m0 10v1m0 1v2m0 149v1m0 2v1m0 149v2m0 28v1m1-417v1m0 391v1m0 18v2m1-413v1m4 397v1m1-340v1m0 1v1m0 1v1m0 24v1m0 303v1m0 2v1m0 13v2m0 1v1m1-17v1m0 11v1m5-353v2m0 27v1m0 3v1m0 297v1m0 6v1m0 1v1m0 11v1m1-16v2m0 12v1m0 3v1m6-348v1m0 323v1m0 2v1m0 21v1m0 3v1m1-410v1m0 383v1m0 19v1m1-405v1m3-3v1m1 0v1m0 390v1m1-345v1m0 1v1m0 25v2m0 1v1m0 315v1m5-401v2m0 33v2m0 11v1m0 11v1m0 1v2m0 169v1m1-267v1m0 24v1m0 5v1m0 6v1m0 29v1m0 306v2m0 56v1m1-335v1m0 163v1m3-258v1m0 30v1m0 5v1m0 32v1m0 7v1m0 181v1m3-234v1m0 4v1m0 47v1m0 137v1m1-121v1m0 6v1m3-47v1m0 3v1m0 25v2m0 131v2m3-126v1m1-101v1m0 20v1m0 41v2m0 6v2m0 6v1m0 155v1m1-185v1m0 170v1m17-198v1m0 33v1m0 22v1m0 162v1m0 16v1m0 134v1m1-357v2m0 4v1m0 19v1m0 8v1m0 319v1m0 30v1m1-331v1m0 4v2m3-67v1m0 4v1m0 13v1m0 41v1m0 4v1m0 113v2m0 32v1m0 142v1m0 35v1m3-370v1m0 168v1m0 17v2m4-192v1m0 114v2m0 60v1m0 16v1m0 141v1m3-311v1m0 108v1m0 38v1m0 6v1m2-215v1m0 17v2m0 40v1m0 7v2m0 118v2m0 3v1m0 18v1m17-209v1m0 30v1m0 21v1m0 7v1m0 6v1m0 285v2m0 14v1m0 3v1m0 16v1m1-379v1m0 20v2m0 18v1m0 8v3m0 325v1m6-175v1m0 166v2m0 2v2m1-386v1m0 7v1m0 6v1m0 181v1m0 15v1m0 153v1m0 16v2m1-320v1m3-41v2m0 26v1m0 147v2m3 15v1m1 151v1m1-326v2m0 161v1m5-158v1m0 341v1m1-325v1m1-29v2m0 2v3m0 156v1m0 168v1m0 9v2m0 9v1m5-22v1m5-320v1m0 181v1m0 148v2m0 23v1m2-38v2m5-325v1m0 13v1m0 333v1m1-352v1m0 357v2m1-342v1m0 315v1m0 23v1m0 4v1m1-356v1m0 319v1m0 10v1m1-332v1m0 319v1m1-342v1m0 352v2m3-344v2m0 332v1m1-333v1m0 332v1m0 25v1m0 3v2m1-370v1m0 330v1m0 15v1m0 11v1m0 2v1m5-369v1m0 4v1m1 340v1m1-348v1m0 188v2m5 155v2m0 19v1m0 3v1m0 3v1m1-354v2m0 342v1m0 2v1m1-348v2m0 342v1m3-366v1m0 1v1m0 19v1m0 320v1m0 2v1m1-345v1m0 338v1m1-322v2m0 346v2m1-343v1m0 312v1m0 23v1m1-338v1m0 312v1m3-13v1m0 3v1m0 5v1m0 4v2m0 10v1m1-333v2m0 3v1m1-10v1m0 161v2m0 162v1m0 3v1m0 19v2m0 3v2m1-359v1m0 313v2m0 9v1m0 7v1m1-334v1m0 313v2m0 9v1m4-320v2m0 307v1m0 9v3m1-161v1m0 162v1m0 19v2m0 1v1m0 3v2m1-30v1m0 1v1m0 17v1m2-16v2m3-23v1m1 20v3m0 9v1m1-170v1m0 159v1m7-8v2m5-157v1m1 154v2m1-2v2m0 2v1m5-162v1m0 147v2m0 6v1m0 28v1m0 4v3m3-38v1m0 15v2m3-176v2m0 152v1m0 17v1m4-172v1m0 146v1m0 29v1m5-9v1m5-22v1m2 2v1m0 11v2m5-163v1m0 152v1m6 15v1m1-14v1m0 3v1m5-21v1m0 23v1m1 12v1m4-340v1m0 170v2m3-177v1m0 174v2m0 142v1m0 18v1m1-318v1m0 7v1m0 137v1m0 2v1m1-187v1m0 335v1m0 11v1m5-298v1m0 281v1m0 20v1m1-318v1m0 6v1m0 297v1m1-337v1m0 171v1m0 12v2m0 126v1m0 6v1m0 2v1m0 6v1m5-337v1m0 174v1m1-146v1m0 12v1m0 1v2m0 127v1m0 169v1m0 13v1m1-310v1m0 148v1m0 137v1m0 20v1m3-349v2m0 40v1m1-31v2m0 178v1m0 2v1m0 130v1m1-318v1m1-6v1m0 25v2m0 134v1m1-163v1m0 25v2m0 134v1m0 178v1m3-180v1m0 13v2m0 143v1m0 1v1m1-333v1m0 32v2m0 142v2m1-163v1m0 12v1m1-23v2m0 155v1m0 162v1m1-321v2m0 155v1m0 162v1m0 25v1m1-356v1m0 11v1m0 194v1m3 2v1m0 2v1m1-46v1m0 167v1m0 1v1m0 15v1m1-172v2m0 6v1m0 18v1m0 9v1m5-212v2m0 3v1m0 321v1m0 10v1m1-179v1m1-161v2m0 334v2m5-158v1m0 3v2m1-24v1m1-154v1m0 162v2m5-187v1m2 22v2m3 152v1m0 163v1m1-11v2m0 9v1m1-331v1m0 337v1m3-335v1m0 318v1m3 24v1m4-15v1m3-175v1m0 173v1m1-167v2m0 169v1m1-343v2m0 334v1m5 1v2m1-346v1m0 6v1m1 12v1m5 303v1m0 10v1m5-324v1m1 169v1m4-172v1m0 9v1m0 145v1m0 158v1m3-313v1m0 4v1m2-16v1m0 158v1m0 19v1m1-180v1m0 158v1m0 19v1m1-2v2m4-170v1m1 6v1m0 316v2m5-339v1m0 6v2m0 154v1m1 4v1m1-143v1m0 155v1m5-172v2m0 146v1m0 20v1m1-172v1m0 2v2m1 313v1m3-168v1m0 19v1m4-154v1m0 152v1m0 146v1m3-332v1m0 187v1m1-186v2m1 340v1m0 2v1m6-333v1m1 14v1m0 153v1m1-2v1m5 3v1m1-175v1m0 23v2m1 141v1m0 4v1m7-164v1m0 6v1m3 325v1m3-344v1m0 3v1m0 20v2m1-7v1m0 147v1m3-160v1m0 6v1m0 329v1m3-351v1m0 2v1m0 346v1m1-353v1m0 13v1m4-21v2m1 13v2m0 170v1m0 170v1m0 3v1m6-343v1m0 6v1m1-11v1m0 3v1m0 164v1m1 164v1m5-171v1m0 173v1m1-341v1m0 168v1m1-167v1m0 10v1m0 150v1m0 181v1m5-346v1m0 324v2m0 11v1m1-339v1m0 167v1m1-168v1m0 9v1m3-14v1m0 15v1m0 172v1m3-190v1m0 19v2m0 2v1m1-26v1m0 6v1m0 157v1m1-160v1m0 173v1m0 163v1m0 12v1m3-354v1m0 318v1m0 34v2m1-355v1m0 10v1m0 2v1m0 311v1m3 27v1m3-339v1m0 153v1m1-162v1m0 1v1m1-15v1m6 3v1m0 318v1m1-150v1m0 162v1m5-174v1m1-163v1m1-2v2m0 161v1m0 8v1m0 160v1m6-322v1m0 1v1m1-3v1m1-10v1m5 10v2m0 153v1m1-6v2m1-155v1m0 321v1m3-333v1m0 161v1m0 19v1m0 1v1m0 2v1m0 145v1m2-164v1m0 24v1m0 1v1m5-32v1m0 5v1m0 181v1m0 2v1m1-366v2m0 28v1m0 175v1m1-198v2m0 163v1m0 192v1m5-350v1m0 150v1m0 3v1m1 22v1m0 1v1m1-29v1m0 2v1m3-154v1m0 160v1m0 157v1m3-337v2m0 22v1m0 2v1m1 139v1m0 7v1m6-172v1m1 326v1m1-157v1m3-168v1m0 165v2m0 165v1m1-335v2m0 334v1m0 4v2m1-175v1m0 156v1m0 11v1m5-184v2m0 2v1m0 1v1m1-150v1m0 3v1m0 148v2m8-166v1m6 6v1m1-11v1m0 174v1m0 162v1m3-331v1m0 331v1m3-342v1m0 9v1m0 156v1m1 4v1m6-163v2m0 311v1m0 5v1m0 13v1m0 2v2m1-334v1m0 313v1m0 1v1m0 11v1m1-329v1m0 317v1m3-169v1m1-154v1m0 311v1m1-332v1m0 171v1m0 162v1m0 17v1m6-333v1m0 331v1m1-168v1m5-195v1m0 1v1m0 345v1m1-332v1m0 12v1m0 290v1m0 11v1m0 3v1m0 3v1m0 26v1m0 5v1m1-36v1m0 2v1m3-314v1m3-13v1m0 323v1m0 32v1m1-195v1m0 158v1m0 2v1m0 19v2m0 4v1m1-351v1m0 8v1m5-10v1m0 5v1m0 160v1m0 135v1m0 9v2m1-308v1m0 152v1m0 9v1m0 171v1m0 8v1m0 4v1m1-26v1m5-331v1m0 327v1m0 11v1m1-181v1m0 178v1m1-180v1m4-164v1m0 13v1m1-12v1m0 327v1m0 7v1m5-169v1m1-158v3m0 153v1m1-166v1m0 7v1m0 322v1m6-336v1m1 159v1m1 2v1m0 6v1m5-174v1m1 6v1"/>
<path stroke="#00bfff" stroke-width="2" d="M201 598v1m14-170v1m29 2v1m5-160v1m0 322v1m0 1v1m8-1v1m4-172v1m0 5v1m13-6v1m17 172v1m7-173v1m7-1v1m12 163v1m15-338v1m12 335v1m2-368v2m5-32v1m0 233v1m5-229v1m0 52v2m2-60v1m0 403v1m5-420v1m0 7v1m0 15v1m0 56v2m0 298v1m3-393v1m0 32v1m0 353v1m4-335v1m0 44v1m0 127v1m0 34v1m0 106v2m3-356v2m0 3v1m0 14v1m0 19v1m0 15v2m0 156v3m0 11v1m0 184v1m5-370v1m0 18v1m0 5v1m0 10v1m0 127v2m0 6v1m0 165v1m2-395v2m0 4v2m0 26v1m0 33v4m0 24v1m0 129v1m0 8v1m3-205v2m0 6v1m0 19v1m0 18v1m0 1v1m0 127v2m2-174v1m0 161v2m0 25v1m0 3v1m0 8v1m0 139v2m0 42v1m2-397v2m0 12v2m0 4v2m0 12v1m0 30v1m0 2v1m0 282v1m3-370v1m0 19v1m0 8v1m0 22v1m0 31v1m0 135v1m0 11v1m0 2v1m0 120v2m2-346v1m0 62v1m0 114v2m5-172v1m0 41v2m0 128v2m0 46v1m3-213v1m0 1v2m0 28v2m0 163v1m0 12v1m0 2v1m4-215v1m0 22v1m0 135v2m0 38v1m0 9v1m0 4v2m0 143v1m3-346v1m0 10v2m0 6v2m0 16v1m0 7v1m0 135v1m0 16v1m0 2v1m0 3v1m0 137v1m5-376v1m0 38v1m0 3v1m0 12v1m0 17v1m0 135v1m0 22v1m0 1v1m0 143v1m0 28v1m2-374v1m0 315v1m0 56v1m0 2v1m3-412v1m0 7v1m0 47v1m0 12v1m0 91v1m0 22v1m0 36v1m0 18v1m2-178v1m0 3v1m0 109v2m0 32v1m0 26v1m0 147v1m0 28v1m2-391v2m0 7v1m0 7v1m0 193v1m0 141v1m0 37v1m3-373v1m0 314v1m0 25v1m0 30v1m2-388v2m0 351v1m5-372v1m0 405v1m2-396v1m0 8v2m0 5v3m5 9v1m0 14v2m0 6v1m0 152v1m3-192v2m0 24v1m5 156v1m0 15v2m0 159v2m0 14v1m2-349v1m0 151v1m0 9v1m0 171v2m5-189v1m5-156v2m0 4v2m0 158v2m2-148v1m0 314v1m0 6v2m5-349v1m0 353v1m0 3v1m0 3v1m2-22v1m0 13v2m8-350v2m5-10v1m0 28v1m0 314v1m7-344v1m0 20v1m2 333v1m5-13v1m7-343v1m0 181v1m0 157v1m8-315v1m0 335v1m7-339v2m0 161v1m0 130v1m0 25v1m5-327v1m2-1v1m0 327v1m5-165v2m0 166v2m0 12v1m2-344v1m5 0v1m0 340v1m12-192v1m0 177v1m0 1v1m8-17v1m0 11v2m0 7v1m0 1v1m2-172v1m0 164v1m5-173v1m0 151v1m0 14v2m2-13v1m0 2v1m5 25v1m5-333v2m2 5v1m0 295v1m5-298v1m0 303v2m3-318v1m0 4v1m0 4v4m0 1v1m0 146v1m0 13v2m0 140v1m5 17v2m2-332v2m0 165v1m5-19v1m0 10v2m0 150v1m2-309v2m0 11v1m0 153v2m0 143v2m5-324v1m0 31v1m0 127v1m0 149v1m0 24v1m7-337v1m0 22v2m0 285v1m0 10v2m8-335v1m0 165v1m0 32v1m0 118v1m0 9v2m5-145v1m0 27v1m2-44v1m0 20v1m5-203v1m0 183v1m2-179v1m5 168v1m0 166v1m2-167v1m5-172v1m0 14v2m0 339v2m5-354v1m3 6v2m0 326v1m4 11v1m3-353v1m0 342v1m5-338v1m0 21v1m0 328v1m2-345v1m5 324v1m0 2v1m2-164v1m0 169v1m5-329v1m0 165v1m5-176v1m0 147v1m0 188v2m3-325v1m0 2v1m0 133v1m0 164v1m0 9v1m0 6v1m7-337v2m0 8v1m0 324v1m0 12v1m5-339v1m0 6v1m0 133v1m0 178v1m2 4v1m5-319v1m0 135v1m0 2v1m2-165v1m0 341v1m5-162v1m3-184v2m0 168v2m4 176v1m5-166v1m3 2v1m7-10v1m5-159v1m0 10v1m0 150v1m2 5v1m5-2v1m7-159v1m0 323v1m3-166v1m5-2v1m5-9v1m0 171v1m2-168v1m0 169v1m7-166v1m0 179v1m5-354v1m0 342v2m2-345v1m0 171v1m0 4v1m5-14v1m0 175v1m3-337v1m0 160v1m5-153v1m4 2v1m0 159v1m0 181v1m8-210v2m0 4v1m0 1v1m0 7v1m0 175v1m2-189v1m0 4v1m0 161v1m0 6v1m5-328v1m0 16v1m0 155v1m0 1v1m7-21v1m3-142v1m5 152v1m2-153v1m0 129v2m0 188v2m5-161v1m0 13v1m0 1v1m5-25v1m2-2v1m0 182v1m5-337v1m0 1v1m0 158v1m2-162v1m5 154v1m3-165v1m0 326v1m0 8v1m4-11v1m3-327v1m5-1v1m0 8v1m5 324v1m2-334v1m0 158v1m0 173v1m5-324v1m0 145v1m0 1v1m2-152v1m5-11v1m7 335v1m3-166v1m0 156v1m5-343v1m0 174v1m2 8v1m0 156v1m5-330v1m5 171v1m7-171v1m0 327v1m2-166v1m0 162v1m0 1v1m5-1v1m8 11v1m2-332v1m0 3v1m0 148v1m0 9v1m5-162v1m0 160v1m2-12v1m5 167v1m5-320v1m2-9v1m5 0v1m0 156v1m0 14v1m0 150v1m8 7v1m2-335v1m0 160v1m0 169v1m5-14v1"/>
<path stroke="#00dfff" stroke-width="1" transform="translate(.5)" d="M250 595v1m1 1v1m1-169v1m6 168v1m1-170v2m3 165v2m3-325v1m1 318v1m6-318v1m7 303v1m0 3v1m0 5v1m0 14v1m0 2v1m1-175v1m0 156v2m0 11v1m1-171v1m3-165v1m1 0v1m1 319v2m0 11v1m1-339v1m0 336v1m1-338v1m4 168v1m1-168v1m0 162v1m0 158v2m0 13v1m1-14v1m0 11v1m5-175v1m0 159v1m0 14v1m0 3v1m1-343v1m0 323v2m1-319v1m5 310v1m0 19v1m0 3v2m0 3v1m1-31v1m0 1v1m0 21v1m6-344v3m0 6v1m0 1v1m0 339v1m1-33v3m0 23v1m0 3v1m6-348v2m0 309v1m0 6v2m0 22v1m0 6v1m1-349v1m0 321v2m0 16v1m0 1v1m1-343v1m5 8v1m0 308v1m0 3v2m1-393v1m0 392v2m0 13v2m1-410v1m0 392v1m5-335v1m0 332v1m0 17v1m1-18v1m5-336v2m0 331v1m1 17v1m1-335v1m5 310v1m0 4v1m1 0v1m0 17v1m1-16v1m0 8v1m3-401v1m1 67v1m1-19v1m0 2v1m0 22v1m5-54v2m0 17v2m0 11v1m1-67v1m0 10v1m4-9v2m0 52v1m3-69v1m0 21v1m0 47v1m0 343v1m4-364v3m0 1v1m3 360v1m1-393v1m0 21v1m0 3v1m0 143v2m0 55v1m0 130v1m0 31v1m1-395v2m0 19v1m0 32v1m0 8v1m0 278v4m0 49v1m12-327v1m5-44v1m0 2v1m0 20v1m0 160v1m0 150v1m1-369v1m0 39v1m0 2v1m0 6v1m0 3v1m0 182v1m1-3v1m0 167v1m3-420v2m0 27v1m0 4v2m0 13v1m0 130v2m0 206v1m3-348v1m0 11v1m0 33v1m0 114v2m0 185v1m4-367v1m0 26v2m0 27v1m0 16v1m0 126v1m0 3v1m0 14v1m0 3v1m3-233v1m0 10v2m0 3v2m0 42v1m0 110v1m0 27v1m0 17v1m0 14v1m0 1v1m1 5v1m1-238v1m0 190v1m0 20v1m0 171v1m5 1v1m0 1v1m0 7v1m0 1v1m7-328v1m5-68v1m0 18v2m0 6v3m0 9v2m0 2v2m0 6v1m0 159v2m0 11v1m0 145v1m0 3v1m0 14v1m1-351v1m0 5v2m0 5v1m0 286v1m0 49v1m1-15v1m5-343v2m0 164v1m0 1v1m0 13v1m1-13v1m0 11v1m0 6v1m4-167v1m0 317v1m3-333v1m0 178v1m0 176v1m1-168v1m0 2v1m1 137v1m6-333v1m0 28v1m0 306v1m1-319v1m0 151v1m0 148v2m0 13v1m0 3v1m0 13v1m0 4v1m5-195v1m5-147v1m0 341v1m0 13v1m1-19v2m0 6v2m1-338v1m5-30v1m0 8v1m0 5v1m0 324v1m0 22v1m1-357v2m1 1v1m0 331v1m0 5v1m0 19v1m0 1v1m1-22v2m0 2v1m0 13v1m1-19v2m5 17v1m0 2v1m1-32v1m5-333v1m0 4v1m0 176v2m0 155v1m1-2v1m1-331v1m0 163v1m0 188v2m5-369v1m0 343v1m0 8v1m0 11v1m1-12v1m0 14v1m4-369v1m0 342v1m1-344v1m0 334v1m0 5v1m0 11v1m1-339v1m5 324v1m1-325v1m0 9v1m0 307v1m0 17v1m1-8v1m1-345v1m0 364v2m1-367v1m1 332v1m0 1v1m0 15v1m3-16v1m1 6v1m1 23v1m2-23v2m3-330v1m0 321v1m2 1v1m6-319v1m0 326v1m0 15v1m1-16v1m0 13v1m5-19v1m0 21v1m1-22v1m0 19v1m4-198v1m1-147v1m0 161v1m1 150v1m0 4v1m0 6v1m0 2v1m0 9v1m0 3v2m1-21v1m0 13v1m0 3v1m2-32v1m3-312v1m1 323v1m3-164v1m0 148v1m3 8v2m0 9v1m1-167v1m0 149v1m6-156v2m1 5v1m1-16v1m0 162v1m5-307v1m5 148v2m0 8v1m0 147v2m2-148v1m5 157v1m0 2v1m1-320v2m4 3v1m0 319v1m3-323v1m0 303v1m0 16v1m1-311v1m0 2v1m6-36v1m0 14v1m0 167v1m0 139v1m1-297v1m0 150v1m0 154v1m0 11v1m1-338v1m0 14v1m0 285v1m0 2v2m0 5v1m0 14v1m0 9v1m5-163v2m1-162v1m0 10v1m1 152v1m3-144v1m0 134v2m0 152v2m1-338v2m0 20v1m0 173v1m0 132v1m1-298v1m0 302v1m0 15v1m1-324v2m0 139v1m0 14v2m0 142v1m0 21v1m1-323v2m0 139v1m0 14v2m0 142v1m3-329v2m0 25v1m0 141v1m1-147v1m0 4v2m0 130v1m0 19v2m0 152v4m1-326v1m0 10v1m0 3v1m0 135v1m0 170v1m0 17v1m1-318v1m0 157v1m0 1v1m0 139v1m0 15v1m1-317v1m0 157v1m0 1v1m0 140v2m1-332v1m0 194v1m0 1v1m3 2v2m1 126v1m0 20v1m1-354v2m0 200v1m0 142v2m5-356v1m0 201v1m0 21v1m0 115v1m0 6v2m1-330v1m1 155v1m5-169v2m0 330v1m2-321v1m0 152v1m0 16v2m6 159v1m4-342v2m0 162v1m0 2v1m0 1v1m0 161v1m1 2v2m0 2v1m1-342v1m3-6v1m0 11v1m0 320v1m0 19v1m4-351v1m3 0v1m0 10v1m3 160v2m1 4v1m0 168v1m1-340v4m0 327v1m0 13v1m5-181v1m1 0v1m0 174v1m1-351v1m0 17v1m0 324v2m5-350v1m0 10v1m6 1v1m0 3v1m0 4v2m0 137v1m0 2v1m1 183v1m3-345v2m0 323v1m0 18v2m3-11v1m1-169v1m1-165v1m0 5v1m0 165v1m0 3v1m1-177v1m0 5v1m0 165v1m0 3v1m1 154v2m4-326v1m0 326v1m6-315v1m0 139v1m0 8v1m1-161v1m0 321v1m1-325v1m0 168v1m5-21v1m0 177v1m1-174v1m1-165v2m0 325v1m6-312v1m0 322v1m1-157v1m0 143v1m3-146v1m1-179v2m7 4v1m1 16v2m6-12v1m0 162v1m0 1v1m1-175v1m0 1v1m0 18v2m0 1v1m1-29v2m0 179v1m0 162v1m10-166v1m3-177v1m0 2v1m0 19v2m1-6v1m0 156v1m3-158v1m3-25v1m0 3v1m0 2v1m0 24v1m0 144v1m1 4v1m4-168v1m0 166v1m1-158v1m0 2v1m1 143v1m0 4v1m5-167v1m0 334v1m1-334v2m0 7v2m0 1v1m1-4v1m0 158v1m5-171v1m0 180v2m1-184v1m1 2v1m0 181v1m0 142v1m0 9v2m0 12v1m5-339v1m1 152v1m1-169v1m0 3v1m0 7v1m0 160v1m0 12v1m0 152v1m0 17v1m3-344v1m0 153v1m0 191v1m3-362v1m0 1v1m0 16v2m0 2v1m2 157v1m3-177v1m0 312v1m1-317v3m0 324v1m3 5v1m3-320v1m1-9v1m0 310v1m1-317v1m0 162v1m0 161v2m5-181v1m0 14v1m0 166v1m1-317v1m0 1v1m0 150v1m1-25v1m0 1v1m0 177v1m5 11v1m1-332v1m0 1v1m0 6v1m0 158v1m1-169v1m0 11v1m3 298v1m3-310v1m2 316v1m6-156v1m0 166v1m1-320v1m3 158v1m0 12v1m0 3v1m0 1v1m0 142v1m2-168v1m0 1v1m0 24v1m5-181v1m0 316v1m1-315v2m0 2v1m0 177v1m0 133v1m1-167v1m5 3v1m1-178v1m0 26v1m0 1v1m0 165v1m0 1v1m1-19v1m6-177v1m1 6v1m3-2v2m0 332v1m3-338v1m0 15v1m0 149v1m1 2v1m5-166v1m0 5v1m0 321v1m0 4v1m0 1v1m7-345v1m0 1v2m6 164v1m0 166v1m1-331v1m0 7v2m1 0v1m0 318v1m0 1v1m3-324v1m0 150v1m0 4v1m0 8v1m0 156v1m4-322v1m0 326v1m3-322v1m0 144v1m0 168v1m0 10v1m3-172v1m1-158v1m1-13v1m0 327v1m5-4v2m0 1v1m0 11v1m0 2v1m1-346v1m0 330v1m0 9v1m1-342v1m3-8v1m0 336v1m1-329v1m0 324v1m1 16v1m6-345v1m0 9v1m0 317v1m0 15v1m1-173v1m0 156v1m0 13v1m5-3v1m1-326v1m0 154v1m0 144v1m0 30v1m0 3v1m1-188v1m0 10v1m0 146v1m6-321v2m0 6v1m0 310v2m0 28v1m1-25v1m0 17v1m1-336v1m0 155v1m5-157v1m0 299v2m0 45v1m0 1v1m0 4v1m1-355v1m0 164v1m0 141v1m0 3v1m0 30v1m6-182v1m0 157v1m0 16v1m1-334v1m0 158v1m0 1v1m0 152v1m1-315v1m0 158v1m0 1v1m0 152v1m3-317v1m0 161v1m1-171v1m0 9v1m1 315v1m0 8v1m6-336v1m0 329v1m1-323v1m0 159v1m0 159v1m6-335v1m0 7v1m2 322v1m5-330v1m0 4v1m0 12v2m1-7v1m0 320v1m1-171v1"/>
<path stroke="#00dfff" stroke-width="2" d="M208 429v1m19-4v1m10 5v1m5 165v1m2-331v1m3 4v1m0 158v1m17 163v1m7-1v1m5-329v1m2 159v1m20 164v1m14-391v1m5 70v1m15-83v1m0 9v1m0 231v1m5-168v1m0 161v1m2-170v1m5 343v1m2-412v1m5 13v1m0 13v2m5-23v1m0 399v1m2-404v1m0 6v1m0 58v1m5-61v1m0 34v2m0 26v1m0 162v1m0 1v1m3-261v1m0 30v1m0 5v1m0 223v1m0 101v2m4-342v2m0 51v2m0 144v1m0 168v1m3-373v1m0 11v1m0 22v1m0 182v2m0 184v1m5-406v1m0 4v2m0 28v1m0 4v1m0 16v1m0 5v1m0 148v1m0 144v2m2-297v1m0 154v1m0 2v1m3-208v1m0 197v1m0 7v1m0 156v1m2-376v1m0 2v1m0 15v1m0 58v1m0 140v1m0 185v1m2-409v1m0 45v2m0 27v1m0 9v1m0 275v1m3-377v2m0 16v1m0 39v1m0 2v1m0 14v1m0 152v1m0 11v2m0 149v2m0 32v1m2-374v1m0 2v1m0 25v1m0 89v1m0 69v1m0 152v1m5-317v1m0 100v1m0 9v2m0 67v1m3-223v1m0 28v2m0 188v1m4-239v1m0 27v2m0 34v1m0 117v2m0 29v1m0 3v1m3-200v2m0 4v2m0 22v1m0 20v1m0 10v1m0 132v1m0 14v1m0 149v1m5-361v2m0 10v1m0 8v1m0 3v1m0 19v1m0 8v1m0 170v1m0 135v1m0 26v1m2-389v1m0 3v1m0 14v1m0 194v1m0 118v1m0 54v1m3-389v2m0 17v1m0 16v1m0 14v2m0 90v1m0 20v1m2-163v2m0 2v2m0 39v1m0 117v1m0 28v1m0 10v1m0 193v1m2-386v1m0 11v2m0 13v1m0 176v1m0 177v1m3-387v2m0 20v2m0 155v1m0 151v1m0 25v1m0 28v1m2-358v1m0 156v1m0 5v1m0 157v1m5-161v2m0 177v1m2-378v1m0 15v1m0 9v2m0 164v1m0 155v2m5-322v1m0 175v1m3-169v2m0 154v1m0 5v2m7-178v1m0 166v1m0 29v1m0 125v1m5-150v1m0 22v1m5 156v2m2-353v1m0 10v2m0 2v2m5-15v1m0 165v1m0 188v1m0 3v1m2-336v1m0 319v1m0 2v2m0 2v2m8-341v1m0 327v1m5-336v1m0 23v1m0 310v1m0 5v1m2-338v2m7-8v1m0 339v1m5-320v1m0 314v1m0 6v1m7-157v2m0 5v1m0 146v1m8 19v1m7-329v1m0 285v1m0 25v3m5-329v1m0 324v1m0 3v2m2-331v1m0 327v1m0 6v2m7-172v2m5-157v1m8-5v1m4 147v1m0 8v2m0 174v1m8-21v1m2 13v1m0 2v1m0 2v1m7-21v1m3-306v1m0 315v1m2-159v1m0 3v1m0 144v2m15-313v1m0 6v2m0 161v1m5-149v1m2-10v2m0 292v1m5-151v2m0 159v1m0 12v1m2-357v1m0 31v2m0 12v1m0 153v1m5-176v1m0 29v1m0 117v1m0 11v1m0 146v1m0 2v1m0 22v1m7-341v1m0 173v2m0 5v1m0 5v1m8-194v2m0 186v2m0 10v1m0 128v1m0 13v1m5-6v1m2-343v1m0 329v1m0 16v1m5-355v1m0 4v1m0 323v2m2-325v1m5 335v1m2-147v3m0 138v1m10-142v1m3 147v1m4 16v1m3-358v1m7 10v1m5 326v1m7-319v1m5-10v1m0 323v2m0 7v1m3-333v1m0 143v1m0 5v1m7 16v1m5 145v1m2-317v2m5 8v1m0 144v1m2-172v1m0 6v1m8 181v1m9-166v1m3-25v1m0 3v2m0 8v2m0 6v1m0 169v1m5-191v2m0 187v1m2-2v1m5-178v1m0 166v1m0 9v1m2-1v1m5-9v1m3-151v1m19-9v1m22-5v1m0 12v1m5 151v1m0 160v1m0 6v1m4-146v1m0 167v1m3-193v1m0 153v1m0 11v2m5-329v2m0 8v1m0 158v1m2-25v2m0 6v1m5-153v1m0 137v1m0 11v2m0 9v1m0 152v1m7-314v1m0 141v2m0 15v1m0 170v1m3-332v1m5 162v1m0 167v1m2-324v1m5 321v1m5-333v1m0 349v1m2-349v1m0 162v1m0 182v1m7-337v1m0 146v1m5 1v1m10 9v1m10 155v1m7-159v1m0 3v1m2 162v1m5-174v1m0 173v1m7-8v1m0 9v1m3-341v1m0 163v1m17-154v1m0 315v1m2-158v1m5-161v1m2-4v1m0 165v1m0 155v1m5-322v1m0 154v1m0 163v1m3-321v1m5 154v1m0 176v1m2-332v1m0 162v1m7-171v1m10 0v1m10-1v1m5 328v2m2-323v1m0 323v1m5-175v1m0 1v1m0 7v1m0 145v1"/>
<path stroke="#00ffff" stroke-width="1" transform="translate(.5)" d="M187 270v1m17 1v1m46 324v1m5-166v1m4-161v1m8 2v1m0 320v1m5-327v1m7 319v2m0 11v1m1-337v1m0 1v1m0 322v1m0 9v1m1-336v1m0 1v1m0 324v1m4-161v1m1 157v1m1 8v1m5-173v1m1-162v1m1 2v1m1-1v1m1 157v1m0 163v1m3-327v1m0 166v1m1 168v1m6-19v1m0 3v1m1-161v1m0 173v1m6-330v1m0 303v2m0 3v1m0 4v1m0 24v1m5-24v1m2-323v1m0 5v1m0 159v1m0 156v2m0 11v1m1-331v1m0 317v1m1-319v1m0 317v1m4-164v1m0 4v1m1-168v1m0 7v1m0 2v1m0 312v1m0 16v2m6-176v1m1-176v1m0 20v1m0 1v2m0 2v1m0 306v1m0 11v1m1-339v1m0 326v1m0 9v1m5-324v1m0 1v2m0 305v1m0 3v1m0 9v1m0 3v1m1-6v1m6 5v1m1-406v1m1-1v1m3 329v2m0 8v2m2-292v1m0 22v1m0 322v1m5-409v1m0 402v1m1-398v2m0 40v2m1 24v1m6-85v1m0 36v2m0 210v1m0 128v1m0 1v1m8-372v2m0 34v1m0 3v1m0 331v1m0 33v1m1-402v1m0 41v2m0 7v1m0 14v1m17-83v2m0 13v1m0 5v1m0 25v1m0 6v1m0 14v1m0 160v1m0 7v1m1-231v1m0 9v2m0 35v1m0 330v1m4-364v1m0 24v1m0 139v2m0 228v1m3-381v1m0 165v2m0 30v1m0 149v1m1-298v1m0 160v1m3-233v3m0 35v2m0 18v1m0 151v1m0 14v1m0 143v1m3-375v1m0 11v1m0 184v1m0 30v1m0 145v2m0 3v1m2-370v1m0 210v2m0 13v1m5-162v1m0 311v1m0 13v1m7-165v1m0 165v2m5-182v2m0 4v1m1-213v1m0 5v1m0 22v1m0 10v1m0 157v1m0 130v1m0 31v1m0 27v1m6-374v2m0 19v1m1-45v1m1 67v1m3-42v2m0 22v1m3 164v1m0 154v1m0 21v1m1-25v1m1-305v1m0 137v2m0 2v1m5-167v2m0 153v1m0 29v1m0 142v1m2-317v1m0 143v1m0 5v1m0 183v1m5-191v1m5 32v1m2-31v1m5-160v1m0 349v2m2-7v1m3-337v1m3 163v2m1 185v1m0 2v1m1-349v1m0 151v1m0 177v1m0 1v1m0 1v1m0 9v1m5-353v1m0 6v1m0 334v1m1-7v1m0 1v1m1-331v1m5 347v1m1-16v1m0 10v1m1-12v1m5 2v2m0 5v2m1-345v1m0 333v1m1-335v1m0 333v1m3-352v1m0 338v1m1-7v1m0 24v1m1-344v1m0 331v1m0 17v1m1-348v1m1-1v1m1 316v1m0 6v2m4-327v1m0 325v1m0 1v1m0 17v1m0 2v1m1-21v1m0 15v1m2-29v1m3 4v1m0 12v1m1-171v1m0 168v1m0 7v1m1-19v1m5 2v2m1-161v1m1 156v2m0 7v1m0 11v1m5-344v1m0 326v1m0 19v1m1-20v1m0 17v1m4-27v1m1 11v1m2-328v1m0 322v1m1-324v1m0 322v1m1-167v2m0 151v1m7 0v1m3 15v1m1-326v1m1-3v1m0 154v1m0 3v2m0 167v1m5 1v1m1-17v1m1-165v1m12 169v1m5 6v1m2-155v1m0 145v1m3-311v2m0 2v1m0 319v1m3-335v1m0 6v1m0 4v1m1 9v1m0 2v1m1-28v1m5 175v1m0 159v1m2-334v1m0 12v1m0 10v1m5-18v2m0 12v1m1-10v1m0 312v1m0 11v1m1-2v1m3-3v1m1-308v2m0 128v1m0 22v1m0 142v2m2-289v1m0 279v1m0 19v1m1-301v1m0 279v1m3-304v1m0 140v1m0 2v2m1-150v1m0 138v1m0 28v2m1-168v2m0 309v1m0 15v1m1-326v2m0 6v1m0 157v1m0 1v1m0 130v1m0 4v1m0 5v1m0 13v1m1-325v2m0 6v1m0 157v1m0 1v1m0 130v1m0 4v1m1-329v2m0 320v1m10-151v2m0 2v1m0 15v1m0 133v1m1-163v1m1-154v1m0 175v1m5 143v1m7 3v1m1-170v1m4-171v2m0 167v1m0 176v1m2-345v2m0 340v1m3-348v1m0 172v1m0 177v1m3-336v1m0 160v1m0 179v1m4-345v1m4 164v1m1-2v1m0 177v1m5-350v1m0 3v1m0 170v1m1-179v1m1 9v2m5-17v1m0 2v1m0 322v1m1-316v1m1 147v1m4-145v1m0 148v1m1 4v1m0 171v1m3-337v2m4 161v1m1-159v1m0 4v1m0 167v1m0 153v2m1-329v1m0 4v1m0 167v1m0 153v2m1-326v1m0 1v1m0 155v1m3-165v2m0 156v2m1-153v1m1 168v1m5-3v1m1-168v1m1 160v1m7 159v1m3 3v1m3-322v1m0 324v1m1-345v1m0 17v1m0 167v1m3-5v1m0 151v2m1-4v2m0 4v2m1-167v2m3-171v2m0 174v1m4-153v1m0 146v1m1-170v2m0 21v1m6-15v1m0 19v1m1-32v2m0 175v1m6-159v1m1 4v1m3-11v1m3-2v2m0 10v1m0 2v2m0 321v1m1-175v1m0 170v1m3 3v1m3-320v1m0 1v1m1-40v2m0 17v1m0 1v1m1-2v1m3 7v1m1-12v1m0 168v1m1-185v2m0 16v1m0 8v1m0 158v1m5-168v1m0 168v1m0 162v1m1-327v1m0 156v1m7-168v2m0 10v2m1 150v1m0 18v1m0 144v1m5-159v1m0 168v1m1-338v3m1 178v1m3-183v1m0 180v1m4 148v1m0 2v1m1 20v1m3-40v1m1-314v1m0 8v1m0 156v1m3 161v1m3-320v1m0 4v1m0 153v1m1-7v1m1-154v1m5 131v1m1-132v1m0 156v1m1 1v1m5-172v1m0 162v1m1-152v2m0 300v1m1-303v1m0 150v2m0 5v1m6-162v2m1-1v1m0 135v2m0 169v1m1-315v1m0 6v1m0 159v1m0 161v1m5-330v1m0 8v1m0 156v1m5-7v1m0 2v1m0 19v1m0 1v1m0 1v1m0 3v1m2-195v1m5 169v1m0 29v1m0 134v1m1-342v1m0 1v1m0 2v1m0 334v1m1-332v1m0 167v1m5-6v2m0 21v1m1-168v1m1-11v1m0 148v1m0 1v1m3 2v1m3-168v2m1 4v1m0 157v1m0 9v1m0 155v1m3-319v1m0 152v1m0 171v1m3-336v1m0 1v3m0 5v1m0 2v2m0 1v1m0 149v1m1-4v1m0 8v1m1-162v1m4 151v1m0 168v1m1-165v1m5-7v1m1-163v1m0 2v1m0 7v1m0 3v1m0 318v1m1-325v2m0 315v1m0 8v1m7-326v1m0 160v1m3-17v1m0 179v1m3-330v1m1-1v1m0 2v1m0 318v1m3-331v1m0 161v1m0 175v1m3-340v1m0 334v1m1-174v1m1-151v1m0 157v1m0 160v1m5-325v1m5-17v1m0 172v2m0 4v1m0 2v1m0 153v1m1-326v1m0 4v1m0 159v1m0 159v1m0 15v2m1-181v1m0 177v1m5-178v1m0 163v1m1-330v1m0 10v1m7 0v1m0 1v1m0 306v2m0 2v1m1-314v1m0 313v1m0 17v2m3-181v1m3-158v1m0 161v1m0 151v1m0 2v1m0 19v2m0 4v1m1-339v1m0 150v1m6 1v2m0 1v1m0 150v1m0 22v1m0 8v1m0 4v1m1-356v1m0 318v1m0 20v1m0 7v1m1-343v1m0 317v1m0 13v1m5-10v1m0 9v1m1-15v1m0 12v1m1-14v1m3-319v1m0 153v1m1-163v1m1 158v1m5 4v1m1-155v2m0 320v1m1-323v1m6-11v1m0 14v1m0 149v1m1-165v1m1 2v1m0 158v1m0 166v1m5-332v2m0 13v1m1 320v1m1-5v1"/>
<path stroke="#00ffff" stroke-width="2" d="M213 429v1m22 2v1m5-163v1m17 326v1m14-1v1m7-326v1m54-80v1m0 7v1m0 55v1m5-64v1m0 399v1m2-334v1m5-2v2m12-2v2m2-9v2m5-53v1m0 1v1m0 356v1m3-366v2m0 44v2m0 350v1m4-388v1m0 389v1m3-407v1m0 2v2m0 16v2m0 48v2m0 137v1m5-218v2m0 13v1m0 25v1m0 4v1m0 20v1m0 312v1m2-329v1m0 13v1m0 344v1m0 1v1m3-412v2m0 6v2m0 38v1m0 159v2m0 5v1m0 28v1m0 105v1m2-354v1m2 2v1m0 60v1m0 12v1m0 89v2m3-121v1m0 19v1m0 344v1m2-385v2m0 15v1m0 115v1m0 56v1m0 12v2m0 147v2m0 32v1m5-349v1m0 102v1m0 74v1m0 133v1m0 5v1m0 28v1m3-335v1m0 156v1m0 176v1m0 1v1m4-369v1m3-36v2m0 41v1m0 6v2m0 164v2m0 151v1m5-340v1m0 7v1m0 9v1m0 2v1m0 4v1m2-44v1m0 3v1m0 11v1m0 10v2m0 24v2m0 327v1m3-331v1m0 149v1m0 16v1m0 180v1m2-418v1m0 53v2m0 12v2m0 110v1m0 28v1m0 1v1m0 10v1m0 11v1m2-179v1m0 175v1m0 159v2m3-10v2m0 19v1m2-384v2m0 30v1m0 164v1m0 157v1m0 8v1m0 14v1m0 15v1m5-409v1m0 12v2m0 29v3m0 338v1m2-381v2m0 195v1m5-2v1m3-173v2m0 166v1m0 4v1m0 167v1m5-328v1m0 3v2m0 156v1m0 165v1m2-340v1m0 39v1m0 160v1m0 119v1m7-155v1m0 189v2m5 9v1m5-2v1m10-182v1m0 163v1m5-341v1m0 13v1m2 334v2m7-13v1m0 2v1m5-346v1m0 14v1m0 322v1m7-318v2m0 170v2m8 146v1m0 19v1m12-21v1m0 4v1m26-154v1m3-5v1m0 149v1m0 7v4m5-13v1m0 18v1m0 1v1m2-331v1m0 321v2m0 2v1m5-3v2m2-15v1m3 15v1m2-26v1m0 5v1m12-303v1m0 168v1m3-6v1m5-173v1m0 321v1m2-12v1m0 12v1m5-318v1m0 306v1m2-336v1m0 182v2m5-132v1m0 278v1m0 12v2m0 1v1m7-300v2m0 134v1m0 11v1m0 3v3m8-33v1m0 15v2m0 21v1m0 6v1m0 135v1m5-171v1m2-176v1m0 215v1m0 113v1m0 14v1m5-348v1m2 2v2m0 332v1m5 9v2m2-342v1m0 181v1m0 142v1m5 20v1m5-165v1m3-173v2m0 162v2m4 173v1m0 1v1m3-1v1m5-9v1m0 2v1m9-13v2m10-333v1m0 314v1m0 1v1m3-161v1m7-152v1m5-1v1m0 148v1m0 6v1m0 7v1m0 143v1m0 6v2m2-178v1m5-138v1m2-2v1m0 144v1m0 5v1m0 167v1m12-155v1m0 152v2m5-156v1m0 161v1m3-352v1m5 22v1m0 7v1m0 157v1m2-193v1m5 13v1m7 20v1m7 152v1m3-183v2m5 352v1m5-167v1m0 162v1m9-325v1m0 154v1m0 179v2m0 1v1m7-348v1m0 174v1m0 168v2m5-335v1m0 318v2m0 21v1m3-191v1m5 161v1m4-329v1m8 12v1m0 152v1m0 164v2m2-312v1m0 129v1m0 2v1m5-149v1m7 6v1m0 6v1m0 133v1m3 13v1m5-165v1m7 8v1m0 175v1m0 4v1m5-180v1m0 333v1m0 2v1m2-190v1m5 1v1m2 8v1m8-169v1m4-3v1m0 9v1m0 150v1m0 9v1m3-170v1m0 322v1m5-324v1m7 159v1m0 167v1m5-331v1m7 10v1m0 148v1m3 176v1m7-330v1m0 160v1m0 158v1m7-330v1m0 159v1m5-172v1m0 172v1m7-170v1m0 170v1m0 162v1m0 2v1m5-158v1m0 155v1m2-166v1m0 165v1m5-318v1m0 315v1m10-329v1m0 161v1m0 175v1m12-169v1m12 150v1m0 12v1m3-326v1m0 324v1m5-326v1m0 322v1m2-332v1m5 166v1"/>
<path stroke="#20ffdf" stroke-width="1" transform="translate(.5)" d="M182 270v1m0 1v1m2-1v1m3-1v1m4-3v1m13-1v1m7-1v1m0 1v1m7-1v1m0 157v1m6-4v1m1 3v1m3-162v1m0 1v1m3 154v1m1-156v1m20 157v1m3-159v1m3 1v1m0 322v1m4-327v1m4 160v1m1 164v1m5-1v1m8-330v1m0 160v1m1-162v1m0 160v1m3 3v1m2 159v1m0 7v2m6-337v1m1 324v1m0 11v1m1-175v1m0 162v1m0 9v1m1-174v1m1 4v1m3 155v2m1 0v1m0 9v1m6-169v1m0 148v1m0 23v1m1-18v3m0 9v1m1-400v1m5 226v1m0 153v2m0 23v1m1-21v2m0 15v3m6-336v1m0 315v2m0 16v1m0 1v1m1-8v1m1-1v1m5-329v1m0 317v1m0 13v2m1-15v1m0 11v1m2-15v1m4-331v2m0 16v1m0 1v1m0 309v1m1-163v1m5-150v1m0 326v1m7-345v1m0 326v1m0 17v1m1-18v1m0 15v1m1-14v1m4-394v1m1 55v2m0 340v1m5-407v1m1 49v1m4-56v1m0 55v2m3-65v1m0 88v1m0 119v1m0 170v1m1 33v1m3-414v1m0 212v1m4-203v1m0 44v2m0 4v2m0 148v2m0 3v1m0 164v1m1-380v1m0 11v1m0 48v1m17-47v1m0 17v2m0 40v2m0 136v1m0 5v1m0 158v1m1-386v2m0 15v1m0 10v1m0 25v2m0 8v2m0 11v1m0 150v1m0 157v1m4-336v1m0 14v4m0 7v1m0 161v1m3-210v2m0 4v2m0 48v1m0 137v1m0 22v1m4-232v2m0 28v1m0 42v1m0 138v1m0 2v1m0 12v1m3-221v1m0 44v1m0 170v3m0 4v1m0 147v1m0 6v2m0 13v1m1-165v1m1-9v1m0 2v1m0 151v1m5-307v1m0 159v2m7 153v1m0 3v1m0 1v1m5-349v1m0 175v1m0 144v1m1-350v1m0 37v1m0 153v3m0 186v1m1-331v2m0 163v1m0 142v1m0 1v2m5-369v1m0 34v1m0 152v1m0 1v1m1-2v1m0 2v1m0 13v1m0 2v1m1 150v1m3-358v1m3 33v2m0 150v1m2 189v2m5-349v1m0 167v1m2-176v1m0 338v1m0 18v2m5-195v1m5-149v1m0 11v1m0 165v1m0 165v1m1-167v1m0 143v1m0 15v1m1-325v1m5-23v1m0 159v1m0 178v1m1 9v2m1-6v1m0 13v1m1-369v1m0 10v1m0 343v1m0 11v1m1-368v1m0 10v1m1 4v1m0 162v2m3 159v1m1-165v1m0 171v1m1-334v1m0 2v2m0 2v1m0 162v2m0 2v2m0 157v1m0 5v1m5-345v2m0 332v1m0 11v1m1-3v1m0 15v2m1-17v1m0 13v1m5-13v1m0 9v1m0 4v1m1-15v1m0 7v1m4-1v1m1-342v1m0 324v1m0 15v1m1-16v1m1-324v2m1-2v2m3-12v1m0 338v1m2-4v1m0 15v1m1-2v1m2-182v1m0 150v1m3-2v1m0 24v1m1-342v1m0 329v1m0 15v1m1-16v1m0 13v1m2-340v2m0 311v1m0 14v1m4 1v1m6-331v1m1 327v1m0 13v1m1-347v1m6 5v2m1-2v2m3 145v1m0 169v1m0 4v2m1-8v2m1 5v1m0 13v1m0 3v1m1-30v1m0 23v1m1-25v1m1 6v1m3-154v1m4-13v1m0 167v2m5-167v1m0 170v1m5 0v2m1-168v1m11-151v1m0 317v1m2-320v1m5-5v2m0 146v2m1-151v1m1 6v1m0 161v1m3 135v1m3-312v1m0 21v1m1-1v1m0 130v2m1-162v1m0 4v1m5-7v1m0 23v1m0 154v1m0 139v1m0 5v1m1 7v1m0 9v1m1-330v1m0 2v2m0 12v1m0 133v1m0 176v1m5-329v1m1-13v1m1 37v1m0 302v1m3-338v1m0 34v1m0 152v1m1-180v2m0 149v1m0 20v1m1 143v1m0 13v1m1-337v2m0 20v2m0 10v1m0 129v2m1-166v2m0 20v2m0 10v1m0 129v2m3 5v1m0 8v2m0 136v2m1-162v2m0 158v2m1-313v1m0 144v1m1 15v2m0 147v1m1-150v2m0 147v1m1-322v1m0 155v1m0 26v1m0 6v1m3-8v1m0 15v3m0 1v1m1 133v2m1-179v2m0 2v2m0 6v4m0 28v1m0 131v1m5-168v3m0 33v1m0 113v1m1 6v1m1-149v1m0 28v1m5-222v2m0 8v2m0 166v2m0 148v1m2-306v1m5 146v1m1-164v1m1 175v1m3 171v1m1-3v1m4-181v1m3-160v1m0 334v1m1-348v1m0 345v1m13-341v1m1 168v1m0 171v1m6-349v1m0 328v1m5-160v1m1-161v1m4-1v1m0 324v1m3-157v1m2-175v1m0 9v1m0 145v1m0 11v1m1-169v1m0 9v1m0 145v1m0 11v1m1 161v1m0 3v1m3-323v1m0 156v1m0 5v1m2-22v1m0 3v2m0 13v1m7-156v1m0 301v1m0 14v1m5 1v1m0 1v1m1-13v1m0 2v1m1-169v1m3 161v1m3-161v1m1-174v1m3 181v1m1-180v2m1 14v1m3 168v1m3-3v1m0 156v1m1-322v1m0 5v1m1 154v1m5-10v1m1-160v1m0 1v1m0 13v1m0 317v1m1-164v2m0 159v1m13-334v1m0 3v1m0 11v1m0 321v1m1-168v1m3-5v1m3-171v1m0 173v1m2 167v1m3-3v1m0 1v1m1-337v1m0 11v1m0 154v1m6 179v1m1-181v1m8-159v2m5 169v2m0 157v1m1-340v1m0 7v2m0 156v1m4-172v1m0 5v1m0 10v1m0 167v1m0 2v1m3-185v1m0 13v1m1-17v1m0 171v1m1-167v1m0 328v2m3-170v1m0 159v1m1-316v2m7-2v1m1 153v1m5-20v1m0 175v1m0 15v1m1-15v1m6-325v1m1 3v1m0 309v1m7-309v1m1 310v1m6-314v1m0 7v2m5-11v2m0 157v1m0 31v1m7 163v1m1-360v1m0 17v1m0 3v1m1-9v1m0 348v1m0 1v1m6-372v3m0 25v2m0 147v1m1 2v1m3 0v1m0 162v1m3-338v1m0 17v1m0 1v1m1 314v1m3-174v1m3-159v1m0 9v2m2 155v1m3-9v1m0 11v1m2-6v1m5-8v1m1-163v1m0 2v1m0 8v1m0 153v1m7-165v1m0 164v3m1 0v1m3-14v1m0 14v1m0 164v1m3-337v3m0 4v1m1 4v1m0 160v1m3-163v1m3-12v1m0 6v1m0 159v1m2-156v1m0 158v1m0 157v1m5-330v1m0 328v1m0 9v1m1-10v1m0 7v1m4-10v1m0 7v1m1-330v1m1 3v1m5-12v1m0 327v1m1-321v1m0 317v1m0 13v1m1-178v1m0 163v1m0 11v1m5-334v1m0 156v1m0 173v1m1-341v1m0 166v1m1-3v1m3-154v1m3 314v1m0 17v1m1-18v1m0 15v1m6-336v1m0 307v1m0 33v2m1-187v1m6-158v1m0 156v1m1-155v1m1-1v1m3-9v1m0 167v1m1-163v1m0 1v1m1-9v1m0 168v1m6-169v1m0 161v1m7-154v1m0 1v1m1 320v1m1-326v1m5-13v1m0 2v1m0 2v1m0 8v1m2 319v1"/>
<path stroke="#20ffdf" stroke-width="2" d="M157 270v1m0 1v1m3-1v1m26-3v1m0 1v1m17 327v1m5-329v1m15-3v1m7-1v1m0 1v1m7 324v1m3-326v1m2 323v1m5 0v2m7-327v1m3 0v1m12 325v1m29-166v1m5-1v1m29-6v1m5-235v1m0 399v1m2-162v1m0 167v1m5-10v1m7-388v1m0 56v1m5-74v1m0 7v2m10 32v1m0 36v1m0 7v1m4-102v2m0 4v1m0 61v2m0 24v1m0 123v1m3-126v1m5-72v1m0 4v1m0 27v1m0 10v2m0 6v1m0 145v2m0 6v1m0 26v1m2-242v1m0 12v1m0 17v1m0 10v1m0 4v1m0 170v1m3-177v1m0 171v2m0 3v1m0 127v1m2-356v1m0 16v1m0 30v1m0 1v1m0 133v2m0 43v2m2-178v1m0 25v1m3-71v1m0 27v1m0 25v1m0 150v1m0 31v1m2-253v2m0 15v1m0 7v1m0 201v1m0 9v1m0 152v1m5-391v1m0 33v2m0 33v1m0 124v2m0 30v1m0 16v1m0 114v2m3-322v4m0 44v1m0 145v1m0 13v1m4-232v1m0 16v2m0 59v1m0 162v1m0 115v2m0 14v1m3-366v1m0 30v2m0 192v1m5-204v1m0 13v1m0 10v1m2-15v1m0 181v2m3-174v2m2-51v1m0 60v1m0 166v1m0 184v1m2-365v2m0 330v1m3-331v2m0 350v1m2-354v1m0 158v1m0 2v2m0 1v1m0 18v1m0 146v1m0 17v1m5-397v1m0 15v2m0 2v2m0 4v2m0 20v1m0 176v1m2-198v2m0 45v1m0 147v1m0 5v1m0 148v1m0 22v1m5-384v1m0 3v2m0 2v2m0 179v1m0 4v2m3-172v1m0 176v1m5-178v2m0 5v1m2 330v1m0 13v2m5-354v1m5 161v1m0 189v2m2-356v1m0 363v1m7-341v1m0 325v2m8-168v1m5-165v1m2 317v1m5-157v1m2-158v1m5 331v1m0 8v1m7-172v1m0 170v1m8-22v1m7 10v2m5-166v1m0 152v1m9-155v1m0 166v2m0 7v1m5-336v1m0 315v2m8 9v1m7-172v2m0 167v1m0 1v1m0 1v1m17-4v1m0 4v1m2-29v1m0 5v1m7-302v2m0 159v1m5-163v1m0 2v2m8-13v1m0 29v1m0 276v1m2-285v1m0 295v2m5-299v1m0 291v1m2-308v2m5-24v2m0 22v1m0 11v2m0 159v1m0 142v1m7-347v1m0 184v1m0 150v1m13-154v1m0 39v1m0 121v2m7-337v2m0 160v1m0 7v2m0 165v1m7 7v1m2-343v1m0 345v1m17-356v2m0 356v1m3-178v1m5-182v1m9 5v1m5 151v1m5 168v1m0 1v1m3-320v1m7 168v2m0 162v1m5-182v2m0 8v1m0 168v1m2-185v1m0 13v1m5-16v1m0 7v1m0 14v1m0 1v1m2-189v1m0 25v1m0 159v1m8-172v2m0 158v1m4-146v1m0 134v1m0 21v1m0 1v1m8-181v2m0 176v2m5-13v1m2-179v1m5 179v1m14-178v1m0 181v1m0 8v1m0 166v1m3-174v1m0 169v1m5-171v1m0 171v1m5-177v1m2-159v1m7 342v1m5-349v1m0 172v1m2-171v1m0 166v1m0 16v1m0 161v1m0 3v1m5-18v1m0 21v1m3-358v1m12 163v1m5-161v1m2 140v2m0 3v1m7 172v1m5-176v1m0 1v1m0 13v1m3-161v1m0 6v1m0 151v1m0 152v2m12-145v1m0 160v1m5-332v1m0 170v1m0 22v1m0 134v1m0 16v1m2-346v1m0 196v1m0 148v2m7-341v1m0 187v1m12-34v1m3 4v1m5-9v1m5 167v1m2-163v1m5-157v1m0 145v1m7 12v1m0 164v1m3-9v1m4-328v1m0 5v1m3 0v1m0 153v1m5 177v1m2-330v1m5-1v1m5-20v1m0 16v2m2-19v1m5 346v1m2-13v1m5 13v1m3-333v1m5 153v2m0 166v1m2-162v1m5-170v1m0 8v1m7 327v1m12-178v1m0 161v1m0 3v1m3-325v1m7-3v1m0 167v1m0 163v1m5-171v1"/>
<path stroke="#40ffbf" stroke-width="1" transform="translate(.5)" d="M158 270v1m6 1v1m1-3v1m10-1v1m9-1v1m7 1v1m1-3v1m6 1v1m11-3v1m1 1v1m6-3v1m1 1v1m0 158v1m1-162v1m6 158v1m1-160v1m7-1v1m1 1v1m17-4v1m5-1v1m0 327v1m3-2v1m8-169v1m0 164v1m6-166v1m7 163v1m0 9v1m1-10v1m0 7v1m1-1v1m6-333v1m1-1v1m1-1v1m10 333v1m1-175v1m0 163v1m0 7v1m1-10v1m5-1v1m0 9v2m1-11v1m0 7v1m6-13v1m0 18v1m5-15v1m1 0v1m1-3v1m1 9v1m4-175v1m0 164v1m0 7v1m1-1v1m1-335v1m1 165v1m0 169v1m1-171v1m4-6v1m1-167v3m0 167v1m0 160v1m0 9v1m1-171v1m0 160v1m0 7v1m5-346v4m0 15v1m0 317v1m0 7v1m2-338v1m0 167v1m5-171v1m0 6v1m5-2v1m1-73v3m1 55v1m0 15v1m0 3v1m6 150v1m4-239v1m0 235v1m3-243v1m4-1v1m0 4v1m0 207v1m0 2v1m0 197v1m3-326v1m0 322v1m1-195v1m1-218v1m0 18v1m0 38v2m0 9v1m0 148v2m17-169v1m0 12v1m0 153v1m0 2v1m0 7v1m0 150v2m0 30v1m1-408v1m0 17v1m0 46v1m0 5v2m0 145v1m4-206v1m0 51v1m0 145v1m0 3v1m0 1v2m0 8v1m0 11v1m3-201v1m0 203v1m4-208v1m0 181v1m0 2v2m3-182v2m0 14v1m0 322v1m0 24v1m1-321v1m0 155v1m1-229v1m0 23v1m0 15v2m0 30v1m0 150v1m0 143v1m0 29v1m5-14v1m0 3v1m7-158v1m0 155v1m5-388v1m0 28v1m0 12v1m0 175v1m0 146v1m1-366v1m0 365v1m0 21v2m1-162v1m5-211v2m0 184v2m1-190v2m0 181v1m4-187v1m0 193v1m3-164v2m0 170v1m0 174v1m7-352v1m0 166v2m2-174v1m0 163v1m0 1v1m0 189v1m5-19v1m5-324v1m0 327v1m0 15v1m1-15v1m0 7v1m1-322v1m5-22v1m0 336v1m1-350v1m0 346v1m1-336v2m0 159v1m0 181v1m0 11v1m1-367v2m0 29v1m0 323v1m0 9v1m1-366v2m0 29v1m1-23v2m0 163v1m0 188v1m4-191v1m0 176v1m0 15v1m1-10v1m0 7v1m5-190v1m0 167v1m0 13v1m1-343v1m1 350v1m6-189v1m0 157v1m0 11v1m1-171v1m0 157v1m0 11v1m3-333v1m0 7v1m0 330v1m1-332v1m1-5v1m0 159v1m1-179v2m0 13v1m0 4v1m1-21v2m0 13v1m0 4v1m3-20v1m0 13v1m1 14v1m0 1v1m0 315v2m3 2v2m1-6v2m0 3v1m3-337v1m0 320v1m0 11v2m4-336v1m0 156v1m0 166v1m0 3v1m3 3v2m2-159v1m5 170v1m0 2v1m1-345v1m0 331v1m0 11v1m1-16v2m0 2v1m0 9v1m5-340v1m0 324v1m0 17v1m1-18v1m0 15v1m4-17v1m0 1v1m1-176v2m1 170v1m1-152v1m0 139v2m0 20v1m1-163v1m0 139v2m1-317v1m3 159v2m0 165v1m1-11v1m0 6v1m3-168v1m0 173v1m3-329v1m0 318v2m1-7v1m1-150v1m5 152v1m0 4v2m0 2v1m2-322v1m10 322v1m1-161v1m0 135v1m1-296v1m0 157v1m0 152v1m5-316v1m0 8v1m0 152v1m1-152v1m0 308v1m1-153v1m3 137v1m3 16v2m1-311v1m0 152v1m0 147v1m1-328v1m5 20v1m0 296v1m0 5v1m0 4v2m2-2v2m0 1v1m0 6v1m5-319v1m1-2v1m0 5v2m0 129v1m0 174v1m0 9v1m1-330v2m0 4v1m0 6v1m0 10v1m0 129v2m3-154v2m0 174v1m1-27v1m1-166v1m0 15v1m0 7v1m0 134v1m0 170v1m0 11v1m1-187v1m0 174v1m0 9v1m1-186v1m3 20v1m0 155v1m1-165v2m1-164v1m0 7v1m0 313v1m0 13v1m1-175v1m0 20v1m0 139v1m0 11v1m1-174v1m0 20v1m1-16v2m0 8v1m0 132v1m0 6v2m3-323v1m0 180v1m0 19v1m0 115v1m1-165v1m0 170v1m1-156v2m0 15v1m6-188v1m1-5v2m0 13v1m0 306v1m5-4v1m0 9v1m1 0v1m6-175v1m0 4v1m1-163v1m1 4v2m0 162v1m0 3v1m0 165v2m3 4v1m1-179v1m0 175v1m8-350v1m6 176v1m9-176v1m0 332v1m5-8v1m0 6v2m1-171v1m0 2v1m0 175v1m1-192v1m3-151v1m0 338v1m5-178v1m3-164v2m1 158v1m0 171v1m1-316v1m0 139v1m1-141v1m0 139v1m4-145v1m0 5v1m0 143v1m0 6v1m2-167v1m0 150v1m6 6v1m1-3v1m0 160v1m0 12v1m5-160v1m0 160v1m0 1v1m1-7v1m4-349v2m0 339v1m3-163v1m0 172v1m1-162v1m3-168v1m1-13v2m0 164v1m4 8v1m0 162v1m3-159v1m1-169v1m1 9v1m5 318v1m1-331v1m0 1v1m1 166v1m5-165v1m1 329v2m4-332v1m3-3v2m0 6v1m4 151v1m0 2v1m0 1v1m3-172v1m0 1v1m0 16v4m1 145v1m0 178v1m1-341v1m3 331v1m0 1v1m1-172v1m0 176v1m1-341v1m0 157v1m0 170v1m0 5v2m0 5v1m5-177v1m0 168v2m0 3v1m8-336v3m0 156v2m1 11v2m10-172v1m0 171v1m0 162v1m3-346v2m0 1v1m0 6v1m0 3v1m1-17v1m0 333v1m1-169v1m4-162v1m0 9v1m0 153v1m7 148v1m1-315v1m0 7v1m5 150v1m0 173v1m1-326v1m1 2v1m0 156v1m5-172v1m0 1v1m1 2v1m0 6v1m0 153v1m0 2v1m1-17v2m3 11v1m4 148v1m6-311v1m1-3v1m0 330v1m1-1v1m3-2v1m2-324v1m5 3v1m0 341v1m1-358v1m0 4v1m0 8v1m0 3v1m1 147v1m0 166v1m5-164v1m1-173v1m0 20v1m0 151v1m1 2v1m3-168v1m0 156v1m3-148v1m0 1v1m1 148v1m7 163v1m1-331v1m0 1v1m0 1v1m3 158v1m0 4v1m8-160v2m0 3v1m0 317v1m1-4v1m0 6v1m6-335v2m4 158v1m0 9v1m0 159v1m3-327v1m0 161v1m1-7v1m0 168v1m3-171v1m0 1v1m0 166v1m0 3v1m3-329v1m0 161v1m2-160v2m0 320v1m5-347v1m5 341v1m0 3v1m1-325v1m0 319v1m0 13v1m1-350v1m0 347v1m5-172v1m1-170v1m0 164v1m0 162v1m0 11v1m1-330v1m0 317v1m0 9v1m6-340v2m0 323v1m0 17v2m1-338v1m0 164v1m0 153v1m0 15v1m3-342v1m10 318v1m0 20v1m1-181v1m0 10v1m0 148v1m0 3v2m0 1v1m0 11v1m0 3v2m6-15v1m0 7v1m1-13v1m1-1v1m3-165v1m1-165v1m0 2v1m0 6v1m7-8v1m1 161v1m3-3v1m3-162v1m0 3v1m0 5v1m0 1v1m1 320v1m1-8v1m0 6v1m5-325v3m0 155v1m1-165v1m0 329v1m1-325v1m0 323v1"/>
<path stroke="#40ffbf" stroke-width="2" d="M160 270v1m2-1v1m0 1v1m5-1v1m5-1v1m7-1v1m2-3v1m20-1v1m0 1v1m2 330v1m12-332v1m5-1v1m3-1v1m4-3v1m0 1v1m8 323v2m2-328v1m5 326v1m2-1v1m3-330v1m7 0v1m0 158v1m3 3v1m4 163v1m3-326v1m0 325v1m5 0v1m7-1v1m7-171v1m20-232v1m0 232v1m34 3v1m7-173v2m0 1v1m14-68v2m5 28v1m3 4v1m0 197v1m4-226v1m3 23v1m5-29v1m0 31v2m0 4v2m0 3v1m2-55v1m0 10v1m0 17v1m0 7v1m0 4v1m0 24v1m3-67v1m0 40v1m0 1v1m0 36v1m2-82v1m0 6v1m0 32v1m0 1v1m0 11v1m0 146v1m2-192v1m0 26v1m0 15v3m0 143v2m0 8v1m0 6v1m0 3v3m3-196v1m0 1v2m0 22v1m0 184v1m2-258v1m0 27v1m0 33v1m0 31v1m0 95v2m0 48v1m0 184v1m5-421v1m0 66v1m0 185v1m0 132v1m3-363v1m0 32v2m0 24v2m0 6v1m0 140v1m4 13v1m0 141v1m3-368v1m0 27v2m5-1v1m0 27v1m0 342v2m2-384v2m0 15v1m0 187v1m3-192v1m0 3v1m0 18v1m0 322v1m0 31v1m2-371v1m0 3v2m0 7v1m0 163v1m0 4v1m2-215v2m0 38v2m0 327v1m3-327v1m0 16v1m0 137v1m2-173v1m0 9v1m0 1v2m0 161v1m0 1v1m0 165v1m0 22v2m0 8v1m5-412v1m0 8v2m0 55v1m0 156v1m0 158v1m2-162v1m0 135v2m0 40v1m5-382v1m0 194v2m3-18v1m0 4v1m5-131v1m0 138v2m2-176v1m0 342v1m5 8v2m5-324v1m0 323v2m2-10v1m7-174v1m15 187v1m7-336v1m0 321v2m5-326v1m0 319v1m0 16v1m7-3v1m8 5v1m12-6v2m2-171v1m7-8v2m5 11v1m8 148v2m7 10v1m0 1v1m0 1v1m12-17v1m0 14v1m0 5v1m2-176v2m0 159v1m10-308v1m7 299v1m3-319v1m0 324v1m5-303v1m0 10v1m0 124v1m0 167v1m2 7v1m5-303v1m2-34v1m0 30v1m5-17v1m0 13v1m0 156v1m7-165v2m0 3v1m0 127v1m0 165v1m0 9v1m8-344v1m0 208v1m0 3v3m5-32v2m14 164v1m2 3v1m5-181v1m0 173v2m8-170v1m7-175v2m0 349v2m5-367v1m0 8v1m9 10v2m5 145v1m0 189v1m8-348v2m7 14v1m0 154v1m0 168v1m5-9v2m7-179v1m2-135v1m5-17v1m3-18v1m0 32v1m0 1v1m4-34v2m0 165v1m8-136v1m5 146v1m2 0v1m5 8v1m0 167v1m7-332v1m0 156v1m7-181v1m8 356v2m7-331v1m0 333v1m5 0v2m2-6v2m5-342v2m0 330v1m2-162v1m0 12v1m0 161v1m0 2v1m5-340v1m3-9v1m0 6v2m0 309v1m5-152v1m0 162v2m4-322v1m0 151v1m0 7v1m0 149v1m3-152v1m5-174v1m0 323v1m0 12v1m7-192v2m2-142v1m0 139v2m0 18v1m5-149v1m0 298v1m3-3v1m5 18v1m2-331v1m10-2v1m2 329v1m5-320v1m0 131v1m0 18v1m0 3v1m0 194v1m2-195v1m5 19v2m3-24v1m0 163v1m4-171v1m0 2v1m13-154v1m7 151v1m0 9v1m2-164v1m5-9v2m15 166v1m0 167v1m7-175v1m0 7v1m5-165v2m7-2v1m0 1v1m2 162v1m13-166v1m0 1v1m0 328v1m2-327v1m0 318v1m0 6v1m7-177v1m0 167v1m5-162v2m7 157v1m5-155v1m3 146v1m7-319v1m5 0v1m0 156v1"/>
<path stroke="#60ff9f" stroke-width="1" transform="translate(.5)" d="M158 272v1m7-1v1m10-1v1m17-1v1m6-3v1m1-1v1m10 1v1m1-3v1m6 1v1m1-3v1m7 159v1m1-159v1m3 154v1m3 3v1m2-162v1m5 159v2m13-163v1m0 2v1m7-2v1m1 1v1m0 157v1m20-3v1m0 2v1m7 167v1m1-9v1m0 7v1m1-9v1m0 7v1m5-170v1m0 1v1m0 158v1m0 9v1m1-10v1m0 7v1m5-10v1m0 9v1m7-13v2m7-2v1m0 15v2m1-17v1m0 13v1m1-12v1m3-4v1m2-160v2m0 160v1m0 7v2m1-11v1m1-1v1m3 1v1m2-323v1m0 157v2m0 160v1m0 11v1m1-12v1m1-1v1m1-321v1m0 319v1m0 7v1m4-8v1m0 7v1m1-330v1m5 0v1m0 2v2m0 150v1m0 165v1m1-332v1m0 163v1m1-1v1m5 161v1m0 15v1m1-178v1m0 161v1m0 13v1m1-177v1m0 164v1m3-162v1m2-174v1m0 11v1m0 323v1m5-404v1m1 6v1m0 227v1m0 167v1m4-401v1m0 30v1m3-24v1m0 54v1m0 127v1m0 159v2m4-361v1m0 11v1m0 392v1m4-335v2m0 11v1m0 114v1m0 13v1m1-201v1m0 49v1m12 15v1m5-48v1m0 177v1m0 3v1m0 8v1m0 185v1m1-352v1m0 163v1m0 4v1m1-150v1m3 110v2m0 25v1m0 24v1m3-83v2m0 53v1m4-198v1m0 11v2m0 14v2m0 30v1m0 148v1m0 13v1m0 2v1m3-217v2m0 2v1m0 3v1m0 1v1m0 11v2m0 9v1m0 10v2m0 144v1m2-183v1m0 2v1m0 190v2m0 2v1m0 154v1m0 8v2m0 10v1m5-14v1m0 1v3m7 2v1m5-390v1m0 26v1m1 23v1m0 314v1m0 2v1m6-363v1m0 19v2m0 10v2m0 164v4m0 22v1m1-187v2m0 166v1m4-150v1m0 140v1m0 161v1m3-170v2m0 189v1m1-162v1m1-160v1m0 127v1m0 4v1m0 2v2m5-8v1m0 4v1m2-141v1m0 134v1m0 5v1m0 183v1m5-162v1m5 149v1m1-150v1m0 150v1m6-337v1m0 340v2m0 1v1m1-355v1m0 34v1m0 305v1m1-172v1m0 173v1m1-343v1m1-1v1m4-3v1m0 339v1m8-164v2m0 175v1m0 13v1m1-334v1m0 303v1m0 7v2m5-168v1m0 175v1m0 7v1m1-349v1m0 164v1m0 155v1m0 19v1m1-342v1m0 164v1m0 155v1m10-336v1m1 350v1m1-1v1m0 13v1m1-14v1m0 11v1m5-30v1m0 3v1m0 13v1m1-5v1m0 13v1m1-334v1m0 331v1m1-333v1m0 322v1m1-337v1m0 156v1m0 166v1m0 3v1m3 6v2m1 1v1m1-166v1m0 164v1m5 8v1m2-25v1m0 1v1m10-159v2m0 164v1m0 1v1m1-7v2m1 7v2m0 5v1m1-341v2m0 317v1m1-320v2m0 317v1m1-150v1m3-163v1m0 1v1m1-7v2m3 150v1m0 13v1m0 161v1m3-323v1m1 158v1m0 148v1m7-151v1m6-156v1m6 0v1m0 156v1m0 139v1m0 8v2m7-314v1m0 321v1m4-149v1m3-1v1m1 148v1m1-314v2m6 319v1m6-22v1m1-292v1m0 304v1m0 7v1m1-333v1m0 163v2m0 158v2m3-323v1m0 147v1m1 5v2m1-10v1m5-133v1m0 300v2m1 2v2m0 7v1m2-348v2m0 20v2m0 146v1m0 6v1m0 18v1m1-197v2m0 20v2m0 146v1m0 6v1m0 18v1m0 149v1m1-175v1m0 163v2m3-326v1m0 5v1m0 3v2m0 152v2m0 151v1m1-165v1m0 170v1m0 9v1m1-331v1m0 179v1m0 16v1m0 131v1m5-157v1m0 3v1m2 135v1m5-165v1m0 3v1m0 169v1m2-344v2m6 172v1m1-169v1m3 1v2m1 8v1m1 158v2m3 170v1m3-10v1m1 6v1m3-325v1m0 144v1m3-161v2m1 169v1m0 167v2m1-169v1m6-177v1m0 345v1m1-12v1m6-336v1m0 340v1m4-180v2m1-166v1m0 155v1m7-149v1m2-1v1m0 6v1m1-8v1m0 6v1m4 156v1m0 2v1m2-176v1m5 12v1m0 163v1m1-160v1m0 1v1m1-7v1m5 1v1m1 146v1m1 14v2m3-1v1m3-170v1m0 328v1m1-174v1m0 11v1m0 153v4m4-160v1m4 5v1m4 156v1m1-337v1m0 175v1m0 159v1m5-161v1m0 3v1m1-160v1m1-9v1m0 6v1m6-3v1m4-9v1m0 166v1m3-165v1m0 7v1m4 334v1m3-334v1m0 151v2m1 174v1m1-6v1m0 4v1m3-178v1m0 172v1m1-338v3m0 7v1m1-2v1m0 325v2m5 8v1m7-19v1m1-328v1m8 0v1m0 166v1m3 1v1m0 162v1m0 9v1m3-343v1m0 1v1m0 6v1m1-12v2m1 9v1m4 154v1m3-3v1m3-155v1m0 144v1m7 178v1m1-332v2m8-3v1m7 313v1m7-306v1m1 0v1m3-10v1m2-3v1m0 330v2m5-167v1m1-168v1m0 1v1m0 7v2m0 1v1m1 151v1m0 2v1m0 166v1m5-143v1m0 142v1m1-342v1m0 1v1m4 171v2m3-170v1m0 2v1m1 167v1m3 154v1m0 3v1m3-322v1m1 2v1m0 154v1m0 2v2m1 164v1m4-8v1m6-1v1m1-331v1m0 2v1m0 329v1m1-324v1m0 320v1m6-325v1m1-8v1m0 171v1m3-4v2m4-161v1m3-10v1m0 8v1m3 155v1m1 164v1m1-331v1m0 6v1m0 161v1m5-185v1m0 2v1m0 340v1m0 7v1m1-340v1m1-1v1m5-9v1m0 17v1m0 316v1m5 12v1m1-339v1m0 164v1m0 1v1m6 0v1m1-164v2m0 1v1m0 158v1m0 157v1m0 15v1m1-334v2m0 316v1m0 13v1m3-335v1m3 318v1m0 15v1m1-16v1m0 13v1m1-341v1m5 319v1m0 6v1m0 11v1m1-179v1m0 6v1m0 157v1m0 1v1m0 9v1m0 3v1m1-343v1m0 167v1m0 156v1m6-158v1m1-1v1m3-159v1m1 156v1m0 161v1m7-327v1m0 3v2m4 1v1m0 323v1m3-334v1m0 1v1m7-2v1m0 5v1"/>
<path stroke="#60ff9f" stroke-width="2" d="M167 270v1m5-1v1m2-1v1m5-1v1m2 1v1m8-1v1m5-3v1m2-1v1m7 1v1m0 329v1m0 1v1m3-335v1m0 1v1m2-3v1m5-1v1m0 1v1m2-3v1m5-1v1m15-1v1m0 1v1m2-1v1m12-5v1m0 163v1m0 164v1m5-327v1m3 156v1m12-154v1m5-6v1m29-73v1m0 67v1m0 333v1m7-7v1m2-160v1m12-2v1m0 160v1m8-328v1m0 5v1m0 327v1m7-361v1m0 30v1m7 155v1m10-239v1m0 11v1m2 395v1m5-371v1m3 330v1m4-378v1m0 2v1m0 14v1m0 32v2m0 154v3m3-213v2m0 49v1m0 6v1m5-38v1m0 34v1m0 7v1m0 160v1m2-210v2m0 31v1m0 29v1m3 2v2m0 143v1m0 2v2m0 183v1m2-352v1m0 148v1m2-197v1m0 2v1m0 28v1m0 171v1m0 4v1m3-173v1m0 15v1m0 146v1m0 6v2m0 24v1m2-258v1m0 20v1m0 22v1m0 42v2m0 168v1m5-233v2m0 203v1m3-204v1m0 29v1m0 16v1m4 110v2m3 70v1m5-177v1m0 147v1m0 26v1m0 140v1m2-326v1m0 7v1m0 166v1m0 169v1m3-360v1m0 3v1m0 13v1m0 2v1m0 165v2m0 148v1m0 8v1m2-352v1m0 12v1m0 10v1m0 325v1m0 15v1m2-327v1m0 113v2m0 188v1m3-323v1m0 156v2m0 1v1m2-176v1m0 4v2m0 26v1m0 3v1m0 132v1m0 22v1m0 145v1m0 6v1m0 14v2m5-334v1m0 306v1m0 12v2m0 6v2m2-390v1m0 1v2m0 3v1m0 37v1m0 5v1m0 170v1m0 142v1m0 4v1m0 15v2m5-354v2m0 181v1m3-6v1m5 158v1m2-339v1m0 7v1m5 161v1m7-136v1m0 310v1m5-346v1m0 8v1m0 353v1m2-354v2m0 328v1m0 14v1m8-322v1m5-23v1m0 6v1m0 322v1m2-327v1m0 322v1m0 8v1m5-328v1m0 335v1m2-167v2m0 11v1m5 153v1m7-177v1m0 167v2m15-330v1m0 329v2m0 1v1m5-167v1m0 160v2m9-323v1m5 6v1m20 147v1m0 174v1m7-2v1m0 5v1m2-326v1m0 152v1m0 166v1m3-170v2m0 154v1m0 8v1m0 1v1m0 4v1m2-325v1m0 308v1m0 5v1m7-320v1m0 320v1m5-11v1m3-319v1m5 6v1m0 304v1m2 6v2m5-290v1m2-32v1m0 28v1m5-19v2m0 14v1m7-44v1m0 40v1m0 303v1m0 1v1m8-344v1m0 12v1m0 175v2m0 16v1m0 131v2m5 11v1m2-337v1m5-2v1m2 2v1m12-13v1m5 336v1m0 3v1m10-166v1m0 158v1m0 13v1m5-364v1m2 186v1m7-173v2m20 2v1m0 6v1m0 152v1m5-163v1m0 317v1m2-316v1m0 165v1m0 1v1m5 148v2m2 0v1m5-333v1m0 5v1m0 11v1m0 150v1m0 11v1m3-191v1m0 168v2m0 9v1m4-162v1m0 328v1m5-159v1m3-182v2m0 169v1m19 179v1m3-169v1m4-7v1m0 5v2m15 171v1m5-334v1m0 159v1m7-171v1m0 8v1m0 2v1m0 158v1m0 162v1m2-332v1m0 163v1m0 181v1m0 1v1m5 3v2m3-178v2m0 141v1m0 11v2m5-171v1m0 161v1m0 3v1m7-329v1m5-4v1m0 334v1m2-324v1m12 136v1m0 22v1m3-9v1m5 156v1m7-129v1m5-190v1m2 0v1m0 156v1m0 35v1m7-29v1m5 166v1m3-170v1m12-5v1m5-151v1m0 321v1m2-1v1m5-168v1m2 162v1m5-323v1m0 160v1m3-7v1m0 164v1m0 1v1m0 1v1m7-171v1m5-179v1m0 20v2m2 153v2m5-164v1m5 169v1m7 2v1m0 165v1m10-331v1m14 319v1m0 2v1m12 1v1"/>
<path stroke="#80ff80" stroke-width="1" transform="translate(.5)" d="M164 270v1m1 0v1m11-2v1m0 1v1m11-2v1m4-1v1m8 0v1m5-2v1m14 156v1m3-159v1m0 1v1m0 158v1m3-4v1m4-158v1m23-2v1m4 157v1m7-1v1m17 164v1m0 7v1m1-8v1m0 5v1m1-1v1m3-335v1m0 1v1m0 331v1m2-333v1m0 325v1m1-166v1m1-1v1m4 170v1m1-169v1m0 160v1m0 7v1m1-168v1m1-1v1m4 158v1m0 7v1m2-173v1m5-164v1m0 326v1m0 7v1m1-330v1m1 321v1m10-159v1m0 158v1m8-328v1m1 0v1m0 324v1m0 9v1m1-176v1m0 165v1m0 7v1m1-175v1m0 165v1m1-328v1m0 326v1m4-328v1m0 8v2m6-16v2m0 9v1m0 1v1m0 156v1m1-170v1m0 169v1m6-5v1m0 161v1m0 13v1m1-343v1m0 5v1m0 322v1m0 11v1m1-342v1m0 5v1m0 325v1m4-378v1m0 381v1m1-343v1m0 2v1m0 12v1m5-90v1m0 8v1m1 4v1m0 22v2m0 19v2m0 28v1m4-89v1m0 9v1m0 32v1m0 13v1m3-56v1m0 18v1m0 53v1m1 11v1m0 322v1m3-398v2m4-5v2m0 191v1m1-208v2m12 86v1m5-97v2m0 20v1m0 23v1m1-18v1m0 42v1m0 115v2m0 46v1m0 4v1m0 3v1m4-199v1m0 8v1m0 170v1m3-208v1m0 34v1m0 23v1m0 134v2m0 33v2m0 131v2m4-351v1m0 34v2m0 1v1m0 168v1m3-194v1m0 3v1m0 1v1m0 20v1m0 158v1m0 182v2m2-384v1m0 25v2m0 1v1m0 7v1m0 178v1m0 145v1m0 5v1m5-308v1m0 160v2m7 162v1m5-355v2m0 160v1m0 26v1m1-227v1m0 14v2m0 7v1m0 356v2m1-155v2m5-235v1m0 368v1m2-299v2m0 159v1m0 2v1m3-36v1m3-160v1m0 158v1m0 4v1m2 0v1m5-2v1m1-164v1m0 30v1m0 158v1m1-192v2m0 333v1m5-309v3m5 1v1m0 1v1m0 131v1m7 185v1m2-9v1m0 9v1m0 9v1m1-193v1m0 182v1m0 7v1m1-192v1m1-2v1m3 3v1m1-162v1m0 335v1m0 13v1m1-15v1m0 6v1m0 5v1m5-332v1m0 1v1m1 319v1m0 11v1m1-335v1m0 306v1m0 25v1m5-350v1m0 331v1m0 8v1m1-326v1m0 1v1m0 323v1m1-327v1m0 1v1m0 323v1m3-325v1m1 144v1m1 1v1m0 169v3m1-322v1m0 1v1m0 329v1m1-333v1m0 1v1m0 329v1m3-333v1m1-12v1m0 11v1m0 150v1m0 171v1m4-335v2m0 8v1m0 1v1m3-13v1m0 327v2m2-318v1m0 303v1m1-305v1m0 303v1m0 21v1m1-329v1m3-9v1m0 319v1m1-157v1m1-168v1m0 334v1m6-166v1m0 164v1m0 9v1m1-24v1m0 1v1m0 11v1m0 7v1m5-13v1m0 15v1m1-16v1m0 13v1m4-335v1m0 305v1m1-319v1m0 3v1m0 7v1m1 324v1m0 3v1m1-164v1m0 152v1m1-154v1m0 152v1m4-16v1m0 13v1m1-162v1m3-161v2m0 1v1m0 146v1m3-150v1m1 159v1m6-3v1m1-159v1m0 1v1m0 309v3m1-157v1m10 164v1m1-14v2m6-143v1m1-168v1m0 164v1m4-168v1m3-1v1m0 150v1m1 7v1m1 8v1m6 161v1m1-329v1m0 5v2m0 162v2m5 137v1m2-316v1m0 14v1m0 308v2m3-326v2m0 326v1m1-323v1m0 156v1m1-146v1m0 307v1m0 9v1m1-331v1m0 167v2m0 151v1m0 7v1m1-330v1m0 167v2m3-156v1m0 154v1m1 158v1m1-10v1m0 11v1m1-348v2m0 167v1m0 166v1m0 9v1m1-347v2m0 167v1m0 166v1m1-166v1m0 160v2m4 1v1m0 7v1m1-346v2m0 331v1m0 10v1m5-157v1m0 3v1m0 23v1m1-201v1m1 199v1m5 113v1m2-313v1m5 144v1m1 9v1m4-168v2m1 7v1m0 2v1m0 332v1m4-348v2m0 328v2m0 2v2m3-344v2m0 178v1m0 2v1m0 157v1m0 2v1m4-176v1m0 10v1m0 164v1m4-168v1m7-176v1m6 166v1m1-164v1m0 14v1m0 147v1m1 173v1m0 4v1m4-347v1m0 18v1m0 136v1m4-150v1m3 0v1m0 157v1m1 166v1m1-326v1m0 331v1m1-333v1m0 331v1m4-188v1m2-154v1m6 332v2m1-318v1m0 1v1m0 307v2m5-313v1m0 3v1m0 315v1m1-3v1m8-167v1m3-4v1m0 11v1m1-157v1m0 154v1m1-157v1m3 144v1m4 0v1m0 172v1m1-339v1m0 340v1m5-328v1m0 151v1m0 176v1m1-332v1m0 10v1m8 152v2m6-163v1m4 157v1m3-161v1m0 9v1m2 154v2m3 169v1m1-330v1m1 322v1m6-326v1m1-7v1m0 162v1m5 163v1m0 15v1m9-11v1m3-3v1m0 1v1m3-327v1m0 2v1m1-14v1m4 169v1m4 154v1m3-171v1m0 166v1m1-157v1m1-163v1m0 156v1m7-149v1m0 128v1m0 194v1m6-328v1m0 303v1m4-305v1m11-7v1m1 160v1m3-4v1m0 5v1m2-4v1m0 31v1m5-29v1m1-168v1m0 2v1m0 9v1m0 317v1m1-329v1m0 5v1m5 158v1m0 26v1m1-179v1m0 317v1m4-174v1m0 3v2m3-166v1m0 9v2m1-13v1m0 164v1m0 164v1m3-172v1m0 7v1m5-167v1m0 164v1m3 3v1m1-6v1m1-168v1m5 330v1m2-175v1m0 15v1m10-11v1m0 169v1m4-171v1m0 8v1m3-159v1m3 317v1m1-333v1m1 163v1m5 3v1m0 162v1m0 5v1m1-167v1m1-1v1m4-5v1m0 160v1m0 11v1m1-2v1m6-333v1m0 321v1m0 9v1m1-330v1m0 327v1m6-331v1m0 1v1m0 155v1m1-159v1m8 322v1m5-7v3m0 15v3m7-8v1m5-170v1m0 165v1m2-327v1m0 160v1m6-5v1m4-4v1m3-154v1m0 155v2m1 160v1m6-324v1m2 326v1"/>
<path stroke="#80ff80" stroke-width="2" d="M169 270v1m0 1v1m5-1v1m12-2v1m8 0v1m2-1v1m5-2v1m2-2v1m0 330v1m0 3v1m34-179v1m3-157v1m0 157v1m14-160v1m7 326v1m10-170v1m3-160v1m0 3v1m0 322v1m2-1v1m2-164v1m0 162v1m0 1v1m27-327v1m5-7v1m2 163v1m5 6v1m22-197v1m5 187v1m7 4v1m5 161v1m2-392v2m8-19v1m0 372v3m4-377v1m0 12v1m0 2v1m3 35v1m5-40v1m0 36v1m0 169v1m2-159v1m3-57v1m0 74v1m0 137v1m0 24v1m2-236v2m0 7v1m0 57v1m0 8v1m0 131v2m0 25v1m2-236v1m0 71v1m0 328v1m3-392v2m2 0v1m0 7v1m0 15v1m0 2v1m0 2v2m5 13v1m0 124v2m0 218v1m3-367v2m0 12v1m0 143v2m0 37v1m4-192v2m3-12v2m0 6v1m0 163v1m0 20v1m5-19v1m0 12v2m0 1v1m0 152v1m0 12v1m2-358v1m0 11v2m0 2v1m0 6v2m0 176v1m0 3v1m3-186v1m0 163v1m0 1v1m0 12v1m0 141v1m0 10v2m0 19v1m2-362v1m0 165v2m0 169v1m0 4v2m0 17v1m2-358v2m0 172v1m0 4v1m0 147v1m0 14v2m0 15v1m3-197v1m0 1v1m0 170v2m2-30v2m0 19v1m5-163v1m0 166v1m0 24v1m2-401v1m0 4v1m0 22v1m0 14v1m0 5v1m0 164v1m0 12v1m0 142v1m5-14v2m3 11v1m5-334v2m0 332v1m2-173v2m5-132v1m0 131v1m2-2v1m0 174v1m3-2v1m2-306v1m5-16v1m0 169v2m0 169v1m2-9v1m8-182v1m5-161v1m0 22v1m0 306v1m0 4v1m0 16v1m2-332v1m0 1v1m5-23v2m0 330v2m0 8v1m0 8v1m2-345v1m0 12v1m0 1v1m5-10v1m0 6v1m0 1v1m0 306v1m15-308v1m0 148v1m0 164v2m7 2v1m5-321v1m0 1v1m2 311v1m5-315v1m0 1v1m0 313v2m2-316v1m5-10v1m0 6v1m15-1v1m5 1v1m0 148v1m0 172v1m9-6v1m0 4v1m3-318v1m0 312v1m0 1v1m2 2v1m5-324v1m0 3v1m0 303v1m0 9v2m2-158v1m0 155v1m5-9v2m8-312v1m0 169v1m2-175v2m5-6v1m2 17v2m20-12v1m0 153v1m0 7v2m5-10v2m0 162v1m0 2v1m0 8v1m2-355v1m0 338v1m5-316v1m2-11v1m0 5v1m5 159v2m0 164v1m2 1v2m13-345v1m0 11v1m0 4v1m0 1v1m7 159v1m0 160v1m5-170v2m0 168v2m2 7v1m5-7v1m12-182v1m10 167v2m5-7v1m7-313v1m7-17v1m0 17v1m0 163v1m3-166v1m0 166v1m4-182v2m5-10v1m3 347v1m14-321v1m0 155v1m5-157v1m15-9v1m0 340v1m5-335v1m2 159v1m0 162v1m0 12v1m5-348v1m2 354v1m5-187v1m0 1v1m2-159v1m0 150v1m0 4v1m0 2v1m5-173v1m3 332v1m12-319v1m0 156v1m0 151v1m5-319v1m2 5v1m5 127v1m2-128v1m0 303v1m5-152v1m3 149v1m5-145v1m2-168v1m0 158v1m0 3v1m5 23v1m5-21v1m0 1v1m2-7v2m5-164v1m0 5v1m0 320v1m2-170v1m0 7v1m5 0v1m3-3v1m4 162v1m8-7v1m0 4v1m5-170v1m2-159v1m0 6v1m5 151v1m7-156v1m0 148v2m0 169v1m10-322v1m0 322v1m5-169v1m0 168v1m2-322v1m0 153v1m5-155v1m0 153v1m0 5v1m5-7v1m0 166v1m2-323v1m5-2v1m7-2v1m0 4v1m0 327v1m3-177v1m5-157v1m0 160v1m2-1v1m5-6v1m0 4v1m2-7v1m0 5v1m5 161v1m5-163v1m22 161v1"/>
<path stroke="#9fff60" stroke-width="1" transform="translate(.5)" d="M182 271v1m16-1v1m1-1v1m12-1v1m5-1v1m2-1v1m14-1v1m18 0v1m0 155v1m1-1v1m11-155v1m4-3v1m0 1v1m13 156v1m0 162v1m0 5v1m5-334v1m0 161v1m3 163v1m1-1v1m1-329v1m0 163v1m3 164v1m4-324v1m4 0v1m1 320v1m6 0v1m6-4v1m0 13v1m1-2v1m4-401v1m0 226v1m2 163v1m0 5v1m10-405v2m4 67v2m0 7v2m0 153v1m0 165v1m0 5v1m6-341v1m0 2v1m0 336v1m2-1v1m11-383v1m1 39v1m0 2v1m0 5v3m5-85v1m0 409v1m2-325v1m3-94v1m0 6v1m0 54v1m3-54v1m0 14v1m0 392v1m4-428v1m0 27v1m0 198v2m5-201v2m17-3v1m0 7v1m0 10v2m0 44v2m0 2v1m1-27v2m0 29v1m0 146v1m0 11v1m4-211v1m0 198v1m0 177v1m3-403v2m0 9v1m0 5v2m0 30v2m0 6v1m0 20v1m0 126v1m0 28v1m1-160v3m3-51v1m0 21v1m3 184v1m1-159v1m1-63v1m0 15v1m0 10v1m0 7v1m0 4v1m0 20v1m0 141v1m0 158v1m0 1v3m12-145v2m0 157v1m0 4v1m5-326v1m0 132v1m1-180v3m0 187v2m0 161v1m6-370v2m0 57v1m2 164v1m3-167v1m0 135v1m0 27v1m3-162v1m2 131v1m5 4v1m0 1v1m1-168v1m0 331v2m1-334v1m0 30v1m5 160v1m0 140v1m5-333v1m0 26v1m0 307v1m2-310v1m5 3v1m0 134v1m0 170v2m1-174v1m1-138v3m1 313v1m1-1v1m1-317v1m0 138v1m0 172v1m4-331v1m0 159v1m0 173v1m0 15v1m1-349v1m0 16v1m0 1v1m5 313v1m1-333v2m0 332v1m6 2v1m5-322v1m0 315v1m1-317v1m0 1v1m2-12v1m1-1v1m3 10v1m0 149v1m1 167v1m1 1v1m0 11v1m1-185v1m0 161v1m0 10v1m0 9v1m1-184v1m0 161v1m4-313v1m0 1v1m1 317v1m0 11v1m1-332v1m0 305v1m0 23v1m1-331v1m0 305v1m1-307v2m3-3v1m0 312v1m1-323v1m0 338v1m1-331v1m0 330v1m5-342v1m0 9v1m0 1v1m1-10v1m0 164v1m1-159v1m0 1v1m0 323v1m0 5v1m5-11v1m0 13v1m1-335v1m0 155v1m0 164v1m0 11v1m1-334v1m0 155v1m3 150v1m1-319v1m0 3v1m0 4v1m0 313v2m2-314v1m0 309v2m1-312v1m0 309v2m1-314v1m0 1v1m0 326v1m3-329v1m0 305v1m4 8v2m3-10v1m1 3v1m1-311v1m12 1v1m0 311v1m5-315v1m0 311v1m0 7v1m1-323v1m1 315v1m5-317v1m2 316v1m6-316v1m1 170v1m6 155v1m1-330v1m0 1v1m0 320v1m1-330v1m0 5v1m6-6v1m0 154v1m0 174v1m0 5v1m1-330v2m0 2v2m3-8v1m0 7v1m0 313v2m1-177v1m0 12v1m0 3v2m0 157v1m2-324v1m0 163v2m1-166v1m0 163v2m3-170v1m0 12v1m0 146v1m0 13v1m1-174v1m1 151v1m1 181v1m2-330v1m0 176v1m0 151v1m3-164v2m2-188v2m0 18v1m0 309v1m5-313v1m0 150v1m1-150v1m0 315v1m1-326v1m0 10v1m0 143v1m5 166v1m1-324v1m0 160v1m0 167v1m1-322v1m0 325v2m5-163v1m1-176v1m1 0v1m0 8v1m0 1v1m3-9v2m0 4v1m1-4v1m0 336v1m4-335v1m0 1v1m0 151v2m0 4v1m0 167v1m3-329v1m0 1v1m0 159v1m1-177v1m0 172v1m0 166v1m3-327v1m0 1v1m3-5v2m1 2v1m8 155v1m5-176v1m0 169v1m0 172v1m1-327v1m0 150v1m1-160v2m0 8v1m4-19v2m7 158v1m0 3v1m0 170v1m1-320v1m0 1v1m1 319v1m1-1v1m1-332v1m0 10v1m3-3v1m0 1v1m0 1v1m0 132v1m0 21v1m0 161v1m2-331v2m5 7v1m0 160v1m1-161v1m0 149v1m1 8v1m5-161v1m0 135v1m0 23v1m0 157v1m1-329v1m0 155v1m1 172v1m6-318v1m4-4v1m0 161v1m1 156v2m1-319v1m8-7v1m5 168v1m1-168v3m0 5v1m0 319v1m11-166v1m3-159v2m0 326v1m1-172v2m3-163v1m0 161v1m0 1v1m0 177v1m3-350v1m0 2v2m0 7v1m0 2v1m6-4v1m0 331v2m1-3v3m7-177v1m5-2v1m0 3v1m0 174v1m1-343v1m1 166v1m5-5v1m5-157v1m0 160v1m0 160v1m4-168v1m0 166v1m1-163v1m0 158v1m3-320v1m1-6v1m3-1v1m4 312v1m0 2v1m6 5v1m1-3v1m0 1v1m6-163v1m0 148v1m2-311v1m0 7v1m3-1v1m3-4v1m1 159v1m6-160v1m1 0v1m0 155v1m1-2v2m4-158v1m1 155v1m5-162v1m0 164v1m1-161v1m1 159v1m6-172v2m0 1v1m0 12v1m1 151v1m0 3v1m0 21v1m0 139v1m6-331v1m0 2v1m0 6v1m4 315v1m4-325v1m0 165v1m1-170v1m0 324v1m0 9v1m4-10v1m0 3v1m1-321v1m0 155v1m0 160v1m7-173v1m5 14v1m0 159v1m2-168v2m3-164v1m0 4v1m3 158v1m1 165v1m0 2v1m6-335v1m1 7v1m0 325v1m1-171v1m0 170v1m5-349v1m0 176v2m5-2v1m1-163v1m1 4v1m0 2v1m0 315v1m0 2v1m0 7v1m6-172v1m7 159v1m0 13v1m1-14v1m0 11v1m3-179v1m3 164v1m0 13v1m1-331v1m0 328v1m6-12v1m0 9v1m1-177v1m0 166v1m0 7v1m1-1v1m6-1v1m1-1v1m3-329v1m0 319v1m2-323v1m5 319v1m2 4v1m3-4v1m3-322v1m1 154v1m0 164v1m0 2v2m1-3v1m5-167v1m0 1v1"/>
<path stroke="#9fff60" stroke-width="2" d="M157 271v1m5-1v1m5-1v1m14-1v1m8-2v1m26 0v1m8-1v1m7-1v1m7-1v1m7-3v1m0 2v1m3 155v1m10-160v1m17 2v1m0 326v1m2-328v1m29 321v1m5-165v1m0 170v1m2-336v1m5 164v1m7-2v1m13-226v2m0 223v1m7 3v1m2-163v1m5-68v1m5-4v1m0 391v1m2 1v1m5-407v2m0 5v1m3-14v1m0 4v1m4 0v2m0 7v1m0 40v2m0 354v1m3-363v1m0 7v2m0 3v1m5-35v1m0 24v1m0 19v1m2-11v1m0 151v1m5-167v1m0 27v1m0 334v1m5-363v1m0 4v2m2-47v1m0 13v1m0 23v1m0 2v1m0 163v1m5-154v1m0 4v1m0 153v1m0 11v1m3-223v1m0 34v1m0 180v2m0 17v1m4-183v1m0 3v1m0 19v1m0 126v1m0 9v2m3-175v1m0 170v2m0 10v1m0 10v1m5-20v1m0 5v1m0 152v1m0 3v1m0 5v1m0 13v1m2-346v1m0 161v1m0 5v2m0 132v2m3-336v2m0 174v2m0 17v1m0 1v1m0 162v1m0 21v1m2-374v1m0 13v1m0 156v1m0 24v1m0 140v1m2-339v1m0 33v2m0 1v1m0 150v1m0 4v1m0 2v1m0 159v2m0 18v1m3-353v2m0 158v2m0 186v2m2-360v2m0 188v1m5-21v1m0 3v2m0 172v2m0 12v1m2-373v1m0 173v1m0 1v2m0 8v1m5-149v1m0 149v1m3-180v2m0 31v1m0 122v1m0 176v1m5-301v1m7-32v1m0 29v1m0 131v1m2-166v1m0 26v1m0 4v1m0 1v1m0 300v1m0 5v1m3-310v1m0 132v1m2-135v1m5-14v1m2 15v1m0 326v1m8-347v1m0 18v1m5 139v1m0 176v1m7-320v1m0 1v1m0 313v1m2-169v1m0 20v1m5-200v1m7 29v1m0 1v1m0 319v1m8-336v1m0 12v2m0 320v1m7-323v1m0 1v1m7-3v1m0 1v1m0 312v1m5-315v1m0 321v1m0 2v1m2-327v1m0 331v1m5-1v1m8-337v1m0 5v1m4-3v1m0 1v1m0 295v1m0 7v1m3-305v1m7-1v1m0 305v1m5-309v1m0 162v1m2 154v1m3-317v1m2-3v1m0 1v1m0 4v1m0 316v1m5-325v1m0 310v1m2-311v1m5 152v1m8-145v2m7-17v1m0 6v1m2 22v1m0 298v1m12-323v1m0 8v3m8-16v1m0 1v1m0 149v1m0 6v1m0 29v1m0 2v2m5 125v1m2-339v1m0 20v1m0 150v1m5-152v1m2 1v1m0 159v2m7-164v1m0 1v1m0 322v1m10-170v1m3-163v1m0 333v1m12-329v1m0 159v1m2 171v1m5-333v1m7 1v1m5-5v1m17-9v1m0 153v2m0 14v1m7-168v1m0 11v1m5-4v1m0 141v1m0 17v1m3-164v1m0 4v1m0 144v1m0 172v1m4-172v1m5-175v1m0 26v1m0 143v1m3-150v1m7-3v1m7 327v1m5-166v1m3-3v1m17 0v1m14-156v1m0 153v1m2-1v1m5-1v1m0 4v1m3-167v1m0 156v1m5 10v1m7-169v1m0 313v1m7-303v1m5-16v1m0 138v1m2-130v1m5 159v1m15-5v1m5 32v1m2-29v1m0 160v1m5-162v1m0 191v1m2-170v1m5-193v1m0 161v1m3 3v1m4-8v1m3-162v1m10 166v1m7-4v1m7 4v1m0 159v1m0 4v1m3-166v1m4-6v1m0 168v1m8-170v1m2-2v1m5 5v1m7-162v1m7-8v1m5 162v1m3 6v1m0 158v1m14-2v1m10-321v1m0 323v1m2-323v1m5 157v1m3-1v1m7 162v1m5-16v1"/>
<path stroke="#bfff40" stroke-width="1" transform="translate(.5)" d="M164 271v1m11-1v1m9-1v1m8-1v1m18-1v1m7-1v1m4-1v1m4-1v1m3 159v1m3-4v1m2-158v1m18-1v1m7 160v1m27-168v1m1 0v1m0 166v1m1-1v1m0 160v1m1-162v1m0 160v1m5-1v1m0 5v1m3-332v1m0 330v1m3-7v1m0 5v1m7-7v1m0 5v1m2-329v1m5 319v1m0 11v1m1-174v1m0 4v1m0 166v1m1-173v1m0 4v1m6 157v1m1-1v1m4-321v1m1 320v1m0 7v1m6-330v1m7-8v1m0 5v1m7 319v1m0 11v1m1-12v1m0 9v1m5-9v1m6-325v1m1 322v1m4-404v1m0 8v1m0 66v1m0 328v1m3-424v1m0 31v1m1 64v1m0 3v1m3-105v1m3 98v1m1 129v1m1-229v2m0 95v1m0 2v1m0 323v1m17-181v1m0 11v1m0 1v1m1-229v1m0 210v2m4-184v1m0 180v2m0 15v1m0 1v1m3-235v1m0 1v1m0 7v1m0 196v1m4-182v1m0 22v2m3-15v1m0 136v2m0 32v1m2-157v1m0 183v1m0 135v1m5 23v1m7-326v1m5 160v1m0 145v1m0 1v1m0 8v1m1-337v1m0 166v2m0 5v1m0 158v1m6-383v1m0 220v1m0 150v1m2-142v1m3-160v1m0 126v1m0 3v1m0 7v1m3-13v1m0 171v1m1-140v1m7-2v1m1-162v2m10-29v1m0 27v1m1-2v1m0 1v1m0 132v1m0 172v1m6-173v1m2 1v1m0 184v1m0 7v1m1-18v1m0 9v1m0 5v1m1-17v1m0 9v1m1-185v1m3-173v1m0 14v1m0 16v1m0 1v1m0 310v1m2-332v1m0 160v1m5 2v1m0 23v1m1 152v1m0 9v1m1-333v1m0 310v2m0 2v4m0 3v2m0 7v1m5-346v1m0 159v1m0 183v1m1-331v1m1-1v1m3 148v1m1 171v1m2-322v1m0 323v1m1-325v1m0 323v1m4-10v2m1 5v1m0 9v1m1-334v1m0 1v1m0 310v1m0 18v1m1-333v1m0 1v1m0 310v1m4-313v1m0 152v1m0 161v2m1 3v1m0 9v1m1-10v1m0 7v1m2-335v2m0 155v1m3-152v1m0 313v2m1-329v2m0 164v1m1-154v1m5-2v1m0 322v2m1-1v1m0 7v1m6-340v1m0 163v1m1-159v1m1-1v1m3-5v1m0 3v1m0 313v1m0 10v1m1 4v1m1-3v1m0 1v1m1-331v1m1-1v1m1 0v1m10 311v1m2-313v1m0 306v1m0 5v2m5-7v1m1-309v1m6 160v1m0 150v3m5-316v1m0 4v1m0 313v1m1-319v2m0 311v1m6-313v1m0 317v1m1-320v1m0 319v1m1-311v1m6-11v1m1 150v1m0 166v1m0 2v1m1-321v1m0 12v1m5-16v1m0 1v1m0 148v1m1-151v1m0 155v1m0 7v1m0 158v1m0 4v1m1-335v1m0 8v2m0 156v2m0 165v1m5-331v1m0 2v1m0 20v1m0 138v2m2-163v1m0 320v2m3-323v2m1-3v1m0 15v2m0 143v1m0 160v1m1-310v1m0 309v1m0 7v1m1-8v1m1-1v1m3-325v1m0 156v1m0 172v1m2-327v1m0 143v1m0 173v1m0 9v1m3-186v1m0 21v1m0 8v1m0 151v1m3-331v2m0 318v1m1 7v1m1-16v1m0 13v1m5-326v1m1-8v1m0 5v1m0 147v1m1-148v1m0 305v1m5-309v1m1-8v1m1-3v1m0 9v1m5 162v1m1-177v1m0 335v1m0 1v1m1-4v1m3-322v1m0 156v1m1-164v1m0 3v1m0 158v1m8-3v2m3 167v1m4-327v1m1-1v1m0 329v1m5 0v1m2-330v1m6-17v1m1 13v1m3 149v1m0 177v2m1-330v2m4 144v1m0 1v1m4 168v1m1-318v1m1-1v1m1-3v3m3 144v1m1 0v1m0 1v1m0 169v1m0 1v1m1-319v1m0 305v1m5-319v1m0 10v2m1-10v1m0 321v1m1-315v1m0 316v1m5-182v1m0 10v2m0 154v1m1-316v1m0 324v2m4-314v1m0 143v1m3-147v1m4 1v1m1 148v1m0 8v1m4-166v1m0 164v1m10-157v1m1 319v1m1-321v1m5-1v1m1-4v1m4 157v1m0 1v1m4-1v1m3-159v1m3-11v1m0 4v1m0 6v1m0 324v1m0 2v1m1-171v1m1-5v1m4-162v1m6 160v1m0 170v1m2-334v1m6-1v1m1 338v2m5-335v1m5 320v1m3-323v1m1 156v1m0 2v1m1-159v1m0 320v1m3-167v1m0 162v1m4-9v1m0 2v1m3-324v1m1 166v1m0 150v2m1-316v1m6 320v1m1-324v3m5-3v1m0 1v1m2 5v1m6-6v1m1 163v1m11-166v1m0 165v1m0 22v1m2-190v1m5 7v1m7 177v1m1-191v1m0 12v1m0 1v2m1 150v1m7-165v1m0 165v1m0 160v1m7-329v1m0 9v1m0 316v1m1-166v1m3 161v1m1-161v1m1-163v1m6 329v1m1-166v1m0 1v1m7-171v1m0 169v1m3 159v1m4-168v1m0 4v1m0 164v1m6-2v1m1-328v1m0 1v1m6-22v1m0 13v2m1-16v1m0 181v2m1-184v1m0 181v2m4 158v1m0 9v1m1-176v1m0 4v1m5-164v1m0 331v1m1-9v1m0 7v1m1-9v1m5-3v1m2-328v1m6 0v1m0 325v1m0 11v1m1-340v1m0 337v1m1-171v1m5-168v1m2 161v1m0 162v1m5 4v1m7-169v1m6-158v1m0 159v1m4-158v1m0 158v1m0 158v1m4-161v1m1-167v1m5 163v1m1 165v2"/>
<path stroke="#bfff40" stroke-width="2" d="M160 271v1m12-1v1m7-1v1m10-1v1m5-1v1m2-1v1m7-1v1m3-1v1m2-1v1m5-1v1m7-1v1m0 155v1m0 3v1m7-161v1m3 155v1m5-157v1m7 0v1m12 156v1m3-159v2m4 325v1m8-3v1m5 1v1m2-171v1m2-161v3m0 326v1m20-331v1m5 165v1m2 0v1m7 157v1m34-159v1m5-239v2m0 404v1m5-398v1m0 389v1m2-402v1m0 65v2m5-70v2m0 2v1m0 2v1m0 36v2m3-53v1m4 12v1m0 3v1m3 32v1m0 10v1m5-33v1m0 24v1m0 19v1m0 337v1m2-404v1m0 201v2m0 3v2m0 193v1m3-205v2m0 203v1m2-394v1m0 202v1m2 188v1m3-385v2m2 16v1m0 14v1m0 155v1m0 9v1m5-166v1m0 2v1m0 150v1m0 6v1m3-211v1m0 8v1m0 30v1m0 13v1m0 154v1m0 8v1m0 182v1m4-353v3m0 3v1m0 162v1m0 13v1m3-206v1m0 26v1m0 149v1m0 27v1m5-26v1m0 1v1m0 6v1m0 159v2m0 19v1m2-366v1m0 183v1m3-182v1m0 193v1m0 152v1m2-332v2m0 168v1m0 3v1m0 7v1m0 139v1m0 9v2m2-355v1m0 34v1m0 157v2m0 150v1m0 5v1m0 28v1m3-338v1m0 322v1m7-161v1m2-167v1m0 137v1m0 162v1m0 1v1m5 1v1m3-169v1m5-135v2m2-30v1m5 3v2m0 153v1m5-131v2m2-2v1m5 0v1m0 311v1m2-314v1m0 132v1m0 193v1m8-328v1m5-2v2m0 314v1m2-316v1m0 314v1m0 1v1m0 12v1m5-185v1m0 166v1m2-337v2m0 335v2m0 5v1m5-331v1m0 8v1m7 149v1m0 166v1m8-5v2m7 14v1m5-330v1m0 154v1m7 165v1m7-322v1m0 325v1m8-328v1m0 158v1m0 152v1m4-317v1m0 4v1m0 297v1m0 7v1m3-307v1m5 314v2m0 3v1m2-4v2m5-162v1m0 3v1m5-163v1m0 312v1m2-313v1m5-1v1m2 7v1m5-10v1m0 1v1m0 154v1m0 10v1m0 147v1m3-317v3m5-2v1m0 4v2m2-8v1m0 1v1m5 148v1m2-128v1m5-15v1m0 151v2m0 160v1m7-332v1m0 4v3m0 329v1m8-330v1m0 316v2m5-320v1m2-2v1m0 2v1m0 197v1m5-209v1m0 8v1m2-2v1m5 149v1m0 3v1m2-169v2m0 13v1m0 318v1m5-321v1m0 1v1m0 321v1m5-325v1m0 1v1m3 319v1m4-1v2m0 1v1m3-326v1m0 1v1m0 315v2m5-318v1m2 324v1m0 2v1m5-329v1m0 153v1m0 174v1m2-330v1m5-19v1m0 15v1m5-2v1m0 2v1m0 318v1m3-320v1m7 0v1m12 156v1m7-161v1m3 163v1m4-17v1m0 12v1m8-12v1m5-1v1m21 8v1m0 1v1m3 0v1m0 170v1m5-337v1m0 162v1m5 178v1m2-13v1m0 10v1m5-346v1m2 352v1m5-188v1m2-3v1m0 1v1m5-167v2m0 1v1m0 162v1m12 154v1m10-307v1m5-14v1m0 315v1m15-314v1m0 312v1m2-155v1m0 7v1m5-2v1m5-2v1m7-168v1m2 160v1m5 1v1m0 1v1m7-164v1m8 159v1m5-153v1m0 150v1m0 5v1m0 1v1m2-8v1m12-1v1m0 166v1m7-323v1m8 153v1m0 1v1m19-165v1m2 337v1m5-339v1m0 335v1m10-174v1m5 0v1m0 158v1m34 9v1"/>
<path stroke="#dfff20" stroke-width="1" transform="translate(.5)" d="M158 271v1m18-1v1m33-1v1m8 155v1m1 1v1m15-3v1m17 3v1m5-162v1m11 158v1m6-159v1m7 158v1m0 168v1m7-333v1m6 2v1m4-3v1m3 161v1m1 3v1m0 165v1m6-330v1m0 158v1m7 4v1m1 156v1m1-1v1m3-390v1m1 226v1m0 159v1m1-160v1m7-160v1m1 329v1m1-1v1m1-7v1m4-323v1m6-9v1m1 327v1m6-330v1m0 167v1m5-4v1m2-157v1m6 321v1m1-330v1m3-87v1m0 11v1m0 6v1m0 226v1m3-253v1m4 62v1m3 32v1m2-36v1m0 3v2m17-39v1m0 211v1m0 1v1m1-188v1m0 186v1m0 10v1m1-159v1m3 147v1m3-221v1m0 11v1m0 190v1m0 13v1m0 6v1m0 8v1m4-202v2m3-4v1m0 3v1m0 169v1m0 11v1m0 163v1m2-328v1m0 161v1m12-145v1m5-34v2m0 337v1m0 1v1m1-330v1m0 18v1m0 2v1m0 302v1m0 1v1m0 4v2m0 1v1m6-385v1m0 6v2m0 10v2m0 200v1m0 147v1m1 1v1m4-333v1m0 171v1m3-171v1m0 31v1m2-32v1m0 160v1m0 171v1m6-306v2m1 159v1m10 1v1m7-164v1m0 1v1m0 308v1m2-1v1m0 13v1m0 5v1m3-329v1m0 321v1m4 5v1m1-16v1m5-330v1m0 14v1m0 167v1m0 145v1m0 5v1m2-336v1m0 157v1m0 177v1m5-6v1m1-331v1m0 332v1m1-334v1m0 332v1m3-320v1m0 320v1m2-5v1m1 5v1m1-1v1m3-324v1m0 329v1m5-331v1m3 150v1m2 0v1m0 1v1m0 164v2m1-169v1m0 1v1m0 164v2m4-321v1m0 155v1m7 1v1m1 166v1m0 5v1m6-10v1m0 11v1m1-335v1m0 322v1m0 9v1m1-334v1m3-1v1m0 313v1m0 8v1m1-164v1m2-161v1m1-1v1m5 159v1m0 150v2m3-313v1m3-1v1m2 319v1m7-12v1m0 4v1m17-307v1m0 156v1m2-155v2m0 155v1m3-169v2m0 9v1m0 139v1m0 6v1m3-146v1m1 0v2m6-16v1m0 6v2m0 157v1m2-167v1m0 12v1m5 7v1m0 302v1m1 0v1m4-312v1m1-3v1m0 8v2m1 300v1m0 5v1m1-327v1m0 315v2m1-318v1m0 315v2m3-175v1m2 175v1m0 7v1m1-2v1m2-163v1m3-13v1m0 18v1m1 146v1m1-322v1m0 148v1m5 170v1m1-3v1m1-2v1m5-317v1m0 157v2m1-168v1m0 156v1m7 173v1m1-325v1m3-1v1m1-1v1m0 325v1m4-327v1m0 318v1m3-320v1m0 323v1m7-326v1m0 1v1m1-2v1m1 0v1m5-3v1m0 325v2m2-328v1m0 327v1m5-329v1m0 139v1m1-140v1m4-13v1m0 10v1m0 1v1m0 318v1m1-332v1m4 9v1m3 1v1m2-2v2m0 141v1m1-144v2m0 141v1m4-144v1m0 158v1m2-161v1m0 145v1m0 162v1m5-150v1m7-183v1m0 163v1m0 4v1m0 157v1m2-306v1m0 1v1m0 144v1m3-148v1m3-11v2m1 1v1m0 1v1m0 4v1m0 1v1m4-27v2m0 18v1m1 325v1m6-162v1m1-164v1m0 151v1m0 172v1m7-320v1m1 322v1m5-2v1m1-325v1m1 327v1m7-333v1m6-3v1m0 334v1m1-351v1m11 349v1m1-334v1m1 162v2m7-161v1m0 156v1m5 10v2m9-7v1m1 157v1m3-4v1m4-318v1m0 159v1m3-166v1m1 161v1m1-6v1m7 165v1m5-325v1m1 163v1m1 147v1m3-306v1m0 155v1m4-158v1m7 160v1m1-169v1m0 1v1m0 163v2m11-165v1m1 164v1m5 21v1m0 139v1m1-331v1m4 8v1m3-6v2m0 3v1m1 156v1m0 162v1m3-3v1m3-324v1m1 158v1m0 162v1m6-328v2m0 7v1m5 153v1m1-157v1m1 159v1m0 3v1m5-3v1m1-165v1m1 327v1m3-324v1m3 155v1m1-3v1m3-2v1m3-161v1m1-4v1m0 167v1m7-6v1m0 166v1m1-168v1m0 166v1m3-331v1m0 4v2m0 160v1m1 161v1m0 7v1m6-171v1m0 168v1m1-334v1m0 1v1m0 324v1m0 5v1m1-337v1m6 326v1m0 11v1m1-177v1m0 164v1m0 9v1m3-177v1m0 173v1m3-173v1m2-159v1m5 322v1m0 7v1m1-8v1m6-330v1m1 161v1m0 165v1m0 1v1m1-169v1m0 165v1m0 1v1m4-167v1m0 164v1m0 1v1m1-165v1m0 164v1m5-333v1m8 3v1m8 157v1"/>
<path stroke="#dfff20" stroke-width="2" d="M174 271v1m66 159v1m2-163v1m5 0v1m0 1v1m7 158v1m15 165v1m2-326v1m3 324v1m2-165v1m0 163v1m7-328v1m0 329v1m8-331v1m7 1v1m14 328v1m12-328v1m15-8v1m12-64v1m7-10v1m5 2v1m7 38v2m0 36v1m8-80v2m0 208v1m2-212v1m0 73v1m0 1v1m0 131v1m3-157v1m2-38v2m0 23v1m0 11v1m0 158v1m2-181v1m0 3v2m3 176v2m0 187v1m2-400v2m0 31v1m0 5v1m0 2v2m0 2v1m0 25v1m0 139v1m5-199v2m0 20v1m0 13v1m0 13v2m0 3v1m3-61v1m0 28v1m0 13v1m0 2v1m0 153v1m0 6v1m4-14v1m0 12v1m0 16v1m3-207v1m0 24v1m0 155v2m5-3v1m0 1v1m0 176v1m2-157v1m0 158v1m3-355v1m0 336v1m2-337v1m0 164v1m0 19v1m0 145v1m0 5v1m0 22v1m2-357v2m0 172v1m0 2v1m0 157v1m0 5v1m3-320v1m0 331v1m2-168v1m0 154v1m5-355v2m0 342v1m0 1v1m2-330v1m0 325v1m8-301v1m0 135v1m0 7v1m0 19v1m0 152v2m5-158v1m9-181v2m0 19v1m5 161v1m0 143v1m5-332v1m0 338v1m2-341v1m8 6v1m0 159v1m7 2v1m5-145v1m0 313v1m0 1v1m2-317v1m5 312v1m7-314v1m0 318v1m15-320v1m5-12v1m0 329v2m0 9v1m2-331v1m5 316v2m0 5v1m2-325v1m5-8v2m0 163v1m0 161v1m8-325v1m0 3v1m0 311v1m0 9v1m12-326v1m0 2v1m0 318v1m2-320v1m5 314v1m2-317v1m0 160v1m0 154v1m3-313v1m0 159v1m9 0v1m5-165v1m0 1v1m0 151v1m8-136v1m7-17v2m0 8v1m0 137v1m2-165v1m12 21v1m13-9v1m2-5v1m0 2v1m0 319v1m7-321v1m12-12v1m0 10v1m0 156v1m0 168v1m8-327v1m0 321v1m0 1v1m4-166v1m3 170v1m5-349v1m0 17v1m2-18v1m5-3v1m0 13v1m2 3v1m10-1v1m0 148v1m0 168v1m3-319v1m0 144v1m0 173v1m7-320v1m0 316v1m5-158v1m2-161v1m0 1v1m0 144v1m0 166v2m0 4v1m7-317v1m0 148v1m0 6v1m0 149v2m5-311v1m0 158v1m0 159v1m3-321v1m0 149v1m9 9v1m3-12v1m5 10v2m0 160v1m7-163v1m7 166v1m7 2v1m3-171v2m12 170v1m12-173v1m0 1v1m2-160v2m5-10v1m3 174v1m5-12v1m0 4v1m4 0v1m0 149v1m0 4v1m3-163v1m0 159v1m5-9v1m2 6v1m5-307v1m0 306v1m10-321v1m0 4v1m19 160v1m12-168v1m3 327v1m4-330v1m0 2v1m0 323v1m8-165v1m5-2v2m0 2v1m2-159v1m5 155v2m0 167v1m10-4v1m7-2v1m17-4v1m17-328v1m0 168v1m12-164v1m0 330v1m7-337v1m5 5v1m2-1v1m0 1v1m5-2v1m0 154v1m8-1v1"/>
<path stroke="#ffff00" stroke-width="1" transform="translate(.5)" d="M231 429v1m7-2v2m12 0v1m1 0v1m4-1v1m7 0v1m4-3v1m6-159v1m0 158v1m7 163v1m1-164v1m0 162v1m1-164v1m0 162v1m3-164v1m2-4v1m1-164v1m0 1v1m1-3v1m0 1v1m5 326v1m0 3v1m3-330v1m0 323v1m3-327v1m0 330v1m1-6v1m1-329v1m5 328v1m7-329v1m0 325v1m0 9v1m1-10v1m0 7v1m4-2v1m2-333v1m0 2v1m1 322v1m1-1v1m4-166v1m0 2v1m1-163v1m0 324v1m0 5v1m3-173v1m4 1v1m6-2v1m1 163v1m6-165v1m0 162v1m0 9v1m1-172v1m0 161v1m0 7v1m1-171v1m3 162v1m0 5v1m1-5v1m7-171v1m1-157v1m3 153v1m3-226v1m0 74v1m1-3v1m3-81v2m0 43v1m0 30v1m0 291v2m4-161v1m1-167v1m17-34v1m0 163v2m0 227v1m1-367v1m0 180v1m0 185v1m7-388v1m0 26v2m0 165v1m0 4v2m0 2v1m4-183v1m3-4v1m0 173v1m0 1v1m0 9v1m0 163v1m1-307v1m1-24v1m0 316v1m5 16v1m7-317v1m5 0v1m0 136v1m1 12v1m0 2v1m6-222v1m1 26v2m0 20v2m0 16v1m0 303v1m4-304v1m3 0v2m0 301v1m2-334v1m0 162v1m5-132v1m1 160v1m1-1v1m10 141v2m1-173v1m7 193v1m2-349v1m1-1v1m1-3v1m3 22v1m1 314v1m0 2v2m0 1v1m1-322v1m5 318v1m1 3v1m0 7v1m1-348v1m0 334v1m0 4v1m0 5v1m5-186v1m6-146v1m7 149v1m1 172v1m0 7v1m1-344v1m0 11v1m0 329v1m1-343v1m0 11v1m1 319v1m4 0v1m0 7v1m1-343v1m0 334v1m0 5v1m1-342v1m1 334v1m5-323v1m0 155v1m0 162v2m5 4v1m1-335v1m1 8v1m5-9v1m0 166v1m5 165v1m1-326v1m0 157v2m1 168v1m6-332v1m1 315v1m0 2v1m3-322v1m5 3v1m0 319v1m17-320v1m1 7v1m6-9v1m0 166v1m2 151v1m3-305v1m0 300v1m0 4v1m3-15v1m7-295v1m0 5v1m0 291v2m0 8v1m1-165v3m0 167v1m1-13v2m5-326v1m0 7v2m1 147v1m1-160v1m0 7v2m0 20v2m0 129v1m4-157v1m0 5v1m0 25v1m0 1v1m1-36v1m0 13v1m0 139v1m1-148v1m1-1v1m3 6v1m0 15v2m2-27v1m0 3v1m1-8v1m0 159v2m1-162v1m0 159v2m1-157v1m3 155v1m0 16v1m1 152v1m1-181v1m5-147v1m2-6v1m0 3v2m0 307v1m6-158v1m0 169v1m1 0v1m5-322v1m0 149v1m5 171v1m1 0v1m4-169v1m0 163v1m4-337v1m3 15v1m5-1v1m5-21v1m0 20v1m2-2v1m0 152v1m0 165v1m5-319v1m0 138v1m2-141v1m3-1v1m0 147v1m0 175v1m1-176v1m4-150v2m4-2v1m3-1v1m0 143v1m3-154v1m2-4v1m0 331v1m6-327v1m0 154v1m1-11v1m0 6v1m5-169v1m0 21v2m0 143v1m2-159v1m0 2v1m0 151v1m6-143v1m4 149v1m1 9v1m1-160v1m0 318v1m3-317v1m3 142v1m2 0v1m7-156v1m0 4v1m5 160v1m0 169v1m1-331v1m1 326v1m10 1v1m3-326v1m1-25v1m0 348v1m1-327v1m0 157v1m3-159v1m0 330v1m2-332v1m5 158v1m1-164v1m6 3v1m2-8v1m5 5v1m1-5v1m1 163v1m8-160v1m10 159v1m1-2v1m7-160v1m1 311v1m5-4v1m8-312v1m2 156v1m6 2v1m5-163v1m8 191v2m6-187v1m0 320v1m7-325v2m4 154v1m4-163v1m0 1v1m0 321v1m1-323v1m4 322v1m1-165v1m5-165v1m0 3v1m0 162v1m0 1v1m2-12v1m0 11v1m0 164v1m5-327v1m0 325v1m2-166v1m3-6v1m3-163v1m4 165v1m0 162v2m3-332v1m1 162v1m1 169v1m5-331v1m0 161v1m1 169v1m1-1v1m5-328v1m6-9v1m1 328v1m5-323v1m0 319v1m1-328v1m1 327v1m0 7v1m3-170v1m3 159v1m0 9v1m1-330v1m0 317v1m0 9v1m6-336v1m0 327v1m0 5v1m1-171v1m7 163v1m1-1v1m3-168v1m7 3v1m0 163v1m2-3v1m3-2v1m0 1v1m3-324v1m2-6v1"/>
<path stroke="#ffff00" stroke-width="2" d="M169 271v1m71 156v1m2-158v1m2 159v1m13-162v1m17 0v1m9 322v1m15 5v1m5-169v1m0 162v1m9-3v1m25-386v1m0 387v1m19-393v1m0 28v2m0 362v1m2 0v1m5-171v1m0 166v1m3-406v1m0 235v1m4-153v1m0 320v1m3 0v1m5-348v1m2-58v1m0 77v1m3-70v1m0 44v1m0 349v1m2-351v1m0 155v1m2-176v1m0 12v1m0 153v2m3-160v1m7-31v2m0 22v1m0 4v1m0 35v1m0 129v1m3-190v2m0 35v1m0 2v1m4-25v1m0 5v2m3-2v2m0 38v1m0 129v1m5-162v1m0 26v1m0 159v1m0 155v2m2-319v1m3 301v1m2-337v1m0 34v1m0 315v2m2-175v1m0 177v1m0 14v1m3-346v1m2 155v1m5-209v1m0 202v2m0 157v1m0 1v1m0 3v1m2-336v1m0 165v2m5 160v1m3-165v2m5-150v1m0 174v1m2-195v1m5 333v1m2-333v1m3 332v1m7-309v1m0 4v1m2-2v1m0 308v1m8 20v1m5-21v1m0 4v1m0 6v2m0 1v1m2-183v2m5 174v2m2 10v1m5-186v1m0 168v1m0 6v1m22 1v1m5-2v1m7 0v1m7-5v1m8-5v1m4-320v2m0 311v1m0 6v1m10-9v1m7-309v1m0 321v1m3-323v1m0 316v1m2-314v1m5 308v1m2-305v1m8 6v1m0 305v1m7-323v1m5-6v1m0 327v1m2-336v1m0 159v1m0 162v1m0 9v2m5-322v1m0 328v1m7-331v1m0 1v1m0 160v2m13-165v1m0 146v1m0 1v1m2-158v1m5 318v1m0 5v1m2-170v1m0 166v1m0 5v1m5-323v1m0 1v1m2-9v1m10-11v1m3 1v1m4 13v1m0 1v1m3-2v1m0 158v1m0 168v2m7-331v1m0 1v1m5-2v1m0 150v1m7-152v1m5-1v1m0 318v1m3-320v1m7 0v1m0 142v1m5-154v1m0 7v1m0 1v1m0 147v1m2-153v2m0 140v1m0 175v1m5-315v1m0 314v1m2-318v1m0 1v1m0 149v1m0 8v1m5 152v1m3-313v1m4-3v1m0 1v1m0 320v1m15-173v1m0 9v1m0 160v1m5-319v1m2 324v1m8-168v1m4-165v1m0 161v1m0 1v1m3-165v1m0 4v1m10 326v1m0 7v1m2-6v1m5-172v1m2-4v2m7-164v1m5 331v2m3-176v1m0 7v1m0 7v1m0 154v1m5-6v1m4-159v1m3-158v1m0 312v1m14-157v1m0 148v1m13-153v1m2 3v1m5-2v1m7-1v1m5-167v1m0 160v1m0 3v1m2-165v1m0 330v1m5-332v1m3-1v1m0 329v1m7-166v1m5-165v1m0 4v1m0 156v1m5 2v1m2-6v1m7-4v1m5 169v1m7-325v1m8 327v1m2-7v1m10-330v1m0 327v1m2-168v1m0 168v1m5 5v1m15-170v1m2-158v1m12 152v1m15-161v1m5 163v1m2-3v1"/>
<path stroke="#ffdf00" stroke-width="1" transform="translate(.5)" d="M221 427v1m29-158v2m8 156v1m8 2v1m6-2v1m7 165v1m0 1v1m6-330v1m4 324v1m3-326v1m0 160v1m1 165v1m0 1v1m3-169v1m3-160v1m0 160v2m0 162v1m9 4v1m6-329v1m0 319v1m1-321v1m0 319v1m3-321v1m0 160v1m2 161v1m5-163v1m2 162v1m0 3v1m1-328v1m1-1v1m1 156v1m4-163v1m0 161v1m1 170v1m7-171v1m5 162v1m0 7v1m1-173v2m0 163v1m0 5v1m1-172v2m10-168v1m1 0v1m4 8v1m3-76v1m8 68v1m0 326v1m1-369v1m0 42v1m17-74v2m0 2v1m0 37v2m0 1v1m1-16v1m0 9v1m0 12v1m0 177v1m0 167v1m4-360v2m7-7v1m3 198v1m1-161v1m1-34v1m0 332v1m5-302v1m12 135v1m0 6v2m0 162v1m0 5v1m0 1v2m1-170v1m0 155v1m6-162v1m1-180v2m4 35v1m0 161v1m5 138v1m5-305v1m7-4v1m6 5v1m0 304v2m6-310v1m1-1v1m1 326v1m0 3v1m1-351v1m1-1v1m4 0v1m1 342v1m6-12v1m0 6v1m1 5v1m0 5v1m1-186v1m5 173v1m0 5v1m1-179v1m0 168v1m1-170v1m0 168v1m3-1v1m1-333v1m1 0v1m0 163v1m0 180v1m1-181v1m0 164v2m0 4v1m0 3v1m1-176v1m0 164v2m0 4v1m0 3v1m3-13v1m0 3v1m0 3v1m1-335v1m0 161v1m2 165v2m1-2v2m1-6v2m0 6v1m0 8v1m3-177v1m0 174v1m4-173v1m4 172v1m7-3v1m0 3v1m1-14v2m5 4v1m0 9v1m1-10v1m0 7v1m1-8v1m4-8v1m2-326v1m0 1v1m1-3v1m0 1v1m4 322v1m1-160v1m0 155v1m3-8v1m12-310v1m11 314v1m0 3v1m8-2v1m6-301v1m0 290v1m1-139v1m0 148v1m6-311v2m0 3v1m1 140v1m0 4v2m0 1v1m0 162v1m1-178v2m6 178v1m5-305v1m0 1v1m0 296v1m1-314v1m0 312v1m1-330v1m0 153v1m1-155v1m0 153v1m3 11v2m1-17v1m1 176v1m0 5v1m1-161v2m0 151v1m1-154v2m0 151v1m4-177v1m0 173v1m2-4v1m5-323v1m0 151v1m7-148v1m2 148v1m0 167v2m5-332v1m0 11v1m1 154v1m4 164v1m15-320v1m0 324v1m8-172v1m1 165v1m0 9v1m5-331v1m0 149v1m1-167v1m5 338v1m1-6v1m6-173v1m2 168v1m1-1v1m4-327v1m0 326v1m2-330v1m0 12v1m0 316v1m6-325v1m1 146v1m7-141v1m0 142v1m3-144v1m0 158v1m4-160v1m4 318v1m0 2v1m1-324v1m3 323v1m3-165v1m2-11v2m6-152v1m0 2v1m18 327v1m3-333v1m1 159v1m0 174v1m1-175v1m3 2v1m0 174v1m2-176v1m0 173v2m5 0v1m7-338v1m7-9v2m2-4v1m0 166v1m0 1v1m3-2v1m0 1v1m3-162v1m1 162v1m4 154v1m0 1v1m1-322v1m0 1v1m3 159v1m3-168v1m0 313v1m2-152v1m5-165v1m1 322v1m1-160v1m7 4v1m3-1v1m3-164v1m1-3v1m1 160v1m6-162v1m0 163v1m1-166v1m10 194v1m2 0v1m5-196v1m0 165v1m0 20v1m1-189v1m0 1v1m0 328v1m1-325v1m0 177v3m3-181v1m0 321v1m3-325v1m4 321v1m4-321v1m1-1v1m0 156v1m0 159v1m0 1v1m3-320v1m0 321v1m1-328v1m0 323v1m1-327v1m0 161v1m5 0v1m0 1v1m1-164v1m1 158v1m6-160v1m1-3v1m0 328v2m3-324v1m7 160v1m3-169v1m0 1v1m2 161v1m5 168v1m6-335v1m0 2v1m0 325v1m0 5v1m6-329v1m0 155v1m0 1v1m1-163v1m0 330v1m1-168v1m5-162v1m0 156v2m0 169v1m1-8v1m0 9v1m4-9v1m3-326v1m0 159v1m0 1v1m1 160v2m6-326v1m1 0v1m18-4v1m0 4v1m1-3v1m1 161v1m0 162v1m6-325v1m1 1v1m1 154v1m5-159v1m2 157v1"/>
<path stroke="#ffdf00" stroke-width="2" d="M244 428v1m3-160v1m0 1v1m2-3v1m0 2v1m8 156v1m0 1v1m12-4v1m2 3v1m7-162v1m13-7v1m12 165v1m7-160v1m27 160v1m2-1v1m5-162v1m2 319v1m5-323v1m5 328v1m2-329v1m5-29v2m0 352v1m3-407v1m0 6v2m4 42v2m0 27v1m3-80v1m5-17v2m0 70v1m0 346v2m2-404v1m0 63v1m3-58v1m2 25v1m0 176v1m2-163v1m0 167v1m3-207v1m0 33v1m0 5v1m2-26v2m5 11v1m0 176v2m3-184v1m0 21v1m4 159v1m3-166v1m5-2v1m0 171v2m0 148v1m0 12v1m2-340v2m0 185v1m0 146v2m0 15v1m0 3v1m3-323v1m0 153v1m0 156v2m2-348v1m0 30v1m0 325v1m0 1v1m2-34v1m0 38v1m3-382v2m0 192v2m0 156v1m0 17v1m2-175v1m0 1v2m0 4v1m0 8v1m5-226v1m2 31v2m0 329v1m5-301v1m3-2v2m0 140v1m5-154v1m0 142v1m2-134v1m5 0v1m0 305v1m7-147v1m0 143v1m5-171v1m0 174v1m2-2v1m8 15v1m5-14v1m0 5v1m0 6v1m2-340v1m0 331v1m0 1v1m5-175v1m0 172v1m2 1v1m12-2v1m8 0v2m0 1v1m12-167v1m0 164v1m0 3v1m9 0v1m13-14v1m4-156v1m0 167v1m3-331v1m5 311v1m9 12v1m5-159v1m5 1v1m15-4v1m9 149v1m0 16v1m5-158v1m7-24v1m8-4v1m5 1v1m2-158v1m5 320v1m2 3v1m7-163v1m10-155v1m15-20v1m2-2v1m0 177v1m5-163v1m2 3v1m13 145v1m7-147v1m0 146v1m5-158v1m2-1v1m0 9v1m0 139v1m5-142v2m2-1v1m0 146v1m8-148v1m19 148v1m0 9v1m7 0v1m8 166v1m4-326v1m8-10v1m0 3v1m0 337v1m5-6v1m9-335v1m7 4v1m5-1v1m12 314v1m3-320v1m7 159v1m5-149v1m7 294v1m8-145v2m14 29v2m5-35v1m0 29v1m0 3v1m2 133v1m5-164v1m3-166v1m4-3v1m0 327v1m3-331v1m0 166v1m0 161v1m12-322v1m15-3v1m4 161v1m0 162v1m3-332v1m5-1v1m2 335v1m5-348v1m0 16v1m5 329v1m2-169v1m7 168v1m5-9v1m15-6v1m2-319v1"/>
<path stroke="#ffbf00" stroke-width="1" transform="translate(.5)" d="M228 429v1m3 0v1m2-1v1m18-2v1m7-1v2m8-158v1m6-1v2m0 154v1m0 2v1m7 164v1m6 2v1m4-335v1m0 1v1m0 331v1m3-334v1m2-1v1m0 2v1m0 159v1m0 163v1m0 5v1m1-334v1m0 2v1m0 159v1m0 163v1m0 5v1m4-332v2m0 324v1m7-329v1m0 164v2m7-3v1m0 162v1m0 7v1m1-8v1m1-1v1m5-326v1m1 159v1m0 170v1m1-172v1m0 170v1m3-328v1m2-5v1m3 162v1m3 168v1m1-330v1m6-2v1m2-1v1m0 157v1m0 165v1m5-328v1m7-6v2m0 2v1m5 327v1m9-325v1m3 322v2m4-363v1m1-41v1m0 34v1m0 40v1m17-35v1m0 5v1m0 1v2m0 1v1m1-19v1m0 9v1m0 10v1m4-19v1m0 182v1m3-167v1m0 180v1m4-182v1m0 20v1m0 141v2m3-177v1m0 7v1m0 9v1m2-40v2m0 20v1m17 165v1m0 28v1m0 157v1m7-370v2m0 188v1m0 4v1m0 5v1m5-184v1m0 331v1m3-143v1m0 2v1m2-195v1m5-1v1m0 335v1m12-173v1m1-138v1m7-20v1m0 331v1m2-308v1m0 326v1m1-328v1m0 326v1m1-14v1m4 4v1m1-180v1m5 170v1m0 17v1m7-346v1m0 332v1m1-173v1m0 173v1m0 9v1m1-185v1m0 173v1m0 9v1m3-14v1m1 7v1m2-179v1m1-1v1m3 166v3m2 7v1m0 5v1m1-8v1m0 5v1m1-7v1m1-338v1m4 335v1m0 5v1m1-176v1m0 173v1m1-175v1m1-167v1m0 2v1m0 326v2m0 9v1m3-176v1m9-161v1m0 162v1m5 1v1m1-166v1m0 166v1m0 164v1m1-333v1m0 166v1m0 165v1m3-333v1m0 165v1m0 154v2m1 0v1m0 6v2m2-168v1m1-1v1m1 156v1m7-3v1m3-156v1m0 149v1m9-149v1m0 149v1m5-152v1m5-153v1m1 155v1m0 152v1m7-2v1m8-145v1m1-173v2m0 157v1m5 6v1m1-148v1m0 133v1m1-135v1m5 128v1m1-137v1m1 318v1m3-162v2m7-177v1m2 4v1m3-5v1m4 326v1m6-174v1m14-150v1m1 154v1m1 170v1m3-7v1m5-339v1m4 0v1m3 1v2m0 169v1m0 171v1m3-1v1m7-329v1m2 154v1m6 169v1m4-179v1m1-3v1m0 171v1m1-172v1m3-1v1m3-3v1m2 173v1m1-1v1m1-173v1m3-157v1m1 155v1m7 1v1m1-159v2m0 321v1m5-319v1m0 315v1m9 6v1m5-323v1m3 6v1m0 146v1m4 172v1m1-3v1m20-323v1m1 330v1m3-2v1m3 1v1m1-335v1m1-1v1m3 163v1m2-3v2m5-2v1m0 177v1m14-342v1m0 164v1m2-166v1m3 163v1m3-163v1m1 160v2m1-168v1m0 166v1m3-170v1m4 166v1m3-2v1m7-164v1m0 2v1m0 6v1m0 309v1m8-156v1m1-163v1m13 0v1m1 163v1m4-6v1m7 34v1m0 133v1m1-328v2m6 165v1m0 161v1m1-332v1m0 5v2m1 179v1m3-28v1m0 169v1m10-326v1m1 156v1m1-2v2m0 161v1m4-164v1m1-161v1m0 328v1m5-326v1m15-5v1m4 325v1m10-328v1m0 327v1m1-324v1m1-1v1m3 156v1m2 161v1m5-321v1m1-6v1m1 2v1m5 160v2m1-165v1m0 162v1m0 162v1m0 7v1m1-170v1m0 167v1m6-171v1m0 162v1m0 7v1m1-8v1m1-167v1m5-162v1m0 327v1m7-168v1m0 171v1m6-331v1m0 157v1m0 1v1m6 161v1m1-325v1m1 326v1m14-328v1m1 162v1"/>
<path stroke="#ffbf00" stroke-width="2" d="M237 428v1m3 1v1m2-161v1m0 157v1m2 1v1m3-1v1m2-161v1m0 159v2m8-2v1m7-3v1m7-155v1m0 154v1m5-159v1m7-5v1m0 165v1m15 160v1m12 5v1m2-329v1m12-5v1m8 327v1m5-390v1m0 65v1m2 322v1m12-167v1m0 165v1m5 1v1m2-2v1m5-331v1m10-75v1m5 78v1m2-29v2m5-19v1m0 21v1m0 19v1m0 326v1m5-399v2m0 42v1m7 186v1m3-203v1m0 202v1m4-191v2m0 167v1m0 2v2m3-172v1m0 162v1m0 26v1m5-203v1m0 10v1m0 190v1m0 132v1m0 10v1m0 6v1m2-354v1m0 3v2m0 188v1m0 161v1m0 5v1m3-347v2m2-11v1m0 362v1m2-361v2m0 321v1m0 26v1m3-18v1m0 8v1m0 1v1m0 2v1m2-30v2m0 26v1m7-374v1m0 18v2m0 166v1m5 5v2m0 25v1m3-4v1m5-28v3m2 166v1m5-334v1m0 162v1m0 172v1m2-175v1m3-1v1m0 28v1m7 145v1m15-323v1m0 158v1m7 2v1m2-2v1m5 170v1m7 4v1m22-329v1m12 166v1m8 0v1m0 155v1m0 4v1m0 1v1m4-10v2m0 9v1m8-16v1m2 2v2m7-5v1m5-306v1m0 307v1m0 3v1m7-311v1m0 310v1m5-164v1m3 161v1m7 7v1m5-177v1m0 171v2m2-330v1m5 177v1m0 152v1m7-177v1m0 20v2m22-20v1m24-152v1m3-18v1m0 341v1m7-326v1m5 328v1m7-183v1m5 173v1m3-6v2m7-329v1m5 10v1m7-9v1m0 156v1m10-161v1m0 328v1m4-327v1m8 1v1m0 2v1m0 324v1m5 1v1m21 5v1m8-171v1m0 173v1m5-4v2m7-176v1m14 1v1m12 3v1m10 147v1m7-317v1m0 313v1m0 4v1m8-156v1m7 1v1m5-165v1m0 163v1m5-1v1m0 29v1m0 133v1m2-165v1m0 165v1m7-3v1m12-167v1m3 160v1m5 2v1m7 2v1m7-171v1m5 169v1m3-332v1m0 162v1m0 5v1m4 159v1m8 3v1m12-330v1m0 155v1m2-162v1m0 161v1m0 173v1m5-169v1m10 161v1m7-325v1m0 2v1m7 321v1m12-169v1m0 3v1m15-5v1m0 2v2m5-159v1m0 321v2"/>
<path stroke="#ff9f00" stroke-width="1" transform="translate(.5)" d="M232 427v1m1 3v1m22-161v1m0 158v1m3-159v1m4 0v1m5 0v1m13 324v1m1-1v1m3-169v1m2-2v2m1-165v1m1-1v1m1 165v1m3-166v1m1 328v1m1-329v1m1-1v1m1 161v1m3-1v1m1-165v1m13 4v1m0 322v1m0 5v1m1-335v1m1-1v1m3 164v1m0 2v1m1-168v1m0 165v1m0 156v1m2-158v1m1-1v1m4 161v1m1 1v1m0 1v1m7 0v1m6-170v1m0 168v1m1-329v1m1 159v1m5-2v1m0 163v1m0 5v1m1-6v1m0 3v1m1-5v1m0 3v1m3-339v1m0 168v1m1 167v1m8-333v1m3 327v1m3-2v1m4-325v1m4-37v1m1-41v1m17-6v1m5 42v1m0 14v2m0 164v1m3-181v2m0 12v1m0 20v1m0 143v1m4-174v2m0 6v1m0 182v1m3-196v1m0 7v1m0 9v1m2-14v1m0 188v2m5-162v1m12 159v1m0 148v1m0 3v1m0 6v1m1-385v2m0 368v1m0 1v1m6-10v1m1-299v1m0 299v1m4-333v1m0 30v1m3 301v1m2-304v2m7-2v1m10 132v1m1 0v1m6-134v1m1 325v1m1-1v1m0 1v1m1-351v1m1-1v1m1 338v1m4 6v2m1-10v2m0 8v1m5-10v1m1 8v1m1-343v1m0 160v1m5-161v1m0 332v1m5-172v1m0 173v1m1-5v1m1 10v1m1-15v2m1-2v2m3-8v1m0 10v1m1-333v1m0 337v1m1 0v1m0 3v1m1-180v1m1-1v1m1 1v1m3-166v2m0 324v1m1 9v1m0 3v1m1-340v2m1-2v2m11 165v1m1 173v1m6-6v1m0 7v1m5-175v1m1 168v2m2-170v1m0 161v1m1-163v1m0 161v1m11-325v2m2 313v1m7-155v1m11-152v1m6 2v1m0 304v2m1-308v1m0 159v1m0 1v1m1 146v1m8-147v1m0 145v1m0 4v1m6-309v1m0 135v1m0 2v1m0 169v1m6 5v1m1-339v1m0 22v1m0 312v1m4-5v1m7-332v1m1 10v1m1 319v1m0 3v1m1-180v1m1-1v1m1-156v1m4 330v1m1-1v1m12-332v1m12 160v1m0 170v1m1-2v1m4-168v1m0 165v2m10-170v1m2 168v1m5-171v1m2-175v1m5 346v1m2-342v1m3-1v1m0 333v3m5-5v1m3-320v1m0 140v1m2 175v1m1-1v1m1-173v1m0 172v1m4-1v1m1-324v1m0 313v1m0 8v1m7-176v2m7 167v1m3-322v1m0 158v1m0 169v1m4-172v1m0 169v1m3 2v1m1-175v2m7-147v1m0 146v1m1-157v1m8-1v1m0 329v2m5-166v1m2-163v1m7-1v1m0 3v1m0 325v1m6-328v1m1 0v1m0 158v1m5-161v1m13-6v1m0 162v3m1-162v1m8-9v1m0 166v1m3-164v1m5-3v1m3 166v1m8-161v1m1 160v1m0 149v1m5-310v1m0 2v1m1 154v1m1 0v1m7 142v1m0 1v1m3-311v1m4 161v2m1 0v1m0 147v1m7-150v1m3-3v1m0 3v1m2-165v1m5 328v1m1-327v1m6 186v1m1 139v1m1-168v1m3-4v1m7 1v1m4-1v1m4-4v1m1-159v1m6-6v1m0 169v1m0 163v1m1-330v2m1 159v1m17-3v1m0 4v1m4 163v1m1-329v2m0 325v1m5 1v1m1-330v2m1-2v2m4 324v1m0 3v1m1-8v1m5-164v1m1 165v1m1 4v1m6-333v1m1 159v1m3-1v1m3 165v1m0 5v1m1-169v1m6 166v1m1-172v2m0 1v1m6-1v1m5-4v1m1-163v1m0 328v1m6 2v1m2-328v1m0 156v1m3-157v1m4 155v1m1 2v1m0 163v2"/>
<path stroke="#ff9f00" stroke-width="2" d="M220 428v1m3 2v1m19-1v1m2-161v1m3 157v1m2-2v1m27-159v1m56 159v1m5 171v1m2-173v1m0 1v1m17-163v1m7 325v1m3-172v1m4-234v2m3 76v1m0 1v1m5-4v1m2-14v1m3 14v1m2-30v2m2 164v1m3-207v1m0 35v1m2-43v1m0 50v1m12-19v1m0 7v1m0 192v1m3-187v2m0 25v1m5-41v1m0 8v1m0 30v1m0 159v1m0 148v1m0 1v1m2-352v1m0 347v1m0 8v1m3-353v1m0 187v1m2-157v1m0 327v1m0 2v1m2-330v1m3 149v2m0 164v1m0 4v1m2-178v2m0 165v1m0 2v1m0 3v1m0 1v2m5-192v1m0 175v1m2-365v1m0 218v1m0 1v1m5-164v1m0 159v1m0 140v1m8-141v1m2-191v1m0 333v1m5-326v2m2 150v1m0 173v1m10-171v1m2 170v1m8 6v1m7 0v1m5-330v1m2 332v1m12-334v1m0 339v1m8-337v1m7 165v1m7 1v1m5-168v1m0 168v1m2-1v1m5 167v1m8-14v1m21-313v1m10 3v1m2 158v1m0 147v1m0 3v1m13-155v1m7-168v1m0 331v1m2-328v1m0 149v1m25 24v1m2-182v1m5 155v1m7-152v1m12 325v1m10-343v1m19 337v1m15-4v1m7-329v1m7 323v1m5-169v1m3 171v2m4-330v1m0 4v1m0 3v1m5 318v1m3 0v1m7-318v1m12 156v1m3-1v1m12 172v1m5-173v1m2-3v1m0 1v1m5-166v1m0 161v1m2 1v1m12-165v1m0 163v2m3-1v1m5-160v1m0 318v1m4-325v1m0 161v1m3 154v1m7-318v1m7-2v1m0 5v1m0 309v1m15-151v1m5-3v1m5 29v1m0 136v1m2-2v1m12-2v1m10-329v1m10 4v1m0 156v1m2-1v1m7-3v1m0 4v1m12-2v1m3-163v1m0 328v1m7-330v2m5-17v1m12 172v1m2 4v1m15-5v1m0 1v1m7-4v1m5 3v1m5-5v1m2 164v1m5 4v1m3-171v1m0 168v1m5-329v1"/>
<path stroke="#ff8000" stroke-width="1" transform="translate(.5)" d="M217 430v1m8-4v1m25 1v1m1 0v1m4-2v1m7-158v1m5 159v1m13-3v1m0 166v1m1-168v1m0 166v1m5-3v1m8-328v1m1-1v1m1 164v1m5 0v1m5-165v1m1 163v1m6-3v2m6-161v1m1-3v1m0 325v1m0 1v1m1-332v1m1-1v1m8 163v1m3-165v1m19 164v1m1-171v1m0 335v1m11-331v1m0 325v1m7-323v1m22-42v1m0 4v1m0 8v1m0 153v1m0 28v1m1-234v1m1 71v1m6-33v2m0 174v1m7 18v1m2-192v1m0 175v2m17-13v1m0 174v1m0 1v1m1-315v2m0 163v1m0 145v1m6-164v1m0 5v1m5 148v1m5-142v1m0 142v1m5-174v1m0 3v2m1 26v1m1-165v1m11-2v1m7 141v1m1 187v1m3-13v1m0 2v2m3-180v1m0 1v1m0 171v1m0 2v1m1 10v1m1 1v1m13-345v1m1-1v1m5 340v1m5-179v1m0 159v1m0 11v1m3-2v2m1-2v2m1-6v2m3-3v1m8 10v1m1-171v1m6 172v1m6-4v1m0 5v1m1-6v1m4-168v1m3 169v1m1-1v1m1-14v1m3-7v1m1 3v1m8-317v1m0 159v1m5-158v1m12 312v1m1-309v1m0 157v1m6 1v1m0 151v1m2-152v1m3 1v1m3 143v2m2-296v1m0 130v1m0 17v1m6-7v1m1-149v1m5-10v2m1-14v1m0 332v1m1-337v1m0 16v2m0 300v1m4-320v1m1 0v1m1 323v1m1-1v1m3-167v1m1-1v1m1-150v1m0 324v1m0 1v1m3-181v2m0 173v1m0 4v1m3-2v1m1-4v2m6-6v1m0 1v2m2-173v1m0 169v1m7-2v1m5 1v1m0 3v1m2-340v1m8-2v1m3 341v1m4-2v1m12-171v1m0 171v1m5-346v1m0 1v1m0 340v1m1-1v1m1-176v1m5-4v1m0 172v1m3-6v3m3-320v1m0 142v1m2 3v1m1-1v1m6 163v1m0 8v1m5-329v1m7 323v1m2-1v1m7-168v1m3 0v1m0 169v1m2-323v1m3 162v1m3-168v1m0 4v1m2-26v2m0 23v1m5 326v1m9 1v2m15 4v1m3-174v1m0 175v1m2-176v1m5-2v1m2-159v1m14-2v1m3-7v1m4 1v1m1 161v1m0 1v1m3-170v1m0 167v1m1-161v1m3 159v1m0 153v2m3-314v1m1-5v1m6 6v1m0 156v1m2-159v1m0 310v1m5-158v1m0 3v1m1-165v1m4 162v1m15-1v1m14-167v1m0 330v1m1-325v1m8 0v1m3-6v1m0 4v1m10 155v1m0 162v1m5-165v1m9 0v3m6-165v1m1-3v1m7 164v2m1-3v1m0 1v1m0 163v1m6-341v1m0 15v1m1-17v1m0 15v1m4-5v1m0 328v1m0 1v1m1-330v1m0 324v1m6 3v1m1-171v1m6-163v1m0 327v1m0 5v1m8-1v1m6-5v1m0 1v1m7-170v1m5 167v1m7-1v1m5-171v1m0 169v1m4-330v1m6 2v1m2 156v1"/>
<path stroke="#ff8000" stroke-width="2" d="M230 431v1m5-5v1m2 3v1m5-3v1m2-160v1m0 158v1m5-159v1m5 158v1m7-160v1m0 2v1m3 157v1m7-160v1m12-8v1m20 0v2m0 1v2m0 326v1m2-333v1m0 163v1m5-160v1m0 162v1m0 160v1m22-165v1m12-2v1m0 165v1m2-4v1m0 2v1m0 5v1m20-417v1m0 7v2m4 76v1m3 322v1m10-326v1m2-23v1m2-71v2m0 91v1m3-78v1m0 1v1m0 42v1m0 29v1m2-73v1m0 5v1m0 64v1m5-29v2m3 30v1m4-37v1m0 33v1m0 1v1m8-37v2m0 34v2m0 134v2m2 168v1m0 1v1m3-344v1m0 29v1m0 140v2m0 174v1m0 11v1m2-328v1m0 308v2m0 18v1m2-189v2m0 4v2m3-149v1m0 160v1m0 2v1m2-165v1m0 142v2m0 8v2m0 7v1m5-162v1m0 133v2m2-5v1m5 29v1m3 0v1m12-167v1m0 307v1m5-142v1m2-31v1m5-134v1m0 134v1m0 172v1m2-173v1m13-155v1m0 161v1m2-162v1m5 0v2m0 335v1m0 4v1m2-10v1m12-6v1m8-159v1m7-164v1m5-1v1m7 340v1m15-173v1m7 148v1m0 3v1m7-314v1m5 160v1m2-160v1m0 1v1m0 154v1m3 157v1m9-316v2m0 311v1m5-302v1m0 154v1m8 156v1m2-175v1m0 169v1m7-322v1m5 14v1m0 134v1m0 14v2m0 150v2m20-144v1m0 141v2m2-326v1m7 0v1m5-5v1m7 164v1m0 169v1m5-168v1m0 166v1m3-170v1m4-175v1m0 2v1m8 340v1m0 2v1m2-174v1m0 158v1m7-166v1m10-5v1m3 168v1m7-326v1m19-4v1m3 3v1m4 327v1m5-170v1m3-149v1m0 318v1m14 3v1m15 5v1m5-330v1m5 159v1m7-4v1m2 2v1m5-163v1m15-8v1m0 328v1m4-162v1m8 152v1m7-311v1m15 157v1m12-4v2m7 1v1m2-165v1m0 189v2m5-28v1m3-160v1m4 158v1m3-6v1m0 163v2m5-164v1m0 160v1m7-161v1m5-159v1m0 322v3m7-324v1m3 158v1m4-6v1m3 3v1m0 162v1m5-165v1m2-182v1m0 181v1m10-7v1m0 1v1m7-160v1m0 324v1m2 5v1m5-167v1m3 165v1m5-332v1m0 158v1m7 166v1m2 5v1m5-332v1m0 329v1m12-8v1m0 2v1m8-168v1m7 1v1"/>
<path stroke="#ff6000" stroke-width="1" transform="translate(.5)" d="M221 428v1m4 0v1m8-1v1m25-157v1m0 157v1m4-1v1m5-160v1m0 155v1m19 3v1m1-3v2m1-2v2m1 0v1m12 167v1m5-333v1m2-3v1m0 163v1m10-163v1m1 163v1m0 168v1m1-2v1m1-328v1m1-1v1m4 157v1m1 167v1m1-167v1m1-1v1m1-161v1m0 327v1m3-169v1m7-166v1m1 161v1m0 165v1m6-331v1m0 3v1m0 326v1m0 3v1m7-336v2m10-69v1m0 5v1m7-20v1m0 3v1m0 81v1m4-1v1m0 322v1m18-405v1m0 41v1m0 36v1m0 130v1m0 6v2m1-213v1m11 74v2m0 156v1m3-157v1m0 155v1m19-164v2m0 312v1m1-176v2m0 13v1m0 8v1m6-27v1m0 166v1m1-166v1m7-1v2m2-137v1m12 160v1m6-164v1m7-22v2m0 157v1m2-1v2m0 170v1m0 3v1m1-177v2m0 170v1m0 3v1m1-335v1m0 1v1m0 18v1m10-18v1m2 342v1m10-339v1m0 330v1m1-332v1m0 159v1m1-162v1m0 342v1m1-13v1m1-1v1m3-333v1m2 340v1m0 1v1m1-342v1m0 340v1m1-342v1m0 340v1m5-5v1m0 1v1m1-1v1m1-1v1m4-3v1m1 1v2m1-337v1m6 335v1m1-338v1m6 1v1m0 1v1m1-3v1m0 1v1m3-2v1m1 332v1m2-333v1m1-1v1m4 322v1m7-9v2m2-314v1m7 3v1m5 158v1m5 1v1m0 1v1m0 152v1m1-1v1m6-5v2m0 2v1m1-148v1m4-159v1m0 1v1m3 1v1m0 152v1m0 147v1m1-161v1m1-147v2m6 4v1m0 307v1m1-174v1m5-156v1m1 14v1m1 134v1m4-142v1m0 12v2m0 128v1m1-141v1m0 315v1m1-316v1m0 305v1m0 12v1m1-320v1m0 305v1m0 12v1m3-157v2m1-178v1m0 325v1m4-325v1m3 147v2m7-156v1m16-6v1m3 168v1m1-2v1m7-175v1m4-1v1m0 344v1m3-170v1m0 167v2m9-345v1m5 343v1m2-345v1m0 164v1m0 178v1m4-185v2m1 177v1m6-178v1m0 171v1m4-2v2m5-322v1m0 149v1m5-154v1m2 153v1m5-6v1m2 174v1m3-2v1m4 4v1m5-324v1m7 0v1m0 2v1m1-8v1m0 327v1m14-322v1m3 324v1m12 3v1m0 2v1m3-176v1m15-163v1m1 163v1m5-2v1m1-161v1m4 0v1m4-1v1m1 321v1m3-165v1m1-162v1m6 310v1m7-153v1m0 160v1m1-321v1m0 161v1m1-158v1m6-3v1m1 156v1m0 2v1m3-164v1m0 161v1m0 3v1m5-6v1m7-158v1m4-4v1m0 1v1m8 0v1m0 322v1m5-161v1m0 21v1m2-26v1m3 163v1m15-4v1m7-161v1m0 161v1m2-167v1m5 2v1m5-2v1m4-1v1m7-3v1m1 167v1m12-334v1m12 4v1m2-1v1m0 161v1m6 163v1m1-169v1m1 3v1m0 168v1m6-6v1m0 4v1m1-6v1m6-331v1m0 162v1m1-164v1m0 162v1m4-161v1m6 159v3m2-164v1m8 0v1m6 162v1m1-164v1m0 160v1"/>
<path stroke="#ff6000" stroke-width="2" d="M237 429v1m10 1v1m2-3v1m15-158v3m10 154v1m0 2v1m2-164v1m22-2v1m5 327v1m2 3v1m7-6v1m5-329v1m7 5v1m0 327v1m8-333v1m0 163v1m5-2v1m2-2v1m24-5v1m3-241v1m0 82v1m7 0v1m10-36v1m2 34v1m5-75v1m0 69v1m2-25v1m0 2v1m0 22v1m0 134v2m5-138v1m3 0v1m7 2v1m5 305v1m2-5v1m0 2v1m3-364v2m0 204v2m0 11v1m0 151v1m0 4v1m0 6v1m2-353v1m0 185v1m0 1v1m0 154v2m2-160v1m3-189v2m0 23v1m0 315v1m0 1v1m2-318v1m0 163v1m0 149v1m0 6v1m5-321v1m0 131v1m0 17v1m0 10v1m0 143v2m2-307v1m8 161v1m7-2v1m5-191v1m0 192v1m2-195v2m0 26v1m0 1v1m3 132v1m0 172v2m2-145v1m15 153v2m5 0v1m9-1v1m0 2v1m12-9v1m22-158v1m7-165v1m5 337v1m8-12v3m7-324v2m5-1v1m0 310v1m0 1v2m2-1v1m10-6v1m2 7v1m5-2v1m7 5v1m3-170v1m0 6v1m0 10v1m5-11v1m0 1v1m2 158v1m12-327v1m7 8v1m0 143v1m8-154v1m0 1v1m0 329v1m7-180v1m12-155v1m7-7v2m0 165v1m0 169v1m8-342v1m0 173v1m4 167v1m0 1v1m10-347v1m0 334v1m5-333v1m0 342v1m12-181v1m0 170v1m15 0v1m2-179v2m5 1v1m7 0v2m7-152v1m8 3v1m12 327v1m10-170v1m0 171v1m4-3v1m8-335v1m0 6v1m5 157v1m2 0v1m5-1v1m2 0v1m7-162v1m13-7v1m0 164v1m4-158v1m3 155v1m0 3v1m7-168v1m0 6v1m0 159v1m5-160v1m2 306v1m0 2v1m8-152v1m7-161v1m0 157v1m10-164v1m0 328v1m7-164v1m2 26v1m5-188v1m0 324v1m3-4v1m4-323v1m0 157v1m0 161v1m3-326v1m10 325v1m2 2v1m5-170v1m2 2v1m0 166v1m5-168v1m3-1v1m4-3v1m3-2v1m0 168v1m5-331v2m0 160v2m0 165v1m7-3v1m5-165v1m2-3v1m15-1v1m5 171v1m2-1v1m5-170v1m12 160v1m2-323v1m8 322v1m0 1v1m0 1v1"/>
<path stroke="#ff4000" stroke-width="1" transform="translate(.5)" d="M221 430v1m4-1v1m3-1v1m4 0v1m1-4v1m47 169v1m1-1v1m3-4v1m0 3v1m2-4v1m6-166v3m0 165v1m2-167v1m1-1v1m1 161v1m0 3v1m3-2v1m8-333v1m1 167v1m6-233v1m0 398v1m1-400v1m0 398v1m3-2v1m1-168v1m2-3v1m1-1v1m3-164v1m0 161v1m1-158v1m0 158v1m2-165v1m0 161v1m1-163v1m0 161v1m1 168v1m3-4v1m1 2v2m1-5v1m5-328v1m0 327v1m0 1v2m2-334v1m5-1v2m5 162v1m1-163v1m0 327v1m11-400v1m0 5v1m7-18v1m0 3v1m22 75v1m1-1v1m7 138v1m4-169v1m5-11v1m0 3v1m0 38v1m17 159v2m0 159v2m1-174v1m0 10v1m6-161v1m0 130v1m0 2v1m0 164v1m1-302v2m0 133v1m0 2v1m0 25v1m7-30v2m0 25v1m2 1v1m5-33v1m12-136v1m8 314v2m0 5v2m0 7v1m2-329v1m0 139v1m1-141v1m0 139v1m1-139v1m0 327v1m10-186v2m1 182v1m7-11v2m1-2v2m4-171v1m0 170v2m1 7v1m5-341v1m0 330v1m3-169v1m1-1v1m4 171v1m0 1v1m4-3v1m5-170v1m7 3v1m0 167v1m5-1v1m0 3v1m1 0v1m1-1v1m8-338v1m0 332v1m3-333v2m4 0v1m3 162v1m7-163v1m2 1v1m0 158v1m10-154v1m15 315v1m1-171v1m1 18v1m0 150v1m5 4v1m2-1v1m6-337v1m0 21v2m1 295v1m3-321v1m0 17v1m1 139v1m1-139v1m0 317v1m1-181v1m1-1v1m5-148v1m27 153v1m2-3v1m0 2v1m4 0v1m4-1v1m3 168v1m7-170v1m9-176v1m0 346v1m5-179v1m2-166v1m0 337v1m5-5v1m6-6v1m9-168v1m5-157v1m0 321v1m0 3v1m2-4v1m5-322v1m2 149v1m3 1v1m4-156v1m0 328v1m3 0v1m5-327v1m3 324v1m1-325v1m7 4v1m8-7v1m3-1v1m0 333v1m3-330v1m1 0v1m3-4v1m0 2v1m4 157v2m5-161v1m8 0v1m7 157v2m5-2v1m1-162v2m9 1v1m0 156v1m12 148v1m5 8v1m1-318v1m0 159v1m6 147v1m10-311v1m0 164v1m0 147v1m5-312v1m1 2v1m6-2v1m5 0v1m2 324v1m5-332v1m0 1v1m0 328v1m12-169v1m15 166v1m2-330v1m0 328v1m5-170v1m0 3v1m5-163v1m4 0v1m7 324v1m1-331v1m5 330v1m1-169v1m1-1v1m4 168v1m6-333v1m0 329v1m2-167v1m0 1v1m6 163v1m0 3v1m1-171v1m6-162v1m0 330v1m7-3v1m2-168v1m5-1v1m7 0v1m0 161v1m5-327v1m5-1v1m0 162v1m5-3v1m6-157v1"/>
<path stroke="#ff4000" stroke-width="2" d="M220 430v1m3-4v1m4-1v1m0 3v1m3-4v1m0 1v1m5 0v1m7-2v1m27-159v1m7 156v1m15-1v1m0 4v1m12 164v1m7-169v1m14 1v1m8-161v1m0 158v1m5-165v1m0 162v1m0 165v1m7 4v1m2-338v1m5 166v1m7-169v1m12 8v1m8-4v1m5-34v1m4 13v1m0 17v2m3-76v1m2 6v1m0 39v1m5-5v1m3 3v2m4 27v1m8-34v2m0 339v1m2-307v1m0 301v2m0 7v1m3 14v1m2-356v1m0 339v2m2-350v2m0 29v1m0 165v1m0 165v2m5-18v1m0 1v1m5-180v1m0 11v1m2-149v1m5-2v1m0 162v1m8-1v1m2-33v1m0 172v1m7-141v1m3-166v1m2 132v1m0 29v1m15-181v1m0 159v1m0 180v1m5-340v1m2 0v1m12 335v2m7-334v1m0 160v2m8 1v1m7 1v1m5-163v1m22 325v1m4-159v1m0 150v1m0 2v1m8-315v1m7 3v1m2 307v1m3-307v1m0 154v1m0 147v1m2-147v1m5-156v1m7 2v1m0 158v1m0 1v1m0 144v1m8 2v1m2-302v1m0 150v1m5-173v1m7-3v1m0 3v2m7-6v1m8 151v1m0 173v1m31-338v1m0 171v2m3-174v1m0 173v1m0 167v1m4-171v1m3 169v2m5-1v1m2-1v2m5-1v1m2-348v1m0 344v1m25-11v3m7-7v1m2-320v1m5 324v1m7-329v1m0 157v2m5-1v1m15 174v1m10-328v1m46 162v1m4-3v1m0 1v1m0 157v1m3-317v1m5-1v1m2-7v1m0 318v1m5-4v1m2-152v1m5-4v1m3 1v1m5-159v1m12-1v1m14-5v1m7 161v1m3-3v1m10 166v1m0 1v1m9-332v1m8 162v1m7 0v1m0 165v1m5-2v1m7-327v1m0 161v1m0 168v1m7-332v1m0 161v1m5-4v1m7 3v2m3-2v1m5-4v1m0 165v1m2-165v1m7-4v1m5 166v1m5-165v1m10 162v1m7-327v1m0 1v1"/>
<path stroke="#ff2000" stroke-width="1" transform="translate(.5)" d="M217 428v1m8-1v1m3-1v1m34 0v1m5-157v1m13 157v1m0 164v1m1-166v1m0 164v1m3-167v1m1-163v1m0 325v1m1 4v1m1-1v1m1-1v1m1-333v1m12 4v1m0 321v1m5 1v1m0 1v1m7-165v1m0 165v1m5-168v1m2 164v1m6-330v1m4 328v1m4-2v1m1-330v1m6 164v1m1-3v1m0 169v1m5-4v1m1-334v1m1-1v1m3 335v1m9-333v2m6-81v1m0 3v4m0 75v1m0 322v1m8-398v1m20 69v1m3-2v1m3 138v1m4-169v1m0 162v1m3-160v1m0 27v1m2-43v1m0 3v1m0 39v1m18 158v1m6-30v1m1 1v1m0 24v1m0 1v1m4-2v1m10-192v1m0 30v1m0 158v1m2 1v1m10-166v1m8 2v1m4-21v1m0 332v1m3-332v1m0 335v1m1 7v1m6-1v1m1 2v2m11 0v1m1-13v1m2 1v1m1-1v1m5 6v1m7-3v1m1-3v1m1-1v1m1-335v1m0 163v1m3 1v1m0 173v1m2-1v1m17 0v1m5-335v1m3 161v1m4-163v1m0 161v1m0 153v1m3-154v1m0 151v1m2-4v1m0 2v1m7-1v3m10-151v1m1 151v1m6-307v1m5 162v1m0 144v1m3-160v1m0 13v1m1 147v1m1-2v1m5 2v1m1-307v1m1 134v1m0 165v2m5-327v1m0 19v1m0 137v1m0 4v2m1 170v1m4-181v2m2-157v1m0 15v1m0 318v1m7-2v1m3-331v2m5 320v3m7-3v2m5-329v1m2 160v1m0 167v1m18-163v1m0 166v1m4-343v1m0 174v1m19-10v1m5-3v1m20-158v1m2 159v1m0 165v1m7-172v1m0 170v1m3-169v1m7-150v2m0 147v1m0 171v1m1-319v1m4 145v2m3-2v1m0 172v1m1-322v2m1 320v1m6-323v1m1-2v1m10 2v1m4 326v1m12-332v1m1-2v1m5 3v1m1-2v1m7-2v1m23 159v1m3-2v1m0 151v1m1-311v1m7 0v1m0 156v1m1 158v1m0 1v1m7-318v1m0 303v1m3-308v2m0 162v1m4-163v1m6-2v1m2 163v1m4-165v1m6 324v1m2 0v1m6-327v1m1 328v1m10-169v1m3-162v1m5 159v1m0 159v1m1-321v1m0 1v1m1 323v1m7-169v1m0 166v1m5-1v1m1-329v1m1 2v1m7-2v1m0 159v1m3-161v1m5-2v1m5-3v1m0 330v1m1-344v1m0 174v2m1-177v1m0 174v2m3-165v1m0 5v1m0 157v1m0 164v1m2-168v1m0 2v1m0 168v1m12-7v1m1 3v1m1 0v1m3-171v1m12 1v1m5 164v3m1 1v1m1-1v1m3-331v1m1-4v1m6 326v1m2-166v1m3 165v2m4-168v2m6-161v1m1 157v1m1 1v1"/>
<path stroke="#ff2000" stroke-width="2" d="M220 429v1m41-2v1m3 1v2m5-158v1m2 156v1m5-1v1m2-3v2m0 1v1m20-3v1m0 2v1m7-163v1m12 160v1m7-1v1m0 163v1m8 4v1m7-331v1m5 161v1m19-160v1m3 1v1m0 320v1m12-327v1m7 293v1m2-372v2m10 43v1m0 29v1m17 160v1m0 1v1m3-195v1m0 1v2m0 188v2m0 154v1m0 6v1m0 4v1m2-2v1m5-182v2m0 170v1m2-322v1m0 319v1m5-321v1m0 139v1m2-140v1m15-29v1m5 26v1m0 162v1m7-166v1m5 311v1m2-311v1m0 137v1m8-156v1m0 334v1m0 3v1m0 3v1m7 2v1m7-1v1m5-178v1m0 167v1m15-329v1m14 0v1m7 3v1m5 334v1m12-17v1m3-2v1m7-152v1m5-161v1m5 3v1m2 309v1m5-307v1m0 154v1m10-151v1m5 146v1m0 3v1m0 5v1m2-156v1m0 143v1m5-143v1m7-22v1m7-3v1m0 13v1m0 315v1m8-330v1m14-3v1m0 156v1m0 167v1m7-169v1m5 5v1m5 167v1m3 0v1m4-168v1m3-2v1m7-176v1m12 5v1m0 338v1m8-183v1m7-1v1m5 0v1m2 171v1m15-329v1m12 5v1m0 4v1m5-6v1m0 325v2m2 1v1m15-167v1m0 168v1m7 0v2m10 5v1m7-336v1m7-5v1m10 162v1m5 0v1m4 155v1m3-5v1m12-317v1m17-1v1m24 163v1m3-163v1m0 326v1m7-167v1m5 160v1m19-319v1m0 154v1m22-165v1m5 166v1m9-163v1m5 158v1m8 1v1m2-162v1m5-5v1m0 164v1m2 0v1m5-4v1m5 166v1m2-330v1m0 163v1m0 162v1m13-166v1m0 1v1m2-3v1"/>
<path stroke="#ff0000" stroke-width="1" transform="translate(.5)" d="M221 429v1m46-1v1m22 1v1m3 166v1m2-167v1m0 166v1m1-168v1m0 166v1m4-3v1m8 2v1m7-400v1m1-1v1m6 231v1m0 162v1m1-164v1m0 162v1m3-166v1m0 169v1m5-333v1m0 2v1m3 157v1m1-161v3m0 325v1m6-329v1m1-4v1m0 334v1m6-4v2m1-3v1m1-1v1m10-328v1m1 1v1m1-3v1m3-82v2m3-1v1m0 79v1m8-74v1m0 71v1m26-1v3m4-2v1m3-30v1m26 190v1m1-24v2m9 19v1m5-191v1m0 331v2m2-144v1m11-164v1m7 0v1m0 1v1m0 136v1m2 173v1m1-1v1m1-1v1m3-332v1m0 159v1m0 173v1m7-332v2m0 332v1m1 8v1m11-343v1m0 334v1m3-1v1m1-1v1m4 8v1m2-343v1m1-1v1m1 163v2m3 174v1m4-173v1m3-165v1m0 163v1m2 170v1m5-334v1m0 337v1m2-339v1m0 164v1m5 169v1m1-169v1m1-1v1m6 0v1m0 161v1m1-163v1m0 161v1m8-164v1m10-160v1m0 159v1m0 152v1m12-309v1m8 310v1m4-304v1m0 304v1m5-304v1m14-22v1m0 154v1m4 179v1m1-4v1m1-336v1m0 332v1m1-334v1m0 332v1m3-325v1m0 5v1m0 141v1m1-146v1m0 143v2m2-146v1m1-1v1m1-6v1m0 327v1m5-180v2m5-155v1m0 153v1m0 168v1m2-169v1m7-159v1m5-1v1m2-5v1m0 1v1m0 335v1m8 0v1m3-342v1m14 341v1m0 1v1m7-346v1m2 165v1m5 168v1m8-176v1m1-1v1m4 174v1m14-176v1m2-156v1m0 323v1m11-314v1m8-6v1m1 0v1m0 2v1m5-2v1m0 324v2m9-329v1m3-1v1m11 332v1m1 2v1m3 1v2m15-338v1m14 0v1m5-3v1m7 315v1m1-315v1m8 318v1m5-10v1m1-311v1m8-2v1m6 2v1m5 0v1m16-5v1m7 0v1m6 1v1m5 157v1m0 164v1m2-323v1m7 324v1m5-332v1m5-1v1m11 329v1m7-346v1m0 1v1m0 177v1m1-181v1m0 1v1m0 177v1m3-161v1m7-6v1m0 1v1m0 330v1m2-170v1m6 165v1m1-3v1m3-165v2m3-165v1m0 329v2m2-334v1m0 163v2m6-166v1m7 165v1m0 164v1m1-166v1m0 164v1m3-3v1m7-325v1m2 159v1m8-159v1m6 157v1"/>
<path stroke="#ff0000" stroke-width="2" d="M227 428v1m10 1v1m24 1v1m8-1v1m5-3v1m2-1v1m15 169v1m7-2v1m7-168v1m5-1v1m2-166v1m0 165v2m12-4v1m13 169v1m2-334v1m0 332v1m5-171v1m22-227v1m17 63v1m2-32v1m0 31v1m0 293v1m5-318v1m0 159v1m2-141v1m8 2v1m4-39v1m3 40v1m7 157v1m0 151v1m0 1v1m3-347v1m0 347v1m7-354v2m0 182v2m0 11v1m0 157v1m7-158v1m2-211v2m8 187v1m7-140v1m0 128v1m0 172v1m7-1v1m5-173v1m5-136v1m2 0v1m8 141v1m0 177v1m5 7v1m14-9v1m0 12v1m15-344v1m0 339v1m7-174v1m7 170v1m12 4v1m12-20v1m10-314v1m5 2v1m2 310v1m3 2v1m2-155v1m5 156v1m2-3v1m8-302v1m7 141v1m0 6v2m0 1v1m0 154v2m5-308v1m0 307v1m2-176v2m27-157v1m0 324v1m14-331v1m20 168v1m5-3v1m7-5v1m0 1v1m2-1v1m0 172v2m5-178v1m15 165v2m12-171v1m0 166v1m2-320v1m0 315v1m5 1v1m7-322v1m0 326v1m8-321v1m12 324v1m2-328v1m8 3v1m4-5v1m13-2v1m0 337v1m14-340v1m10 0v1m0 3v1m0 157v1m5-159v1m7-4v1m0 160v1m0 152v1m5-156v1m0 152v1m2-318v1m0 318v1m5-151v1m0 148v1m0 4v1m2-159v1m5-162v1m3 163v1m19-164v1m5 329v1m2-327v1m0 324v1m5-1v1m15-6v1m5-326v1m2 0v1m5-2v1m2 162v1m0 165v1m8-167v1m4-164v1m3 161v1m7-183v1m0 1v1m0 178v1m5-1v1m5 0v1m2 165v1m7-168v1m0 1v1m0 163v1m5-326v1m22 327v2m5-333v1m2 328v1m8-166v1m12-163v1"/>
<path stroke="#df0000" stroke-width="1" transform="translate(.5)" d="M217 429v1m15-2v1m30 1v1m5-1v1m17 167v1m1-333v1m0 166v1m1 163v1m3-168v1m3 164v1m4-164v1m4-3v1m1-1v1m5 0v1m0 167v1m7-332v3m0 327v1m1-167v1m1-1v1m4-2v1m2 167v1m1-1v1m3-168v1m1 168v1m2-6v1m0 4v1m1-6v1m0 4v1m1-5v1m22-329v1m0 327v1m12-328v1m3 4v1m27-6v1m4-2v1m0 1v1m7 131v1m22 8v2m8 17v1m7 0v1m7-163v1m0 160v1m22 149v1m0 16v1m1-18v1m0 16v1m1-15v1m3 15v1m1-2v1m14-345v1m1-1v1m3 340v1m3-339v1m0 330v1m1-332v1m0 330v1m3 5v1m1 2v1m4-340v1m0 338v1m5-3v1m1-1v1m1-338v1m3-1v2m14 339v1m1-1v2m1-2v2m8-13v1m3-159v1m0 151v1m9-3v1m17 5v1m8-307v1m4 141v1m3-2v1m0 166v1m0 2v1m1-167v1m1-5v1m5 4v1m0 7v1m0 158v1m1-171v1m1-137v1m7 307v1m3-313v1m0 135v1m1-139v1m2-20v1m1-1v1m3 154v1m3-2v1m1-1v1m1 176v1m3-3v1m2-1v1m0 1v2m5-7v1m2-171v1m5 172v1m2-330v2m7 329v2m3-1v2m8-170v2m4-174v1m5 343v1m5-346v1m9 1v1m11 330v1m2-1v1m1-1v1m4-172v1m0 1v1m0 169v1m2-171v1m7-156v1m0 321v1m5-172v1m2-156v1m0 325v1m7-326v1m3 7v1m10 2v1m7 0v2m5-5v1m2 1v2m3 326v1m11 3v1m4-336v1m1 1v1m15-4v1m10 0v1m0 2v1m12 0v1m3 158v1m0 150v2m7-311v1m1-3v1m6 160v1m0 146v1m0 1v1m1-311v1m4 0v1m5 158v1m0 151v1m7-150v1m12-166v1m6 0v1m4-1v1m4 2v1m13 320v1m5 3v1m7-327v1m0 325v1m5-169v2m18-167v1m0 3v1m1-5v1m0 3v1m5 160v1m7-163v1m5 0v1m1 328v1m8-333v1m0 162v1m1 166v1m7-327v1m6 0v1m1-1v1m3 160v1m0 164v1m7-329v1m0 324v1m2-324v1m8 158v2m6-2v1m1-158v1"/>
<path stroke="#df0000" stroke-width="2" d="M223 429v1m41-1v1m10 1v1m4-1v1m5-163v1m0 159v2m22 2v1m7-3v2m5-160v1m7-5v1m0 327v1m27-167v1m0 1v1m5-170v1m7 8v1m3-70v1m0 390v1m17-347v1m0 152v2m2-165v1m2 10v1m3 19v1m0 135v1m14-174v1m10 347v2m3-315v1m0 1v1m0 161v1m0 162v1m2-6v2m2-4v2m0 5v2m3-329v1m7-1v1m0 162v1m2-19v1m8-4v1m7-140v1m0 159v1m7-166v1m0 163v1m0 144v1m3-311v1m0 165v1m2 143v1m22 14v2m7-338v1m12 2v1m0 343v1m8-179v1m7 171v1m0 3v1m5-3v2m2 2v1m7-174v2m0 171v1m17-171v1m3 158v2m5-163v1m0 1v1m7-159v1m0 311v1m2-156v1m3 2v1m2 153v1m5-153v1m2 150v1m8-144v1m0 146v1m5-162v1m0 6v2m2-151v1m0 136v1m0 4v1m0 2v1m0 1v1m0 4v1m5-171v1m2 14v1m0 3v1m5 129v1m15 0v1m7 168v1m5 3v1m2-3v1m24-337v2m10 172v1m7-174v1m25 162v1m7-3v1m0 1v1m7-158v1m0 153v1m12-149v1m3-2v1m5 1v1m0 1v1m2 322v2m7 3v1m25-168v1m2 181v1m14-345v1m20 162v1m0 149v1m5-154v1m0 1v1m0 1v1m0 148v1m0 1v1m2-320v1m0 318v2m5-158v1m2 2v1m13 151v1m7-311v1m7-1v1m15 154v1m7-155v1m10-6v1m7 2v1m2 156v1m5-159v1m17 323v1m10-330v1m2 163v1m7-1v1m8 0v2m7 163v1m5-167v1m7 0v1m7-3v2m5-163v1m0 160v1m10-157v1m5 154v1"/>
<path stroke="#bf0000" stroke-width="1" transform="translate(.5)" d="M267 431v1m18-165v1m0 161v1m1 168v1m1-167v1m0 162v1m1-164v1m0 162v1m1-1v1m11-328v1m6 0v1m0 327v1m1-327v1m0 158v1m0 164v1m6 0v1m0 2v1m5-331v4m0 323v1m3-165v1m1-1v1m3 163v1m1-325v1m0 324v1m4 2v1m3-169v1m8-2v1m1-163v1m0 327v1m6-332v2m0 1v1m1-4v2m0 1v1m10-4v1m1 0v1m15 3v1m18-34v1m1-38v1m14 32v2m2 36v1m18 139v2m6 16v1m5 1v1m5-1v1m5-164v1m20 310v1m2-311v1m1-1v1m4 315v1m0 3v1m0 1v1m1 4v1m8 2v1m5-1v1m1-1v1m1-1v1m3-344v1m0 160v2m1 168v1m2-333v1m0 162v1m1-164v1m0 162v1m3 1v1m5 172v1m7 3v1m5-1v1m5-171v1m2-167v1m5 336v1m1-171v1m1-1v1m8-1v1m3 152v1m4-152v1m10-162v1m0 309v1m20-299v2m0 155v1m0 150v1m4-149v1m3-158v2m1 140v1m6 0v2m0 167v1m7-179v1m2-1v1m4-156v1m2-1v1m0 10v1m0 4v1m0 137v1m1-155v1m0 10v1m0 4v1m0 137v1m3-143v1m0 322v1m1-331v1m0 329v1m16-336v2m5-2v1m0 157v1m2-2v1m5 172v1m17-167v1m5-2v1m5-176v1m0 174v1m0 171v1m34-182v1m2-154v1m10-7v1m0 158v1m0 1v1m4-160v1m3 3v1m1 326v1m4-326v1m3 0v1m0 151v1m0 172v1m2-326v1m12 328v1m2-328v1m13-1v1m1 330v1m11-334v1m1 1v1m33 159v1m2-2v1m0 152v1m5-151v1m2-160v1m5-1v1m2 157v1m7-161v1m11-3v1m7-1v1m12 3v1m4-3v1m7-2v1m6 325v1m5-325v1m2 0v1m5 155v1m0 1v1m0 165v1m2-328v1m7-4v1m0 163v1m3-166v1m4 1v1m1-2v1m6-15v1m1-1v1m3 343v1m7-330v1m0 325v1m1 3v1m1-333v1m5-1v1m2-1v1m6 0v1m0 329v1m9-332v1m0 162v2m5-161v1m1 159v1m1-1v1m3 0v1m0 164v1m2-167v1m0 164v1m0 1v1m10-169v2m0 1v1m4-163v1m1-1v1"/>
<path stroke="#bf0000" stroke-width="2" d="M230 429v1m39-1v3m2-2v1m20-165v1m7 164v1m5-163v1m0 327v1m7-331v2m0 164v1m2-163v1m0 328v1m5-165v1m7-167v1m0 327v1m8-2v1m7-328v1m0 326v1m0 2v1m5-169v1m2-162v1m0 158v1m34-233v2m7 38v1m3 7v1m0 21v1m27 0v1m0 321v2m4-325v1m0 328v2m5-178v1m5-211v1m2 200v1m0 19v1m15-163v1m0 162v1m5-165v1m7 306v1m15 14v1m5 8v1m9-346v2m0 160v1m0 182v1m27-341v1m0 337v1m34-170v1m0 150v2m12-1v1m5-150v1m7 154v1m7-306v1m0 306v1m3-149v2m0 149v1m5-171v1m2 172v1m5-310v1m2 308v1m12-332v1m0 13v1m0 320v1m22-337v1m0 156v1m0 170v1m5-329v1m0 329v1m19-166v1m8 0v1m7-177v1m0 170v1m22-8v1m5 1v1m2 0v1m0 166v2m7-175v1m0 2v1m0 166v2m5 1v2m7 3v1m5-174v1m22-151v1m0 328v1m0 1v1m7-331v1m15-3v1m7 3v1m5-3v1m22 160v1m5-2v1m0 1v1m2-1v1m5-160v1m2-5v1m0 2v1m5 304v2m20-310v1m7-1v1m0 191v1m0 134v1m10-168v1m17-160v1m9 159v1m0 165v1m0 1v1m5-168v1m7-166v1m0 3v1m0 160v1m3 0v1m5-166v1m2-19v1m0 15v1m0 334v1m17-335v1m0 165v1m10-3v1m14-165v1m0 164v1m10-2v1m2 164v1m5-1v1m3-323v1m0 158v1m5-160v1"/>
<path stroke="#9f0000" stroke-width="1" transform="translate(.5)" d="M232 429v1m52 166v1m8-1v1m8-326v1m0 160v2m0 165v1m8-5v1m5-325v1m0 325v1m1-326v1m0 161v1m1-163v1m0 161v1m4-166v1m0 2v1m6 0v1m0 159v1m1-163v1m0 328v1m7-332v1m2 160v1m0 2v1m5-163v1m0 326v1m8 1v1m1-1v1m11-329v1m4-1v1m0 1v1m3-1v1m26-36v1m1-40v1m14 39v2m0 30v2m26-6v1m15 164v1m24 161v1m3-7v1m9 9v1m5-3v1m1 1v1m1-1v1m4-344v1m0 163v1m0 180v1m2-345v1m1-1v1m3 0v1m0 161v1m3 174v1m0 1v1m1-3v1m0 1v1m6-3v1m1-1v1m4 3v1m2-339v1m5-1v2m0 164v1m0 170v1m2 2v1m6-4v1m1-1v1m8-168v1m0 156v1m0 3v1m3-9v1m0 2v1m4-6v1m5-152v1m17 154v1m8 1v1m4-161v1m0 12v1m5-14v1m0 163v1m5-163v1m0 1v1m2-147v1m0 308v1m7 4v1m4-323v1m0 139v1m7-146v1m2 325v1m1-1v1m18-337v1m0 326v1m2-169v1m0 169v1m7-168v1m3 1v1m8-173v1m9 172v2m5-177v1m0 174v1m2-4v1m11 163v1m21-169v1m2-2v1m5 162v1m5 4v2m7-323v1m1 4v1m0 318v1m4-322v1m0 1v1m0 320v1m10-324v1m0 2v1m7-1v1m0 325v1m5-331v1m7 1v1m3-1v1m12-3v1m2-2v1m14-1v1m15 1v1m3 161v1m2-160v1m5 155v2m0 155v1m7-156v1m10 150v1m12-313v1m14 326v2m18-330v1m0 322v1m2-322v1m0 323v1m24-166v1m0 1v1m4-167v1m11 333v1m7-6v1m0 2v2m1-3v1m6-330v1m9 163v1m7-166v1m0 329v1m6-331v1m1 163v1m1-1v1m3-2v1m9-161v1m7 1v1"/>
<path stroke="#9f0000" stroke-width="2" d="M261 273v1m0 156v1m8-158v1m14-6v1m0 162v2m8 161v1m7-326v1m0 325v1m7-326v1m7 325v1m5 4v1m7-331v1m13 0v1m2-1v1m0 325v2m7-168v1m34-232v1m3 38v2m0 6v1m2-13v1m2 2v1m0 2v2m0 158v2m10-134v1m3 0v1m4-29v1m0 175v1m10-150v1m3 323v1m2-163v1m2-2v2m3-1v1m2-13v1m0 155v1m27-145v1m5-167v2m2-1v2m5 0v1m10 325v1m12 2v1m7-182v1m0 178v1m15-3v2m7-337v1m0 337v1m7-171v1m41 156v2m3-2v2m7 0v1m7-304v1m0 304v1m0 1v1m3 0v1m5-152v1m0 150v1m2-166v2m0 5v1m0 3v1m5-168v1m0 14v1m2-16v1m0 14v1m0 310v1m12-322v1m0 320v1m15-177v1m0 168v1m12-328v1m0 329v1m2-2v1m25 7v1m9 0v1m34-186v1m12-151v1m13 3v1m7 327v1m2-1v1m5 1v1m7-328v1m3-3v1m12 341v1m14-343v1m5 0v1m3-3v1m0 158v1m9-160v1m10 159v1m5 155v1m7-313v1m0 159v1m3-165v1m19 2v1m7-2v1m8-1v1m7 158v1m5-158v1m5-2v1m0 324v1m2-326v1m12-6v1m0 162v1m7-162v1m3-4v1m5 331v1m2-167v1m5-3v2m5-163v1m2 161v1m5-1v1m10-166v1m12 3v1m0 330v1m7-172v1m0 166v1m0 2v1m5-7v1m2-325v1m5 161v1m3-164v1m5 1v1m2-2v1"/>
<path stroke="#800000" stroke-width="1" transform="translate(.5)" d="M232 430v1m52 166v1m1-168v3m0 162v5m2-4v3m1-3v3m1-3v4m3-3v1m2-167v1m0 163v4m1-168v1m0 163v4m1-3v3m4-330v2m0 160v1m0 163v4m1-332v5m0 159v3m0 161v5m6-333v4m0 160v3m0 162v4m1-333v5m0 159v3m0 162v5m6-333v4m0 161v1m0 1v1m0 160v5m1-333v4m0 161v1m0 1v1m0 160v5m3-4v3m1-330v2m0 324v5m2-332v4m0 324v2m0 1v1m1-332v4m0 324v2m0 1v1m3-332v4m0 324v4m1-331v1m0 327v2m2-331v5m0 157v2m0 164v4m1-332v5m0 157v2m0 164v4m1-331v2m3-2v4m0 157v1m0 165v5m2-333v5m0 157v2m0 164v5m6-334v5m0 159v1m0 164v5m1-334v1m0 1v2m0 326v3m6-333v1m0 330v1m1-332v1m0 330v1m3-336v5m0 329v3m1-337v5m6-2v4m1-3v4m4-1v1m0 1v1m3-2v1m26-5v2m0 136v2m1-140v2m4 0v1m29 137v2m7-141v2m0 160v2m15-1v1m12-165v1m10 2v1m0 308v1m0 14v3m1-327v1m0 308v1m0 14v3m1-2v3m3-8v1m0 1v7m2-3v3m5-3v4m2-4v2m5-1v2m1-3v2m1-2v2m3-343v1m0 340v4m1-344v1m0 339v4m2-181v1m0 176v5m1-182v1m0 176v5m3-345v1m0 338v5m1-5v2m2-2v1m0 1v1m1-3v1m0 1v1m1-341v1m0 336v3m3-3v1m4-1v3m3-2v3m2-339v1m0 336v1m0 1v1m5-3v1m0 1v2m2-3v3m6-2v1m1-1v1m3-3v4m3-7v6m1-6v6m1-334v1m0 163v1m0 159v2m0 1v5m3-168v1m0 154v2m4-7v2m5-152v1m0 149v1m5-152v2m0 150v3m20-146v1m0 143v2m0 5v1m4-166v4m0 162v2m3-169v6m0 12v2m0 147v2m1-168v2m1-139v3m0 133v5m0 12v2m0 149v1m5-306v4m0 132v5m0 4v1m0 1v2m0 160v2m2-310v1m0 306v1m0 1v2m5-334v4m0 16v4m0 132v1m0 175v5m2-339v3m0 17v5m0 310v3m3-338v3m0 15v4m0 312v5m1-339v2m0 15v3m0 314v4m2-335v1m0 10v4m0 316v4m1-335v1m0 10v4m0 316v4m3-328v4m0 319v4m1-329v3m0 322v4m2-332v7m0 144v2m0 174v5m1-332v7m0 144v2m0 174v5m1-165v2m0 159v2m3-4v4m2-4v1m12-174v2m0 169v1m7-333v3m0 161v3m0 167v1m0 1v1m2-170v1m8-173v2m3-2v1m9 342v2m5-170v1m9-175v1m0 340v2m4-181v3m0 170v4m9-178v1m1-1v1m4 0v1m0 171v1m7-171v2m0 165v3m2-325v1m0 154v1m5 164v2m5-326v2m0 328v1m7-325v1m1 0v4m4-3v2m0 1v1m0 1v1m0 317v2m3-328v3m0 2v4m0 320v1m2-323v2m5-3v2m2-2v1m5-2v3m0 325v1m5-329v3m4-3v2m3-2v1m4-2v4m0 329v1m1-334v4m3-4v4m2-4v4m5-3v2m2-3v3m5-4v4m2-4v4m5-4v4m2-3v3m3-3v2m4-2v3m1-4v4m3-3v4m4-4v1m0 1v1m3-3v4m2-4v4m0 157v3m0 146v3m5-313v4m0 158v1m0 156v1m2-320v4m0 156v4m0 154v1m5-319v4m0 157v1m2-162v4m0 157v1m7-161v1m1-2v5m6-5v4m1-4v4m3-3v3m2-2v1m5-2v3m2-3v3m5-3v4m1-2v1m1-3v4m0 325v1m3-329v2m4-1v1m3-3v4m4-3v3m1-4v4m3-4v4m0 155v1m0 163v1m1-322v1m1-3v1m0 1v1m5-4v3m2-3v4m5-5v4m0 158v1m2-163v2m3-2v2m4-2v2m3-3v3m0 161v1m4-165v1m0 1v1m1-2v1m6-3v3m0 327v5m1-335v3m0 327v5m3-335v1m0 1v2m0 328v2m2-334v4m0 161v1m0 164v5m5-4v1m2-331v1m0 1v1m0 326v5m5-334v1m0 328v4m2-333v3m0 161v1m0 164v4m3-334v5m0 325v5m4-334v4m0 159v2m0 164v5m1-334v4m0 326v4m6-333v2m0 328v3m1-334v3m0 327v5m5-334v2m0 330v1m1-334v4m0 327v3m1-334v4m0 327v3m3-334v4m1-1v1m1-4v5m0 157v1m0 1v1m0 164v1m5-327v1m2-2v1m3-1v4m4-2v1m1-1v2m6-3v3m1-3v3"/>
<path stroke="#800000" stroke-width="2" d="M223 428v1m0 1v1m4-2v2m8-3v3m26-159v1m0 156v1m0 1v1m15 0v1m7 162v5m8-333v3m0 160v4m0 161v5m7-330v2m0 160v1m0 163v3m7-332v3m0 161v1m0 163v5m5-331v2m0 325v4m2-332v3m0 326v3m5-332v5m0 160v3m0 159v6m7-329v1m0 326v2m8-331v3m0 325v3m5-332v3m0 326v3m2-332v1m5-4v6m0 325v5m2-336v5m0 160v1m0 1v1m0 163v5m5-338v6m0 327v5m5-337v5m2-5v6m5-3v5m3-2v5m0 320v1m14-397v1m3 37v2m2-3v1m0 2v2m19 0v1m0 175v1m8 1v2m2-151v2m3 301v2m0 12v2m2-174v2m2-149v1m0 322v3m5-18v1m5-368v1m17 221v1m5-165v1m0 162v1m2-164v1m0 162v2m3-1v1m2-167v1m5 1v1m2 0v1m8 320v1m0 5v4m5-3v3m2-3v4m5-4v1m0 1v2m2-185v1m0 180v3m5-345v3m0 160v1m0 170v1m0 7v4m7-4v4m8-5v2m7-2v1m5 2v2m2-340v2m0 334v4m5-339v3m0 162v3m0 167v5m2-339v1m0 334v3m20-171v2m0 144v2m5-148v1m2-2v2m0 149v3m5-154v2m0 151v3m12 3v1m7-148v1m3-157v1m0 137v6m0 160v1m5-304v4m0 133v6m0 9v2m0 152v4m2-308v1m0 134v1m0 1v1m0 5v1m5-161v1m0 324v3m2-334v5m0 16v2m0 309v3m5-339v4m0 16v5m0 133v2m0 175v5m7-325v2m0 319v2m8-6v4m7-178v1m5-157v3m0 153v3m0 167v3m7-171v3m0 166v2m2-331v3m0 158v3m0 167v3m17 2v1m3-171v1m5 0v1m7-175v1m2-2v2m0 167v3m5-170v4m0 160v3m0 172v4m22-180v2m5-156v3m0 150v1m0 166v2m2-321v2m0 149v1m5-158v2m0 325v1m12-319v6m0 317v3m8-323v3m2-6v6m0 321v1m5-327v5m2-4v4m5-4v4m3-5v4m0 327v1m4-330v1m3-3v1m0 1v2m5-4v3m5-3v4m2-4v4m5-5v4m2-4v4m5-3v1m2-2v1m5-1v3m3-1v2m0 157v1m5-162v4m4-2v3m3-3v3m5-4v4m0 310v1m2-315v4m0 157v2m5-163v4m0 156v4m0 151v1m0 1v1m2-317v2m0 158v1m5-162v4m0 157v3m0 143v1m3-307v3m5-4v4m0 309v1m2-314v4m5-4v4m5-3v3m2-3v2m5-2v4m0 186v1m0 1v1m0 134v2m2-329v1m0 1v1m5-3v4m0 323v1m3-326v2m4-4v4m3-4v4m5-4v3m5-2v1m2-2v2m0 324v1m5-328v3m2-4v5m5-5v3m3-4v4m4-4v1m3-1v3m5-4v1m2-1v4m0 160v2m0 164v4m5-334v4m0 326v5m5-334v2m0 327v5m2-335v4m0 327v4m5-334v3m0 160v1m0 165v5m2-335v4m0 162v1m0 163v5m5-335v4m0 160v3m0 162v6m3-334v4m0 325v5m5-335v4m0 327v4m2-335v4m0 160v1m0 166v4m5-334v3m0 327v4m2-334v4m0 159v1m0 166v5m5-335v4m5-3v4m0 157v1m0 1v1m0 163v1m2-328v2m5-1v4m0 157v2m0 164v1m3-327v3m0 156v2m5-161v1m0 1v1m2-1v1m5-3v4m0 155v3"/>
</g>
<path d="M156 68.5H980M979.5 68V803M156 802.5H980" stroke="#000030" stroke-width="1" fill="none" shape-rendering="crispEdges" opacity="0.75"/>
<g shape-rendering="crispEdges">
<rect x="1011" y="793.50" width="43" height="12.10" fill="#00008f"/>
<rect x="1011" y="782.00" width="43" height="12.10" fill="#00009f"/>
<rect x="1011" y="770.50" width="43" height="12.10" fill="#0000af"/>
<rect x="1011" y="759.00" width="43" height="12.10" fill="#0000bf"/>
<rect x="1011" y="747.50" width="43" height="12.10" fill="#0000cf"/>
<rect x="1011" y="736.00" width="43" height="12.10" fill="#0000df"/>
<rect x="1011" y="724.50" width="43" height="12.10" fill="#0000ef"/>
<rect x="1011" y="713.00" width="43" height="12.10" fill="#0000ff"/>
<rect x="1011" y="701.50" width="43" height="12.10" fill="#0010ff"/>
<rect x="1011" y="690.00" width="43" height="12.10" fill="#0020ff"/>
<rect x="1011" y="678.50" width="43" height="12.10" fill="#0030ff"/>
<rect x="1011" y="667.00" width="43" height="12.10" fill="#0040ff"/>
<rect x="1011" y="655.50" width="43" height="12.10" fill="#0050ff"/>
<rect x="1011" y="644.00" width="43" height="12.10" fill="#0060ff"/>
<rect x="1011" y="632.50" width="43" height="12.10" fill="#0070ff"/>
<rect x="1011" y="621.00" width="43" height="12.10" fill="#0080ff"/>
<rect x="1011" y="609.50" width="43" height="12.10" fill="#008fff"/>
<rect x="1011" y="598.00" width="43" height="12.10" fill="#009fff"/>
<rect x="1011" y="586.50" width="43" height="12.10" fill="#00afff"/>
<rect x="1011" y="575.00" width="43" height="12.10" fill="#00bfff"/>
<rect x="1011" y="563.50" width="43" height="12.10" fill="#00cfff"/>
<rect x="1011" y="552.00" width="43" height="12.10" fill="#00dfff"/>
<rect x="1011" y="540.50" width="43" height="12.10" fill="#00efff"/>
<rect x="1011" y="529.00" width="43" height="12.10" fill="#00ffff"/>
<rect x="1011" y="517.50" width="43" height="12.10" fill="#10ffef"/>
<rect x="1011" y="506.00" width="43" height="12.10" fill="#20ffdf"/>
<rect x="1011" y="494.50" width="43" height="12.10" fill="#30ffcf"/>
<rect x="1011" y="483.00" width="43" height="12.10" fill="#40ffbf"/>
<rect x="1011" y="471.50" width="43" height="12.10" fill="#50ffaf"/>
<rect x="1011" y="460.00" width="43" height="12.10" fill="#60ff9f"/>
<rect x="1011" y="448.50" width="43" height="12.10" fill="#70ff8f"/>
<rect x="1011" y="437.00" width="43" height="12.10" fill="#80ff80"/>
<rect x="1011" y="425.50" width="43" height="12.10" fill="#8fff70"/>
<rect x="1011" y="414.00" width="43" height="12.10" fill="#9fff60"/>
<rect x="1011" y="402.50" width="43" height="12.10" fill="#afff50"/>
<rect x="1011" y="391.00" width="43" height="12.10" fill="#bfff40"/>
<rect x="1011" y="379.50" width="43" height="12.10" fill="#cfff30"/>
<rect x="1011" y="368.00" width="43" height="12.10" fill="#dfff20"/>
<rect x="1011" y="356.50" width="43" height="12.10" fill="#efff10"/>
<rect x="1011" y="345.00" width="43" height="12.10" fill="#ffff00"/>
<rect x="1011" y="333.50" width="43" height="12.10" fill="#ffef00"/>
<rect x="1011" y="322.00" width="43" height="12.10" fill="#ffdf00"/>
<rect x="1011" y="310.50" width="43" height="12.10" fill="#ffcf00"/>
<rect x="1011" y="299.00" width="43" height="12.10" fill="#ffbf00"/>
<rect x="1011" y="287.50" width="43" height="12.10" fill="#ffaf00"/>
<rect x="1011" y="276.00" width="43" height="12.10" fill="#ff9f00"/>
<rect x="1011" y="264.50" width="43" height="12.10" fill="#ff8f00"/>
<rect x="1011" y="253.00" width="43" height="12.10" fill="#ff8000"/>
<rect x="1011" y="241.50" width="43" height="12.10" fill="#ff7000"/>
<rect x="1011" y="230.00" width="43" height="12.10" fill="#ff6000"/>
<rect x="1011" y="218.50" width="43" height="12.10" fill="#ff5000"/>
<rect x="1011" y="207.00" width="43" height="12.10" fill="#ff4000"/>
<rect x="1011" y="195.50" width="43" height="12.10" fill="#ff3000"/>
<rect x="1011" y="184.00" width="43" height="12.10" fill="#ff2000"/>
<rect x="1011" y="172.50" width="43" height="12.10" fill="#ff1000"/>
<rect x="1011" y="161.00" width="43" height="12.10" fill="#ff0000"/>
<rect x="1011" y="149.50" width="43" height="12.10" fill="#ef0000"/>
<rect x="1011" y="138.00" width="43" height="12.10" fill="#df0000"/>
<rect x="1011" y="126.50" width="43" height="12.10" fill="#cf0000"/>
<rect x="1011" y="115.00" width="43" height="12.10" fill="#bf0000"/>
<rect x="1011" y="103.50" width="43" height="12.10" fill="#af0000"/>
<rect x="1011" y="92.00" width="43" height="12.10" fill="#9f0000"/>
<rect x="1011" y="80.50" width="43" height="12.10" fill="#8f0000"/>
<rect x="1011" y="69.00" width="43" height="12.10" fill="#800000"/>
<path d="M1011 778.5h8M1054 778.5h-8M1011 642.5h8M1054 642.5h-8M1011 506.5h8M1054 506.5h-8M1011 370.5h8M1054 370.5h-8M1011 234.5h8M1054 234.5h-8M1011 98.5h8M1054 98.5h-8" stroke="#000" stroke-width="1" fill="none"/>
<rect x="1011.5" y="69.5" width="42" height="735" fill="none" stroke="#000" stroke-width="1"/>
</g>
<text transform="translate(129 46.7) scale(1 1.05)" font-size="30">f=4.65 MHz;  lat=50.04; long=14.48, time=0 is at 2017 09 02 06:00</text>
<text transform="translate(566.7 870.3) scale(1 1.05)" font-size="30" text-anchor="middle">time [min]</text>
<text transform="translate(291.4 836.3) scale(1 1.065)" font-size="30" text-anchor="middle">20</text><text transform="translate(427.3 836.3) scale(1 1.065)" font-size="30" text-anchor="middle">40</text><text transform="translate(563.2 836.3) scale(1 1.065)" font-size="30" text-anchor="middle">60</text><text transform="translate(699.2 836.3) scale(1 1.065)" font-size="30" text-anchor="middle">80</text><text transform="translate(835.1 836.3) scale(1 1.065)" font-size="30" text-anchor="middle">100</text><text transform="translate(971.0 836.3) scale(1 1.065)" font-size="30" text-anchor="middle">120</text>
<text transform="translate(150 796.2) scale(1 1.065)" font-size="30" text-anchor="end">-10</text><text transform="translate(150 726.4) scale(1 1.065)" font-size="30" text-anchor="end">-8</text><text transform="translate(150 656.6) scale(1 1.065)" font-size="30" text-anchor="end">-6</text><text transform="translate(150 586.9) scale(1 1.065)" font-size="30" text-anchor="end">-4</text><text transform="translate(150 517.1) scale(1 1.065)" font-size="30" text-anchor="end">-2</text><text transform="translate(150 447.3) scale(1 1.065)" font-size="30" text-anchor="end">0</text><text transform="translate(150 377.5) scale(1 1.065)" font-size="30" text-anchor="end">2</text><text transform="translate(150 307.7) scale(1 1.065)" font-size="30" text-anchor="end">4</text><text transform="translate(150 238.0) scale(1 1.065)" font-size="30" text-anchor="end">6</text><text transform="translate(150 168.2) scale(1 1.065)" font-size="30" text-anchor="end">8</text><text transform="translate(150 98.4) scale(1 1.065)" font-size="30" text-anchor="end">10</text>
<text transform="translate(1058 785.7) scale(1 1.1)" font-size="21.5">4.5</text><text transform="translate(1058 649.7) scale(1 1.1)" font-size="21.5">5</text><text transform="translate(1058 513.7) scale(1 1.1)" font-size="21.5">5.5</text><text transform="translate(1058 377.7) scale(1 1.1)" font-size="21.5">6</text><text transform="translate(1058 241.8) scale(1 1.1)" font-size="21.5">6.5</text><text transform="translate(1058 105.8) scale(1 1.1)" font-size="21.5">7</text>
<text transform="translate(91.2,481) rotate(-90) scale(1 1.05)" font-size="30"><tspan font-size="27">Δ</tspan>f [Hz]</text>
</svg>
</body></html>
